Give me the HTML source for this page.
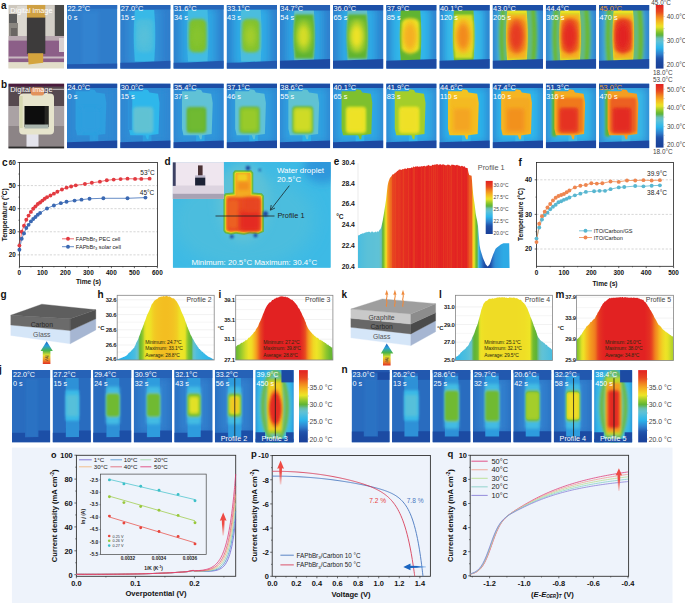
<!DOCTYPE html><html><head><meta charset="utf-8"><style>html,body{margin:0;padding:0;background:#fff;}svg{display:block;}</style></head><body>
<svg width="685" height="603" viewBox="0 0 685 603" font-family='"Liberation Sans", sans-serif'>
<rect width="685" height="603" fill="#fff"/>
<text x="0.90" y="9.40" font-size="10.00" fill="#111" font-weight="bold" text-anchor="start" >a</text>
<clipPath id="pa"><rect x="8.3" y="4.8" width="55.8" height="63.8"/></clipPath>
<filter id="pblur" x="-10%" y="-10%" width="120%" height="120%"><feGaussianBlur stdDeviation="0.6"/></filter>
<g clip-path="url(#pa)"><g filter="url(#pblur)">
<rect x="8.3" y="4.8" width="55.8" height="63.8" fill="#cdc7bd"/>
<rect x="17" y="6" width="11" height="34" fill="#dcd8d0"/>
<rect x="45" y="6" width="10" height="34" fill="#d2cec6"/>
<rect x="9" y="14" width="8" height="9" fill="#5c5c5c"/>
<rect x="9" y="23" width="9" height="17" fill="#8a8680"/>
<rect x="11" y="28" width="6" height="12" fill="#6a6664"/>
<rect x="54.8" y="5" width="9.5" height="31" fill="#4a4946"/>
<rect x="8.3" y="40.2" width="56" height="22" fill="#8c5e88"/>
<rect x="8.3" y="36" width="56" height="4.5" fill="#b8a8b0"/>
<rect x="8.3" y="56.5" width="56" height="2" fill="#c8b8c0"/>
<rect x="8.3" y="62.3" width="56" height="6.5" fill="#e2ddc9"/>
<rect x="59" y="38" width="5" height="14" fill="#d8d0d0"/>
<rect x="27" y="4.8" width="18.3" height="13.2" fill="#cfa042"/>
<rect x="26.9" y="17.6" width="18.4" height="36.2" fill="#3d3b3a"/>
<polygon points="28,53.2 43.2,53.2 43.2,62.8 28.5,64.6" fill="#d4a43c"/>
</g></g>
<text x="10.30" y="12.60" font-size="7.30" fill="#fff" font-weight="normal" text-anchor="start" >Digital image</text>
<clipPath id="c1"><rect x="67.00" y="5.00" width="50.40" height="63.80"/></clipPath>
<g clip-path="url(#c1)">
<rect x="67.00" y="5.00" width="50.40" height="63.80" fill="#2f7dcb"/>
<filter id="f2" x="-50%" y="-50%" width="200%" height="200%"><feGaussianBlur stdDeviation="1.50"/></filter>
<rect x="82.12" y="11.38" width="16.13" height="54.23" rx="0.00" fill="#3083d0" filter="url(#f2)"/>
<filter id="f3" x="-50%" y="-50%" width="200%" height="200%"><feGaussianBlur stdDeviation="0.50"/></filter>
<polygon points="67.00,5.00 117.40,5.00 117.40,8.83 67.00,8.83" fill="#296cbf" filter="url(#f3)"/>
<filter id="f4" x="-50%" y="-50%" width="200%" height="200%"><feGaussianBlur stdDeviation="0.60"/></filter>
<polygon points="67.00,64.33 117.40,63.38 117.40,68.80 67.00,68.80" fill="#2259af" filter="url(#f4)"/>
</g>
<text x="67.50" y="11.30" font-size="7.40" fill="#fff" font-weight="normal" text-anchor="start" >22.2&#176;C</text>
<text x="67.50" y="20.20" font-size="7.40" fill="#fff" font-weight="normal" text-anchor="start" >0 s</text>
<clipPath id="c5"><rect x="120.20" y="5.00" width="50.40" height="63.80"/></clipPath>
<g clip-path="url(#c5)">
<rect x="120.20" y="5.00" width="50.40" height="63.80" fill="#2f7dcb"/>
<filter id="f6" x="-50%" y="-50%" width="200%" height="200%"><feGaussianBlur stdDeviation="4.50"/></filter>
<rect x="124.23" y="7.55" width="41.33" height="58.70" rx="4.00" fill="#3083d0" filter="url(#f6)"/>
<filter id="f7" x="-50%" y="-50%" width="200%" height="200%"><feGaussianBlur stdDeviation="3.50"/></filter>
<rect x="130.28" y="8.83" width="29.23" height="56.14" rx="3.00" fill="#2f94d9" filter="url(#f7)"/>
<filter id="f8" x="-50%" y="-50%" width="200%" height="200%"><feGaussianBlur stdDeviation="0.70"/></filter>
<polygon points="134.82,10.10 134.43,16.52 134.10,22.94 133.88,29.36 133.81,35.78 133.88,42.20 134.10,48.62 134.43,55.04 134.82,61.46 154.22,61.46 154.61,55.04 154.93,48.62 155.15,42.20 155.23,35.78 155.15,29.36 154.93,22.94 154.61,16.52 154.22,10.10" fill="#38b9e7" filter="url(#f8)"/>
<filter id="f9" x="-50%" y="-50%" width="200%" height="200%"><feGaussianBlur stdDeviation="1.60"/></filter>
<rect x="135.82" y="19.04" width="17.39" height="33.18" rx="5.00" fill="#4cbdde" filter="url(#f9)"/>
<filter id="f10" x="-50%" y="-50%" width="200%" height="200%"><feGaussianBlur stdDeviation="2.20"/></filter>
<ellipse cx="144.14" cy="36.26" rx="6.55" ry="12.76" fill="#51bfdc" filter="url(#f10)"/>
<filter id="f11" x="-50%" y="-50%" width="200%" height="200%"><feGaussianBlur stdDeviation="2.20"/></filter>
<ellipse cx="143.89" cy="36.26" rx="4.03" ry="7.66" fill="#56c0da" filter="url(#f11)"/>
<filter id="f12" x="-50%" y="-50%" width="200%" height="200%"><feGaussianBlur stdDeviation="0.50"/></filter>
<polygon points="120.20,5.00 170.60,5.00 170.60,9.47 120.20,9.47" fill="#2766b9" filter="url(#f12)"/>
<filter id="f13" x="-50%" y="-50%" width="200%" height="200%"><feGaussianBlur stdDeviation="0.60"/></filter>
<polygon points="120.20,62.74 134.31,62.42 154.47,61.46 170.60,60.82 170.60,68.80 120.20,68.80" fill="#2259af" filter="url(#f13)"/>
</g>
<text x="120.70" y="11.30" font-size="7.40" fill="#fff" font-weight="normal" text-anchor="start" >27.0&#176;C</text>
<text x="120.70" y="20.20" font-size="7.40" fill="#fff" font-weight="normal" text-anchor="start" >15 s</text>
<clipPath id="c14"><rect x="173.40" y="5.00" width="50.40" height="63.80"/></clipPath>
<g clip-path="url(#c14)">
<rect x="173.40" y="5.00" width="50.40" height="63.80" fill="#2f7dcb"/>
<filter id="f15" x="-50%" y="-50%" width="200%" height="200%"><feGaussianBlur stdDeviation="4.50"/></filter>
<rect x="177.43" y="7.55" width="41.33" height="58.70" rx="4.00" fill="#2e97db" filter="url(#f15)"/>
<filter id="f16" x="-50%" y="-50%" width="200%" height="200%"><feGaussianBlur stdDeviation="3.50"/></filter>
<rect x="183.48" y="8.83" width="29.23" height="56.14" rx="3.00" fill="#2da8e4" filter="url(#f16)"/>
<filter id="f17" x="-50%" y="-50%" width="200%" height="200%"><feGaussianBlur stdDeviation="0.70"/></filter>
<polygon points="188.02,10.10 187.63,16.52 187.30,22.94 187.08,29.36 187.01,35.78 187.08,42.20 187.30,48.62 187.63,55.04 188.02,61.46 207.42,61.46 207.81,55.04 208.13,48.62 208.35,42.20 208.43,35.78 208.35,29.36 208.13,22.94 207.81,16.52 207.42,10.10" fill="#42bbe3" filter="url(#f17)"/>
<filter id="f18" x="-50%" y="-50%" width="200%" height="200%"><feGaussianBlur stdDeviation="1.60"/></filter>
<rect x="189.02" y="19.04" width="17.39" height="33.18" rx="5.00" fill="#7ec02f" filter="url(#f18)"/>
<filter id="f19" x="-50%" y="-50%" width="200%" height="200%"><feGaussianBlur stdDeviation="2.20"/></filter>
<ellipse cx="197.34" cy="36.26" rx="6.55" ry="12.76" fill="#82c22e" filter="url(#f19)"/>
<filter id="f20" x="-50%" y="-50%" width="200%" height="200%"><feGaussianBlur stdDeviation="2.20"/></filter>
<ellipse cx="197.09" cy="36.26" rx="4.03" ry="7.66" fill="#87c42e" filter="url(#f20)"/>
<filter id="f21" x="-50%" y="-50%" width="200%" height="200%"><feGaussianBlur stdDeviation="0.50"/></filter>
<polygon points="173.40,5.00 223.80,5.00 223.80,9.47 173.40,9.47" fill="#2766b9" filter="url(#f21)"/>
<filter id="f22" x="-50%" y="-50%" width="200%" height="200%"><feGaussianBlur stdDeviation="0.60"/></filter>
<polygon points="173.40,62.74 187.51,62.42 207.67,61.46 223.80,60.82 223.80,68.80 173.40,68.80" fill="#2259af" filter="url(#f22)"/>
</g>
<text x="173.90" y="11.30" font-size="7.40" fill="#fff" font-weight="normal" text-anchor="start" >31.6&#176;C</text>
<text x="173.90" y="20.20" font-size="7.40" fill="#fff" font-weight="normal" text-anchor="start" >34 s</text>
<clipPath id="c23"><rect x="226.60" y="5.00" width="50.40" height="63.80"/></clipPath>
<g clip-path="url(#c23)">
<rect x="226.60" y="5.00" width="50.40" height="63.80" fill="#2f7dcb"/>
<filter id="f24" x="-50%" y="-50%" width="200%" height="200%"><feGaussianBlur stdDeviation="4.50"/></filter>
<rect x="230.63" y="7.55" width="41.33" height="58.70" rx="4.00" fill="#2e9cde" filter="url(#f24)"/>
<filter id="f25" x="-50%" y="-50%" width="200%" height="200%"><feGaussianBlur stdDeviation="3.50"/></filter>
<rect x="236.68" y="8.83" width="29.23" height="56.14" rx="3.00" fill="#2dade7" filter="url(#f25)"/>
<filter id="f26" x="-50%" y="-50%" width="200%" height="200%"><feGaussianBlur stdDeviation="0.70"/></filter>
<polygon points="241.22,10.10 240.83,16.52 240.50,22.94 240.28,29.36 240.21,35.78 240.28,42.20 240.50,48.62 240.83,55.04 241.22,61.46 260.62,61.46 261.01,55.04 261.33,48.62 261.55,42.20 261.63,35.78 261.55,29.36 261.33,22.94 261.01,16.52 260.62,10.10" fill="#4cbdde" filter="url(#f26)"/>
<filter id="f27" x="-50%" y="-50%" width="200%" height="200%"><feGaussianBlur stdDeviation="1.60"/></filter>
<rect x="242.22" y="19.04" width="17.39" height="33.18" rx="5.00" fill="#82c22e" filter="url(#f27)"/>
<filter id="f28" x="-50%" y="-50%" width="200%" height="200%"><feGaussianBlur stdDeviation="2.20"/></filter>
<ellipse cx="250.54" cy="36.26" rx="6.55" ry="12.76" fill="#92c82d" filter="url(#f28)"/>
<filter id="f29" x="-50%" y="-50%" width="200%" height="200%"><feGaussianBlur stdDeviation="2.20"/></filter>
<ellipse cx="250.29" cy="36.26" rx="4.03" ry="7.66" fill="#a4ce2b" filter="url(#f29)"/>
<filter id="f30" x="-50%" y="-50%" width="200%" height="200%"><feGaussianBlur stdDeviation="0.50"/></filter>
<polygon points="226.60,5.00 277.00,5.00 277.00,9.47 226.60,9.47" fill="#2766b9" filter="url(#f30)"/>
<filter id="f31" x="-50%" y="-50%" width="200%" height="200%"><feGaussianBlur stdDeviation="0.60"/></filter>
<polygon points="226.60,62.74 240.71,62.42 260.87,61.46 277.00,60.82 277.00,68.80 226.60,68.80" fill="#2259af" filter="url(#f31)"/>
</g>
<text x="227.10" y="11.30" font-size="7.40" fill="#fff" font-weight="normal" text-anchor="start" >33.1&#176;C</text>
<text x="227.10" y="20.20" font-size="7.40" fill="#fff" font-weight="normal" text-anchor="start" >43 s</text>
<clipPath id="c32"><rect x="279.80" y="5.00" width="50.40" height="63.80"/></clipPath>
<g clip-path="url(#c32)">
<rect x="279.80" y="5.00" width="50.40" height="63.80" fill="#2f7dcb"/>
<filter id="f33" x="-50%" y="-50%" width="200%" height="200%"><feGaussianBlur stdDeviation="4.50"/></filter>
<rect x="283.83" y="7.55" width="41.33" height="58.70" rx="4.00" fill="#2e97db" filter="url(#f33)"/>
<filter id="f34" x="-50%" y="-50%" width="200%" height="200%"><feGaussianBlur stdDeviation="3.50"/></filter>
<rect x="289.88" y="8.83" width="29.23" height="56.14" rx="3.00" fill="#2da8e4" filter="url(#f34)"/>
<filter id="f35" x="-50%" y="-50%" width="200%" height="200%"><feGaussianBlur stdDeviation="0.70"/></filter>
<polygon points="294.42,10.10 294.03,16.52 293.70,22.94 293.48,29.36 293.41,35.78 293.48,42.20 293.70,48.62 294.03,55.04 294.42,61.46 313.82,61.46 314.21,55.04 314.53,48.62 314.75,42.20 314.83,35.78 314.75,29.36 314.53,22.94 314.21,16.52 313.82,10.10" fill="#62c1cf" filter="url(#f35)"/>
<filter id="f36" x="-50%" y="-50%" width="200%" height="200%"><feGaussianBlur stdDeviation="1.00"/></filter>
<polygon points="294.92,14.57 294.53,20.07 294.21,25.58 293.99,31.08 293.91,36.58 293.99,42.08 294.21,47.59 294.53,53.09 294.92,58.59 313.32,58.59 313.70,53.09 314.03,47.59 314.25,42.08 314.32,36.58 314.25,31.08 314.03,25.58 313.70,20.07 313.32,14.57" fill="#61b433" filter="url(#f36)"/>
<filter id="f37" x="-50%" y="-50%" width="200%" height="200%"><feGaussianBlur stdDeviation="1.60"/></filter>
<rect x="295.42" y="19.04" width="17.39" height="33.18" rx="5.00" fill="#6fba31" filter="url(#f37)"/>
<filter id="f38" x="-50%" y="-50%" width="200%" height="200%"><feGaussianBlur stdDeviation="2.20"/></filter>
<ellipse cx="303.74" cy="36.26" rx="7.56" ry="15.95" fill="#9ecc2c" filter="url(#f38)"/>
<filter id="f39" x="-50%" y="-50%" width="200%" height="200%"><feGaussianBlur stdDeviation="2.20"/></filter>
<ellipse cx="303.49" cy="36.26" rx="5.04" ry="10.21" fill="#d6dd28" filter="url(#f39)"/>
<filter id="f40" x="-50%" y="-50%" width="200%" height="200%"><feGaussianBlur stdDeviation="0.50"/></filter>
<polygon points="279.80,5.00 330.20,5.00 330.20,10.42 279.80,10.42" fill="#255fb4" filter="url(#f40)"/>
<filter id="f41" x="-50%" y="-50%" width="200%" height="200%"><feGaussianBlur stdDeviation="0.50"/></filter>
<polygon points="279.80,60.82 330.20,58.91 330.20,68.80 279.80,68.80" fill="#1d4ba3" filter="url(#f41)"/>
</g>
<text x="280.30" y="11.30" font-size="7.40" fill="#fff" font-weight="normal" text-anchor="start" >34.7&#176;C</text>
<text x="280.30" y="20.20" font-size="7.40" fill="#fff" font-weight="normal" text-anchor="start" >54 s</text>
<clipPath id="c42"><rect x="333.00" y="5.00" width="50.40" height="63.80"/></clipPath>
<g clip-path="url(#c42)">
<rect x="333.00" y="5.00" width="50.40" height="63.80" fill="#2f7dcb"/>
<filter id="f43" x="-50%" y="-50%" width="200%" height="200%"><feGaussianBlur stdDeviation="4.50"/></filter>
<rect x="337.03" y="7.55" width="41.33" height="58.70" rx="4.00" fill="#2e9cde" filter="url(#f43)"/>
<filter id="f44" x="-50%" y="-50%" width="200%" height="200%"><feGaussianBlur stdDeviation="3.50"/></filter>
<rect x="343.08" y="8.83" width="29.23" height="56.14" rx="3.00" fill="#2dade7" filter="url(#f44)"/>
<filter id="f45" x="-50%" y="-50%" width="200%" height="200%"><feGaussianBlur stdDeviation="0.70"/></filter>
<polygon points="347.62,10.10 347.23,16.52 346.90,22.94 346.68,29.36 346.61,35.78 346.68,42.20 346.90,48.62 347.23,55.04 347.62,61.46 367.02,61.46 367.41,55.04 367.73,48.62 367.95,42.20 368.03,35.78 367.95,29.36 367.73,22.94 367.41,16.52 367.02,10.10" fill="#63c0c8" filter="url(#f45)"/>
<filter id="f46" x="-50%" y="-50%" width="200%" height="200%"><feGaussianBlur stdDeviation="1.00"/></filter>
<polygon points="348.12,14.57 347.73,20.07 347.41,25.58 347.19,31.08 347.11,36.58 347.19,42.08 347.41,47.59 347.73,53.09 348.12,58.59 366.52,58.59 366.90,53.09 367.23,47.59 367.45,42.08 367.52,36.58 367.45,31.08 367.23,25.58 366.90,20.07 366.52,14.57" fill="#61b433" filter="url(#f46)"/>
<filter id="f47" x="-50%" y="-50%" width="200%" height="200%"><feGaussianBlur stdDeviation="1.60"/></filter>
<rect x="348.62" y="19.04" width="17.39" height="33.18" rx="5.00" fill="#79be30" filter="url(#f47)"/>
<filter id="f48" x="-50%" y="-50%" width="200%" height="200%"><feGaussianBlur stdDeviation="2.20"/></filter>
<ellipse cx="356.94" cy="36.26" rx="7.56" ry="15.95" fill="#b4d32a" filter="url(#f48)"/>
<filter id="f49" x="-50%" y="-50%" width="200%" height="200%"><feGaussianBlur stdDeviation="2.20"/></filter>
<ellipse cx="356.69" cy="36.26" rx="5.04" ry="10.21" fill="#eee226" filter="url(#f49)"/>
<filter id="f50" x="-50%" y="-50%" width="200%" height="200%"><feGaussianBlur stdDeviation="0.50"/></filter>
<polygon points="333.00,5.00 383.40,5.00 383.40,10.42 333.00,10.42" fill="#1f4fa7" filter="url(#f50)"/>
<filter id="f51" x="-50%" y="-50%" width="200%" height="200%"><feGaussianBlur stdDeviation="0.50"/></filter>
<polygon points="333.00,60.82 383.40,58.91 383.40,68.80 333.00,68.80" fill="#1d4ba3" filter="url(#f51)"/>
</g>
<text x="333.50" y="11.30" font-size="7.40" fill="#fff" font-weight="normal" text-anchor="start" >36.0&#176;C</text>
<text x="333.50" y="20.20" font-size="7.40" fill="#fff" font-weight="normal" text-anchor="start" >65 s</text>
<clipPath id="c52"><rect x="386.20" y="5.00" width="50.40" height="63.80"/></clipPath>
<g clip-path="url(#c52)">
<rect x="386.20" y="5.00" width="50.40" height="63.80" fill="#2f7dcb"/>
<filter id="f53" x="-50%" y="-50%" width="200%" height="200%"><feGaussianBlur stdDeviation="4.50"/></filter>
<rect x="390.23" y="7.55" width="41.33" height="58.70" rx="4.00" fill="#2dade7" filter="url(#f53)"/>
<filter id="f54" x="-50%" y="-50%" width="200%" height="200%"><feGaussianBlur stdDeviation="3.50"/></filter>
<rect x="396.28" y="8.83" width="29.23" height="56.14" rx="3.00" fill="#33b8e9" filter="url(#f54)"/>
<filter id="f55" x="-50%" y="-50%" width="200%" height="200%"><feGaussianBlur stdDeviation="0.70"/></filter>
<polygon points="400.82,10.10 400.43,16.52 400.10,22.94 399.88,29.36 399.81,35.78 399.88,42.20 400.10,48.62 400.43,55.04 400.82,61.46 420.22,61.46 420.61,55.04 420.93,48.62 421.15,42.20 421.23,35.78 421.15,29.36 420.93,22.94 420.61,16.52 420.22,10.10" fill="#61b433" filter="url(#f55)"/>
<filter id="f56" x="-50%" y="-50%" width="200%" height="200%"><feGaussianBlur stdDeviation="0.70"/></filter>
<polygon points="401.32,12.66 400.93,18.56 400.61,24.46 400.39,30.36 400.31,36.26 400.39,42.16 400.61,48.06 400.93,53.97 401.32,59.87 419.72,59.87 420.10,53.97 420.43,48.06 420.65,42.16 420.72,36.26 420.65,30.36 420.43,24.46 420.10,18.56 419.72,12.66" fill="#61b433" filter="url(#f56)"/>
<filter id="f57" x="-50%" y="-50%" width="200%" height="200%"><feGaussianBlur stdDeviation="1.60"/></filter>
<rect x="401.82" y="19.04" width="17.39" height="33.18" rx="5.00" fill="#eee526" filter="url(#f57)"/>
<filter id="f58" x="-50%" y="-50%" width="200%" height="200%"><feGaussianBlur stdDeviation="2.00"/></filter>
<ellipse cx="410.14" cy="36.26" rx="7.31" ry="17.23" fill="#f2ca23" filter="url(#f58)"/>
<filter id="f59" x="-50%" y="-50%" width="200%" height="200%"><feGaussianBlur stdDeviation="2.00"/></filter>
<ellipse cx="409.89" cy="36.26" rx="5.54" ry="12.12" fill="#f5af20" filter="url(#f59)"/>
<filter id="f60" x="-50%" y="-50%" width="200%" height="200%"><feGaussianBlur stdDeviation="0.50"/></filter>
<polygon points="386.20,5.00 436.60,5.00 436.60,10.42 386.20,10.42" fill="#1f4fa7" filter="url(#f60)"/>
<filter id="f61" x="-50%" y="-50%" width="200%" height="200%"><feGaussianBlur stdDeviation="0.50"/></filter>
<polygon points="386.20,60.82 436.60,58.91 436.60,68.80 386.20,68.80" fill="#1d4ba3" filter="url(#f61)"/>
</g>
<text x="386.70" y="11.30" font-size="7.40" fill="#fff" font-weight="normal" text-anchor="start" >37.9&#176;C</text>
<text x="386.70" y="20.20" font-size="7.40" fill="#fff" font-weight="normal" text-anchor="start" >85 s</text>
<clipPath id="c62"><rect x="439.40" y="5.00" width="50.40" height="63.80"/></clipPath>
<g clip-path="url(#c62)">
<rect x="439.40" y="5.00" width="50.40" height="63.80" fill="#2f7dcb"/>
<filter id="f63" x="-50%" y="-50%" width="200%" height="200%"><feGaussianBlur stdDeviation="4.50"/></filter>
<rect x="443.43" y="7.55" width="41.33" height="58.70" rx="4.00" fill="#2eb7eb" filter="url(#f63)"/>
<filter id="f64" x="-50%" y="-50%" width="200%" height="200%"><feGaussianBlur stdDeviation="3.50"/></filter>
<rect x="449.48" y="8.83" width="29.23" height="56.14" rx="3.00" fill="#3dbae5" filter="url(#f64)"/>
<filter id="f65" x="-50%" y="-50%" width="200%" height="200%"><feGaussianBlur stdDeviation="0.70"/></filter>
<polygon points="454.02,10.10 453.63,16.52 453.30,22.94 453.08,29.36 453.01,35.78 453.08,42.20 453.30,48.62 453.63,55.04 454.02,61.46 473.42,61.46 473.81,55.04 474.13,48.62 474.35,42.20 474.43,35.78 474.35,29.36 474.13,22.94 473.81,16.52 473.42,10.10" fill="#6fba31" filter="url(#f65)"/>
<filter id="f66" x="-50%" y="-50%" width="200%" height="200%"><feGaussianBlur stdDeviation="0.70"/></filter>
<polygon points="454.52,12.66 454.13,18.56 453.81,24.46 453.59,30.36 453.51,36.26 453.59,42.16 453.81,48.06 454.13,53.97 454.52,59.87 472.92,59.87 473.30,53.97 473.63,48.06 473.85,42.16 473.92,36.26 473.85,30.36 473.63,24.46 473.30,18.56 472.92,12.66" fill="#61b433" filter="url(#f66)"/>
<filter id="f67" x="-50%" y="-50%" width="200%" height="200%"><feGaussianBlur stdDeviation="0.90"/></filter>
<polygon points="454.77,14.57 454.39,20.07 454.06,25.58 453.84,31.08 453.76,36.58 453.84,42.08 454.06,47.59 454.39,53.09 454.77,58.59 472.66,58.59 473.05,53.09 473.38,47.59 473.60,42.08 473.67,36.58 473.60,31.08 473.38,25.58 473.05,20.07 472.66,14.57" fill="#d6dd28" filter="url(#f67)"/>
<filter id="f68" x="-50%" y="-50%" width="200%" height="200%"><feGaussianBlur stdDeviation="1.60"/></filter>
<rect x="455.02" y="19.04" width="17.39" height="33.18" rx="5.00" fill="#f0d424" filter="url(#f68)"/>
<filter id="f69" x="-50%" y="-50%" width="200%" height="200%"><feGaussianBlur stdDeviation="2.00"/></filter>
<ellipse cx="463.34" cy="36.26" rx="7.31" ry="17.23" fill="#f5b220" filter="url(#f69)"/>
<filter id="f70" x="-50%" y="-50%" width="200%" height="200%"><feGaussianBlur stdDeviation="2.00"/></filter>
<ellipse cx="463.09" cy="36.26" rx="5.54" ry="12.12" fill="#f28a1f" filter="url(#f70)"/>
<filter id="f71" x="-50%" y="-50%" width="200%" height="200%"><feGaussianBlur stdDeviation="0.50"/></filter>
<polygon points="439.40,5.00 489.80,5.00 489.80,10.42 439.40,10.42" fill="#1f4fa7" filter="url(#f71)"/>
<filter id="f72" x="-50%" y="-50%" width="200%" height="200%"><feGaussianBlur stdDeviation="0.50"/></filter>
<polygon points="439.40,60.82 489.80,58.91 489.80,68.80 439.40,68.80" fill="#1d4ba3" filter="url(#f72)"/>
</g>
<text x="439.90" y="11.30" font-size="7.40" fill="#fff" font-weight="normal" text-anchor="start" >40.1&#176;C</text>
<text x="439.90" y="20.20" font-size="7.40" fill="#fff" font-weight="normal" text-anchor="start" >120 s</text>
<clipPath id="c73"><rect x="492.60" y="5.00" width="50.40" height="63.80"/></clipPath>
<g clip-path="url(#c73)">
<rect x="492.60" y="5.00" width="50.40" height="63.80" fill="#2f7dcb"/>
<filter id="f74" x="-50%" y="-50%" width="200%" height="200%"><feGaussianBlur stdDeviation="4.50"/></filter>
<rect x="496.63" y="7.55" width="41.33" height="58.70" rx="4.00" fill="#42bbe3" filter="url(#f74)"/>
<filter id="f75" x="-50%" y="-50%" width="200%" height="200%"><feGaussianBlur stdDeviation="3.50"/></filter>
<rect x="502.68" y="8.83" width="29.23" height="56.14" rx="3.00" fill="#51bfdc" filter="url(#f75)"/>
<filter id="f76" x="-50%" y="-50%" width="200%" height="200%"><feGaussianBlur stdDeviation="1.40"/></filter>
<polygon points="500.92,6.91 500.24,14.41 499.67,21.91 499.29,29.40 499.15,36.90 499.29,44.40 499.67,51.89 500.24,59.39 500.92,66.89 535.19,66.89 535.86,59.39 536.44,51.89 536.82,44.40 536.95,36.90 536.82,29.40 536.44,21.91 535.86,14.41 535.19,6.91" fill="#6ab832" filter="url(#f76)"/>
<filter id="f77" x="-50%" y="-50%" width="200%" height="200%"><feGaussianBlur stdDeviation="1.00"/></filter>
<polygon points="504.44,8.19 503.96,15.37 503.55,22.54 503.28,29.72 503.18,36.90 503.28,44.08 503.55,51.25 503.96,58.43 504.44,65.61 531.16,65.61 531.64,58.43 532.05,51.25 532.32,44.08 532.42,36.90 532.32,29.72 532.05,22.54 531.64,15.37 531.16,8.19" fill="#63b981" filter="url(#f77)"/>
<filter id="f78" x="-50%" y="-50%" width="200%" height="200%"><feGaussianBlur stdDeviation="0.70"/></filter>
<polygon points="507.22,10.10 506.83,16.52 506.50,22.94 506.28,29.36 506.21,35.78 506.28,42.20 506.50,48.62 506.83,55.04 507.22,61.46 526.62,61.46 527.01,55.04 527.33,48.62 527.55,42.20 527.63,35.78 527.55,29.36 527.33,22.94 527.01,16.52 526.62,10.10" fill="#e8e326" filter="url(#f78)"/>
<filter id="f79" x="-50%" y="-50%" width="200%" height="200%"><feGaussianBlur stdDeviation="0.70"/></filter>
<polygon points="507.72,12.66 507.33,18.56 507.01,24.46 506.79,30.36 506.71,36.26 506.79,42.16 507.01,48.06 507.33,53.97 507.72,59.87 526.12,59.87 526.50,53.97 526.83,48.06 527.05,42.16 527.12,36.26 527.05,30.36 526.83,24.46 526.50,18.56 526.12,12.66" fill="#d6dd28" filter="url(#f79)"/>
<filter id="f80" x="-50%" y="-50%" width="200%" height="200%"><feGaussianBlur stdDeviation="0.90"/></filter>
<polygon points="507.97,14.57 507.59,20.07 507.26,25.58 507.04,31.08 506.96,36.58 507.04,42.08 507.26,47.59 507.59,53.09 507.97,58.59 525.86,58.59 526.25,53.09 526.58,47.59 526.80,42.08 526.87,36.58 526.80,31.08 526.58,25.58 526.25,20.07 525.86,14.57" fill="#f5b220" filter="url(#f80)"/>
<filter id="f81" x="-50%" y="-50%" width="200%" height="200%"><feGaussianBlur stdDeviation="1.60"/></filter>
<rect x="508.22" y="19.04" width="17.39" height="33.18" rx="5.00" fill="#f2911f" filter="url(#f81)"/>
<filter id="f82" x="-50%" y="-50%" width="200%" height="200%"><feGaussianBlur stdDeviation="2.00"/></filter>
<ellipse cx="516.54" cy="36.26" rx="7.31" ry="17.23" fill="#eb5d20" filter="url(#f82)"/>
<filter id="f83" x="-50%" y="-50%" width="200%" height="200%"><feGaussianBlur stdDeviation="2.00"/></filter>
<ellipse cx="516.29" cy="36.26" rx="5.54" ry="12.12" fill="#e63a21" filter="url(#f83)"/>
<filter id="f84" x="-50%" y="-50%" width="200%" height="200%"><feGaussianBlur stdDeviation="0.50"/></filter>
<polygon points="492.60,5.00 543.00,5.00 543.00,10.42 492.60,10.42" fill="#1f4fa7" filter="url(#f84)"/>
<filter id="f85" x="-50%" y="-50%" width="200%" height="200%"><feGaussianBlur stdDeviation="0.50"/></filter>
<polygon points="492.60,60.82 543.00,58.91 543.00,68.80 492.60,68.80" fill="#1d4ba3" filter="url(#f85)"/>
</g>
<text x="493.10" y="11.30" font-size="7.40" fill="#fff" font-weight="normal" text-anchor="start" >43.0&#176;C</text>
<text x="493.10" y="20.20" font-size="7.40" fill="#fff" font-weight="normal" text-anchor="start" >205 s</text>
<clipPath id="c86"><rect x="545.80" y="5.00" width="50.40" height="63.80"/></clipPath>
<g clip-path="url(#c86)">
<rect x="545.80" y="5.00" width="50.40" height="63.80" fill="#2f7dcb"/>
<filter id="f87" x="-50%" y="-50%" width="200%" height="200%"><feGaussianBlur stdDeviation="4.50"/></filter>
<rect x="549.83" y="7.55" width="41.33" height="58.70" rx="4.00" fill="#47bce0" filter="url(#f87)"/>
<filter id="f88" x="-50%" y="-50%" width="200%" height="200%"><feGaussianBlur stdDeviation="3.50"/></filter>
<rect x="555.88" y="8.83" width="29.23" height="56.14" rx="3.00" fill="#56c0da" filter="url(#f88)"/>
<filter id="f89" x="-50%" y="-50%" width="200%" height="200%"><feGaussianBlur stdDeviation="1.40"/></filter>
<polygon points="554.12,6.91 553.44,14.41 552.87,21.91 552.49,29.40 552.35,36.90 552.49,44.40 552.87,51.89 553.44,59.39 554.12,66.89 588.39,66.89 589.06,59.39 589.64,51.89 590.02,44.40 590.15,36.90 590.02,29.40 589.64,21.91 589.06,14.41 588.39,6.91" fill="#6ab832" filter="url(#f89)"/>
<filter id="f90" x="-50%" y="-50%" width="200%" height="200%"><feGaussianBlur stdDeviation="1.00"/></filter>
<polygon points="557.64,8.19 557.16,15.37 556.75,22.54 556.48,29.72 556.38,36.90 556.48,44.08 556.75,51.25 557.16,58.43 557.64,65.61 584.36,65.61 584.84,58.43 585.25,51.25 585.52,44.08 585.62,36.90 585.52,29.72 585.25,22.54 584.84,15.37 584.36,8.19" fill="#63b981" filter="url(#f90)"/>
<filter id="f91" x="-50%" y="-50%" width="200%" height="200%"><feGaussianBlur stdDeviation="0.70"/></filter>
<polygon points="560.42,10.10 560.03,16.52 559.70,22.94 559.48,29.36 559.41,35.78 559.48,42.20 559.70,48.62 560.03,55.04 560.42,61.46 579.82,61.46 580.21,55.04 580.53,48.62 580.75,42.20 580.83,35.78 580.75,29.36 580.53,22.94 580.21,16.52 579.82,10.10" fill="#eee526" filter="url(#f91)"/>
<filter id="f92" x="-50%" y="-50%" width="200%" height="200%"><feGaussianBlur stdDeviation="0.70"/></filter>
<polygon points="560.92,12.66 560.53,18.56 560.21,24.46 559.99,30.36 559.91,36.26 559.99,42.16 560.21,48.06 560.53,53.97 560.92,59.87 579.32,59.87 579.70,53.97 580.03,48.06 580.25,42.16 580.32,36.26 580.25,30.36 580.03,24.46 579.70,18.56 579.32,12.66" fill="#d6dd28" filter="url(#f92)"/>
<filter id="f93" x="-50%" y="-50%" width="200%" height="200%"><feGaussianBlur stdDeviation="0.90"/></filter>
<polygon points="561.17,14.57 560.79,20.07 560.46,25.58 560.24,31.08 560.16,36.58 560.24,42.08 560.46,47.59 560.79,53.09 561.17,58.59 579.06,58.59 579.45,53.09 579.78,47.59 580.00,42.08 580.07,36.58 580.00,31.08 579.78,25.58 579.45,20.07 579.06,14.57" fill="#f5b220" filter="url(#f93)"/>
<filter id="f94" x="-50%" y="-50%" width="200%" height="200%"><feGaussianBlur stdDeviation="1.60"/></filter>
<rect x="561.42" y="19.04" width="17.39" height="33.18" rx="5.00" fill="#ee711f" filter="url(#f94)"/>
<filter id="f95" x="-50%" y="-50%" width="200%" height="200%"><feGaussianBlur stdDeviation="2.00"/></filter>
<ellipse cx="569.74" cy="36.26" rx="7.31" ry="17.23" fill="#e74320" filter="url(#f95)"/>
<filter id="f96" x="-50%" y="-50%" width="200%" height="200%"><feGaussianBlur stdDeviation="2.00"/></filter>
<ellipse cx="569.49" cy="36.26" rx="5.54" ry="12.12" fill="#e42c21" filter="url(#f96)"/>
<filter id="f97" x="-50%" y="-50%" width="200%" height="200%"><feGaussianBlur stdDeviation="0.50"/></filter>
<polygon points="545.80,5.00 596.20,5.00 596.20,10.42 545.80,10.42" fill="#1f4fa7" filter="url(#f97)"/>
<filter id="f98" x="-50%" y="-50%" width="200%" height="200%"><feGaussianBlur stdDeviation="0.50"/></filter>
<polygon points="545.80,60.82 596.20,58.91 596.20,68.80 545.80,68.80" fill="#1d4ba3" filter="url(#f98)"/>
</g>
<text x="546.30" y="11.30" font-size="7.40" fill="#fff" font-weight="normal" text-anchor="start" >44.4&#176;C</text>
<text x="546.30" y="20.20" font-size="7.40" fill="#fff" font-weight="normal" text-anchor="start" >305 s</text>
<clipPath id="c99"><rect x="599.00" y="5.00" width="50.40" height="63.80"/></clipPath>
<g clip-path="url(#c99)">
<rect x="599.00" y="5.00" width="50.40" height="63.80" fill="#2f7dcb"/>
<filter id="f100" x="-50%" y="-50%" width="200%" height="200%"><feGaussianBlur stdDeviation="4.50"/></filter>
<rect x="603.03" y="7.55" width="41.33" height="58.70" rx="4.00" fill="#4cbdde" filter="url(#f100)"/>
<filter id="f101" x="-50%" y="-50%" width="200%" height="200%"><feGaussianBlur stdDeviation="3.50"/></filter>
<rect x="609.08" y="8.83" width="29.23" height="56.14" rx="3.00" fill="#5bc1d8" filter="url(#f101)"/>
<filter id="f102" x="-50%" y="-50%" width="200%" height="200%"><feGaussianBlur stdDeviation="1.40"/></filter>
<polygon points="607.32,6.91 606.64,14.41 606.07,21.91 605.69,29.40 605.55,36.90 605.69,44.40 606.07,51.89 606.64,59.39 607.32,66.89 641.59,66.89 642.26,59.39 642.84,51.89 643.22,44.40 643.35,36.90 643.22,29.40 642.84,21.91 642.26,14.41 641.59,6.91" fill="#6ab832" filter="url(#f102)"/>
<filter id="f103" x="-50%" y="-50%" width="200%" height="200%"><feGaussianBlur stdDeviation="1.00"/></filter>
<polygon points="610.84,8.19 610.36,15.37 609.95,22.54 609.68,29.72 609.58,36.90 609.68,44.08 609.95,51.25 610.36,58.43 610.84,65.61 637.56,65.61 638.04,58.43 638.45,51.25 638.72,44.08 638.82,36.90 638.72,29.72 638.45,22.54 638.04,15.37 637.56,8.19" fill="#63b981" filter="url(#f103)"/>
<filter id="f104" x="-50%" y="-50%" width="200%" height="200%"><feGaussianBlur stdDeviation="0.70"/></filter>
<polygon points="613.62,10.10 613.23,16.52 612.90,22.94 612.68,29.36 612.61,35.78 612.68,42.20 612.90,48.62 613.23,55.04 613.62,61.46 633.02,61.46 633.41,55.04 633.73,48.62 633.95,42.20 634.03,35.78 633.95,29.36 633.73,22.94 633.41,16.52 633.02,10.10" fill="#eee526" filter="url(#f104)"/>
<filter id="f105" x="-50%" y="-50%" width="200%" height="200%"><feGaussianBlur stdDeviation="0.70"/></filter>
<polygon points="614.12,12.66 613.73,18.56 613.41,24.46 613.19,30.36 613.11,36.26 613.19,42.16 613.41,48.06 613.73,53.97 614.12,59.87 632.52,59.87 632.90,53.97 633.23,48.06 633.45,42.16 633.52,36.26 633.45,30.36 633.23,24.46 632.90,18.56 632.52,12.66" fill="#d6dd28" filter="url(#f105)"/>
<filter id="f106" x="-50%" y="-50%" width="200%" height="200%"><feGaussianBlur stdDeviation="0.90"/></filter>
<polygon points="614.37,14.57 613.99,20.07 613.66,25.58 613.44,31.08 613.36,36.58 613.44,42.08 613.66,47.59 613.99,53.09 614.37,58.59 632.26,58.59 632.65,53.09 632.98,47.59 633.20,42.08 633.27,36.58 633.20,31.08 632.98,25.58 632.65,20.07 632.26,14.57" fill="#f5b220" filter="url(#f106)"/>
<filter id="f107" x="-50%" y="-50%" width="200%" height="200%"><feGaussianBlur stdDeviation="1.60"/></filter>
<rect x="614.62" y="19.04" width="17.39" height="33.18" rx="5.00" fill="#e95020" filter="url(#f107)"/>
<filter id="f108" x="-50%" y="-50%" width="200%" height="200%"><feGaussianBlur stdDeviation="2.00"/></filter>
<ellipse cx="622.94" cy="36.26" rx="7.31" ry="17.23" fill="#e53721" filter="url(#f108)"/>
<filter id="f109" x="-50%" y="-50%" width="200%" height="200%"><feGaussianBlur stdDeviation="2.00"/></filter>
<ellipse cx="622.69" cy="36.26" rx="5.54" ry="12.12" fill="#e22222" filter="url(#f109)"/>
<filter id="f110" x="-50%" y="-50%" width="200%" height="200%"><feGaussianBlur stdDeviation="0.50"/></filter>
<polygon points="599.00,5.00 649.40,5.00 649.40,10.42 599.00,10.42" fill="#1f4fa7" filter="url(#f110)"/>
<filter id="f111" x="-50%" y="-50%" width="200%" height="200%"><feGaussianBlur stdDeviation="0.50"/></filter>
<polygon points="599.00,60.82 649.40,58.91 649.40,68.80 599.00,68.80" fill="#1d4ba3" filter="url(#f111)"/>
</g>
<text x="599.50" y="11.30" font-size="7.40" fill="#f0a030" font-weight="normal" text-anchor="start" >45.0&#176;C</text>
<text x="599.50" y="20.20" font-size="7.40" fill="#fff" font-weight="normal" text-anchor="start" >470 s</text>
<linearGradient id="g112" x1="0" y1="1" x2="0" y2="0">
<stop offset="0.000" stop-color="#1a3f98"/>
<stop offset="0.025" stop-color="#1a419a"/>
<stop offset="0.050" stop-color="#1b449c"/>
<stop offset="0.075" stop-color="#1c469e"/>
<stop offset="0.100" stop-color="#1c48a0"/>
<stop offset="0.125" stop-color="#1e4ca4"/>
<stop offset="0.150" stop-color="#1f50a8"/>
<stop offset="0.175" stop-color="#235cb2"/>
<stop offset="0.200" stop-color="#296cbf"/>
<stop offset="0.225" stop-color="#2f7dcb"/>
<stop offset="0.250" stop-color="#2f8bd4"/>
<stop offset="0.275" stop-color="#2e9adc"/>
<stop offset="0.300" stop-color="#2da8e4"/>
<stop offset="0.325" stop-color="#2cb6ec"/>
<stop offset="0.350" stop-color="#38b9e7"/>
<stop offset="0.375" stop-color="#45bce2"/>
<stop offset="0.400" stop-color="#51bfdc"/>
<stop offset="0.425" stop-color="#5ec1d7"/>
<stop offset="0.450" stop-color="#63c0c8"/>
<stop offset="0.475" stop-color="#67beb7"/>
<stop offset="0.500" stop-color="#63b981"/>
<stop offset="0.525" stop-color="#5db341"/>
<stop offset="0.550" stop-color="#6fba31"/>
<stop offset="0.575" stop-color="#87c42e"/>
<stop offset="0.600" stop-color="#a4ce2b"/>
<stop offset="0.625" stop-color="#c3d729"/>
<stop offset="0.650" stop-color="#e2e127"/>
<stop offset="0.675" stop-color="#efdc25"/>
<stop offset="0.700" stop-color="#f1ce23"/>
<stop offset="0.725" stop-color="#f3c022"/>
<stop offset="0.750" stop-color="#f5b220"/>
<stop offset="0.775" stop-color="#f4a120"/>
<stop offset="0.800" stop-color="#f2911f"/>
<stop offset="0.825" stop-color="#f07e1f"/>
<stop offset="0.850" stop-color="#ed6920"/>
<stop offset="0.875" stop-color="#ea5420"/>
<stop offset="0.900" stop-color="#e74520"/>
<stop offset="0.925" stop-color="#e63c21"/>
<stop offset="0.950" stop-color="#e53321"/>
<stop offset="0.975" stop-color="#e32b22"/>
<stop offset="1.000" stop-color="#e22222"/>
</linearGradient>
<rect x="655.80" y="5.00" width="7.70" height="63.60" fill="url(#g112)"/>
<line x1="663.5" y1="16.5" x2="664.6" y2="16.5" stroke="#999" stroke-width="0.5"/>
<line x1="663.5" y1="28.6" x2="664.6" y2="28.6" stroke="#999" stroke-width="0.5"/>
<line x1="663.5" y1="40.8" x2="664.6" y2="40.8" stroke="#999" stroke-width="0.5"/>
<line x1="663.5" y1="52.9" x2="664.6" y2="52.9" stroke="#999" stroke-width="0.5"/>
<line x1="663.5" y1="64.9" x2="664.6" y2="64.9" stroke="#999" stroke-width="0.5"/>
<text x="651.30" y="4.60" font-size="6.40" fill="#444" font-weight="normal" text-anchor="start" >45.0&#176;C</text>
<text x="666.80" y="18.80" font-size="6.40" fill="#444" font-weight="normal" text-anchor="start" >40.0&#176;C</text>
<text x="666.80" y="43.10" font-size="6.40" fill="#444" font-weight="normal" text-anchor="start" >30.0&#176;C</text>
<text x="666.80" y="67.20" font-size="6.40" fill="#444" font-weight="normal" text-anchor="start" >20.0&#176;C</text>
<text x="653.00" y="75.40" font-size="6.40" fill="#444" font-weight="normal" text-anchor="start" >18.0&#176;C</text>
<text x="0.90" y="88.00" font-size="10.00" fill="#111" font-weight="bold" text-anchor="start" >b</text>
<clipPath id="pb"><rect x="8.3" y="83.5" width="56" height="65.1"/></clipPath>
<g clip-path="url(#pb)"><g filter="url(#pblur)">
<rect x="8.3" y="83.5" width="56" height="65.1" fill="#6a5e62"/>
<rect x="8.3" y="86" width="56" height="20" fill="#564850"/>
<rect x="8.3" y="106" width="56" height="20" fill="#aaa2a4"/>
<rect x="8.3" y="126" width="56" height="21" fill="#8c8486"/>
<rect x="8.3" y="83.5" width="56" height="3" fill="#4c1a3c"/>
<rect x="8.3" y="146.6" width="56" height="2.2" fill="#2a2a2a"/>
<rect x="26.5" y="131" width="12" height="15.6" fill="#e4e4ec"/>
<rect x="19.2" y="93.6" width="34.8" height="40.8" rx="4" fill="#e6e4cc"/>
<rect x="19.5" y="96" width="3.2" height="32" fill="#d6d8b0"/>
<rect x="31" y="87.4" width="13" height="8" rx="2" fill="#e2925c"/>
<rect x="24.5" y="106" width="24" height="21" fill="#0c0c0c"/>
<rect x="44.5" y="106" width="4" height="21" fill="#262622"/>
<rect x="24.5" y="124.5" width="24" height="4" fill="#a8b4ac"/>
</g></g>
<text x="10.30" y="92.00" font-size="7.30" fill="#fff" font-weight="normal" text-anchor="start" >Digital image</text>
<line x1="52.5" y1="89.3" x2="64" y2="89.3" stroke="#fff" stroke-width="0.7"/>
<clipPath id="c113"><rect x="67.00" y="83.50" width="50.40" height="64.80"/></clipPath>
<g clip-path="url(#c113)">
<rect x="67.00" y="83.50" width="50.40" height="64.80" fill="#3083d0"/>
<filter id="f114" x="-50%" y="-50%" width="200%" height="200%"><feGaussianBlur stdDeviation="4.00"/></filter>
<rect x="70.02" y="87.39" width="44.35" height="55.73" rx="3.00" fill="#2f8bd4" filter="url(#f114)"/>
<filter id="f115" x="-50%" y="-50%" width="200%" height="200%"><feGaussianBlur stdDeviation="0.50"/></filter>
<polygon points="89.68,134.04 98.25,134.04 98.25,143.12 89.68,143.12" fill="#2e9cde" filter="url(#f115)"/>
<filter id="f116" x="-50%" y="-50%" width="200%" height="200%"><feGaussianBlur stdDeviation="0.60"/></filter>
<polygon points="75.57,91.28 89.18,91.28 90.69,89.33 94.72,89.98 96.23,92.57 104.80,93.87 106.31,102.94 105.30,134.04 95.73,135.34 95.22,139.23 93.71,139.23 92.20,135.34 77.08,135.34 75.57,128.86" fill="#2e9fdf" filter="url(#f116)"/>
<filter id="f117" x="-50%" y="-50%" width="200%" height="200%"><feGaussianBlur stdDeviation="1.20"/></filter>
<rect x="79.60" y="106.18" width="20.66" height="27.22" rx="3.00" fill="#2e9fdf" filter="url(#f117)"/>
<filter id="f118" x="-50%" y="-50%" width="200%" height="200%"><feGaussianBlur stdDeviation="0.80"/></filter>
<rect x="80.61" y="107.48" width="18.90" height="24.95" rx="3.00" fill="#2e9fdf" filter="url(#f118)"/>
<filter id="f119" x="-50%" y="-50%" width="200%" height="200%"><feGaussianBlur stdDeviation="1.40"/></filter>
<rect x="82.12" y="109.42" width="15.12" height="20.74" rx="3.00" fill="#2e9fdf" filter="url(#f119)"/>
<filter id="f120" x="-50%" y="-50%" width="200%" height="200%"><feGaussianBlur stdDeviation="0.40"/></filter>
<polygon points="67.00,83.50 82.12,83.50 82.12,89.01 67.00,89.01" fill="#1e4da5" filter="url(#f120)"/>
<filter id="f121" x="-50%" y="-50%" width="200%" height="200%"><feGaussianBlur stdDeviation="0.40"/></filter>
<polygon points="82.12,83.50 117.40,83.50 117.40,88.04 82.12,88.04" fill="#1e4da5" filter="url(#f121)"/>
<filter id="f122" x="-50%" y="-50%" width="200%" height="200%"><feGaussianBlur stdDeviation="0.40"/></filter>
<polygon points="67.00,142.14 117.40,140.52 117.40,148.30 67.00,148.30" fill="#1d4aa2" filter="url(#f122)"/>
</g>
<text x="67.50" y="89.90" font-size="7.40" fill="#fff" font-weight="normal" text-anchor="start" >24.0&#176;C</text>
<text x="67.50" y="98.80" font-size="7.40" fill="#fff" font-weight="normal" text-anchor="start" >0 s</text>
<clipPath id="c123"><rect x="120.20" y="83.50" width="50.40" height="64.80"/></clipPath>
<g clip-path="url(#c123)">
<rect x="120.20" y="83.50" width="50.40" height="64.80" fill="#3083d0"/>
<filter id="f124" x="-50%" y="-50%" width="200%" height="200%"><feGaussianBlur stdDeviation="4.00"/></filter>
<rect x="123.22" y="87.39" width="44.35" height="55.73" rx="3.00" fill="#2f8ed6" filter="url(#f124)"/>
<filter id="f125" x="-50%" y="-50%" width="200%" height="200%"><feGaussianBlur stdDeviation="0.50"/></filter>
<polygon points="142.88,134.04 151.45,134.04 151.45,143.12 142.88,143.12" fill="#2e9fdf" filter="url(#f125)"/>
<filter id="f126" x="-50%" y="-50%" width="200%" height="200%"><feGaussianBlur stdDeviation="0.60"/></filter>
<polygon points="128.77,91.28 142.38,91.28 143.89,89.33 147.92,89.98 149.43,92.57 158.00,93.87 159.51,102.94 158.50,134.04 148.93,135.34 148.42,139.23 146.91,139.23 145.40,135.34 130.28,135.34 128.77,128.86" fill="#2eb7eb" filter="url(#f126)"/>
<filter id="f127" x="-50%" y="-50%" width="200%" height="200%"><feGaussianBlur stdDeviation="0.50"/></filter>
<rect x="128.77" y="95.16" width="3.53" height="34.99" rx="0.00" fill="#2f91d7" filter="url(#f127)"/>
<filter id="f128" x="-50%" y="-50%" width="200%" height="200%"><feGaussianBlur stdDeviation="1.20"/></filter>
<rect x="132.80" y="106.18" width="20.66" height="27.22" rx="3.00" fill="#47bce0" filter="url(#f128)"/>
<filter id="f129" x="-50%" y="-50%" width="200%" height="200%"><feGaussianBlur stdDeviation="0.80"/></filter>
<rect x="133.81" y="107.48" width="18.90" height="24.95" rx="3.00" fill="#60c2d6" filter="url(#f129)"/>
<filter id="f130" x="-50%" y="-50%" width="200%" height="200%"><feGaussianBlur stdDeviation="1.40"/></filter>
<rect x="135.32" y="109.42" width="15.12" height="20.74" rx="3.00" fill="#61c2d3" filter="url(#f130)"/>
<filter id="f131" x="-50%" y="-50%" width="200%" height="200%"><feGaussianBlur stdDeviation="0.40"/></filter>
<polygon points="120.20,83.50 135.32,83.50 135.32,89.01 120.20,89.01" fill="#1e4da5" filter="url(#f131)"/>
<filter id="f132" x="-50%" y="-50%" width="200%" height="200%"><feGaussianBlur stdDeviation="0.40"/></filter>
<polygon points="135.32,83.50 170.60,83.50 170.60,88.04 135.32,88.04" fill="#1e4da5" filter="url(#f132)"/>
<filter id="f133" x="-50%" y="-50%" width="200%" height="200%"><feGaussianBlur stdDeviation="0.40"/></filter>
<polygon points="120.20,142.14 170.60,140.52 170.60,148.30 120.20,148.30" fill="#1d4aa2" filter="url(#f133)"/>
</g>
<text x="120.70" y="89.90" font-size="7.40" fill="#fff" font-weight="normal" text-anchor="start" >30.0&#176;C</text>
<text x="120.70" y="98.80" font-size="7.40" fill="#fff" font-weight="normal" text-anchor="start" >15 s</text>
<clipPath id="c134"><rect x="173.40" y="83.50" width="50.40" height="64.80"/></clipPath>
<g clip-path="url(#c134)">
<rect x="173.40" y="83.50" width="50.40" height="64.80" fill="#3083d0"/>
<filter id="f135" x="-50%" y="-50%" width="200%" height="200%"><feGaussianBlur stdDeviation="4.00"/></filter>
<rect x="176.42" y="87.39" width="44.35" height="55.73" rx="3.00" fill="#2e97db" filter="url(#f135)"/>
<filter id="f136" x="-50%" y="-50%" width="200%" height="200%"><feGaussianBlur stdDeviation="0.50"/></filter>
<polygon points="196.08,134.04 204.65,134.04 204.65,143.12 196.08,143.12" fill="#2da8e4" filter="url(#f136)"/>
<filter id="f137" x="-50%" y="-50%" width="200%" height="200%"><feGaussianBlur stdDeviation="0.60"/></filter>
<polygon points="181.97,91.28 195.58,91.28 197.09,89.33 201.12,89.98 202.63,92.57 211.20,93.87 212.71,102.94 211.70,134.04 202.13,135.34 201.62,139.23 200.11,139.23 198.60,135.34 183.48,135.34 181.97,128.86" fill="#60c2d6" filter="url(#f137)"/>
<filter id="f138" x="-50%" y="-50%" width="200%" height="200%"><feGaussianBlur stdDeviation="1.20"/></filter>
<rect x="186.00" y="106.18" width="20.66" height="27.22" rx="3.00" fill="#67bda7" filter="url(#f138)"/>
<filter id="f139" x="-50%" y="-50%" width="200%" height="200%"><feGaussianBlur stdDeviation="0.80"/></filter>
<rect x="187.01" y="107.48" width="18.90" height="24.95" rx="3.00" fill="#66b633" filter="url(#f139)"/>
<filter id="f140" x="-50%" y="-50%" width="200%" height="200%"><feGaussianBlur stdDeviation="1.40"/></filter>
<rect x="188.52" y="109.42" width="15.12" height="20.74" rx="3.00" fill="#6fba31" filter="url(#f140)"/>
<filter id="f141" x="-50%" y="-50%" width="200%" height="200%"><feGaussianBlur stdDeviation="0.40"/></filter>
<polygon points="173.40,83.50 188.52,83.50 188.52,89.01 173.40,89.01" fill="#1e4da5" filter="url(#f141)"/>
<filter id="f142" x="-50%" y="-50%" width="200%" height="200%"><feGaussianBlur stdDeviation="0.40"/></filter>
<polygon points="188.52,83.50 223.80,83.50 223.80,88.04 188.52,88.04" fill="#1e4da5" filter="url(#f142)"/>
<filter id="f143" x="-50%" y="-50%" width="200%" height="200%"><feGaussianBlur stdDeviation="0.40"/></filter>
<polygon points="173.40,142.14 223.80,140.52 223.80,148.30 173.40,148.30" fill="#1d4aa2" filter="url(#f143)"/>
</g>
<text x="173.90" y="89.90" font-size="7.40" fill="#fff" font-weight="normal" text-anchor="start" >35.4&#176;C</text>
<text x="173.90" y="98.80" font-size="7.40" fill="#fff" font-weight="normal" text-anchor="start" >37 s</text>
<clipPath id="c144"><rect x="226.60" y="83.50" width="50.40" height="64.80"/></clipPath>
<g clip-path="url(#c144)">
<rect x="226.60" y="83.50" width="50.40" height="64.80" fill="#3083d0"/>
<filter id="f145" x="-50%" y="-50%" width="200%" height="200%"><feGaussianBlur stdDeviation="4.00"/></filter>
<rect x="229.62" y="87.39" width="44.35" height="55.73" rx="3.00" fill="#2e9cde" filter="url(#f145)"/>
<filter id="f146" x="-50%" y="-50%" width="200%" height="200%"><feGaussianBlur stdDeviation="0.50"/></filter>
<polygon points="249.28,134.04 257.85,134.04 257.85,143.12 249.28,143.12" fill="#2dade7" filter="url(#f146)"/>
<filter id="f147" x="-50%" y="-50%" width="200%" height="200%"><feGaussianBlur stdDeviation="0.60"/></filter>
<polygon points="235.17,91.28 248.78,91.28 250.29,89.33 254.32,89.98 255.83,92.57 264.40,93.87 265.91,102.94 264.90,134.04 255.33,135.34 254.82,139.23 253.31,139.23 251.80,135.34 236.68,135.34 235.17,128.86" fill="#60c2d6" filter="url(#f147)"/>
<filter id="f148" x="-50%" y="-50%" width="200%" height="200%"><feGaussianBlur stdDeviation="1.20"/></filter>
<rect x="239.20" y="106.18" width="20.66" height="27.22" rx="3.00" fill="#63b981" filter="url(#f148)"/>
<filter id="f149" x="-50%" y="-50%" width="200%" height="200%"><feGaussianBlur stdDeviation="0.80"/></filter>
<rect x="240.21" y="107.48" width="18.90" height="24.95" rx="3.00" fill="#82c22e" filter="url(#f149)"/>
<filter id="f150" x="-50%" y="-50%" width="200%" height="200%"><feGaussianBlur stdDeviation="1.40"/></filter>
<rect x="241.72" y="109.42" width="15.12" height="20.74" rx="3.00" fill="#98ca2c" filter="url(#f150)"/>
<filter id="f151" x="-50%" y="-50%" width="200%" height="200%"><feGaussianBlur stdDeviation="0.40"/></filter>
<polygon points="226.60,83.50 241.72,83.50 241.72,89.01 226.60,89.01" fill="#1e4da5" filter="url(#f151)"/>
<filter id="f152" x="-50%" y="-50%" width="200%" height="200%"><feGaussianBlur stdDeviation="0.40"/></filter>
<polygon points="241.72,83.50 277.00,83.50 277.00,88.04 241.72,88.04" fill="#1e4da5" filter="url(#f152)"/>
<filter id="f153" x="-50%" y="-50%" width="200%" height="200%"><feGaussianBlur stdDeviation="0.40"/></filter>
<polygon points="226.60,142.14 277.00,140.52 277.00,148.30 226.60,148.30" fill="#1d4aa2" filter="url(#f153)"/>
</g>
<text x="227.10" y="89.90" font-size="7.40" fill="#fff" font-weight="normal" text-anchor="start" >37.1&#176;C</text>
<text x="227.10" y="98.80" font-size="7.40" fill="#fff" font-weight="normal" text-anchor="start" >46 s</text>
<clipPath id="c154"><rect x="279.80" y="83.50" width="50.40" height="64.80"/></clipPath>
<g clip-path="url(#c154)">
<rect x="279.80" y="83.50" width="50.40" height="64.80" fill="#3083d0"/>
<filter id="f155" x="-50%" y="-50%" width="200%" height="200%"><feGaussianBlur stdDeviation="4.00"/></filter>
<rect x="282.82" y="87.39" width="44.35" height="55.73" rx="3.00" fill="#2da2e1" filter="url(#f155)"/>
<filter id="f156" x="-50%" y="-50%" width="200%" height="200%"><feGaussianBlur stdDeviation="0.50"/></filter>
<polygon points="302.48,134.04 311.05,134.04 311.05,143.12 302.48,143.12" fill="#2cb3ea" filter="url(#f156)"/>
<filter id="f157" x="-50%" y="-50%" width="200%" height="200%"><feGaussianBlur stdDeviation="0.60"/></filter>
<polygon points="288.37,91.28 301.98,91.28 303.49,89.33 307.52,89.98 309.03,92.57 317.60,93.87 319.11,102.94 318.10,134.04 308.53,135.34 308.02,139.23 306.51,139.23 305.00,135.34 289.88,135.34 288.37,128.86" fill="#61c2d3" filter="url(#f157)"/>
<filter id="f158" x="-50%" y="-50%" width="200%" height="200%"><feGaussianBlur stdDeviation="1.20"/></filter>
<rect x="292.40" y="106.18" width="20.66" height="27.22" rx="3.00" fill="#5eb447" filter="url(#f158)"/>
<filter id="f159" x="-50%" y="-50%" width="200%" height="200%"><feGaussianBlur stdDeviation="0.80"/></filter>
<rect x="293.41" y="107.48" width="18.90" height="24.95" rx="3.00" fill="#b1d22a" filter="url(#f159)"/>
<filter id="f160" x="-50%" y="-50%" width="200%" height="200%"><feGaussianBlur stdDeviation="1.40"/></filter>
<rect x="294.92" y="109.42" width="15.12" height="20.74" rx="3.00" fill="#cfdb28" filter="url(#f160)"/>
<filter id="f161" x="-50%" y="-50%" width="200%" height="200%"><feGaussianBlur stdDeviation="0.40"/></filter>
<polygon points="279.80,83.50 294.92,83.50 294.92,89.01 279.80,89.01" fill="#1e4da5" filter="url(#f161)"/>
<filter id="f162" x="-50%" y="-50%" width="200%" height="200%"><feGaussianBlur stdDeviation="0.40"/></filter>
<polygon points="294.92,83.50 330.20,83.50 330.20,88.04 294.92,88.04" fill="#1e4da5" filter="url(#f162)"/>
<filter id="f163" x="-50%" y="-50%" width="200%" height="200%"><feGaussianBlur stdDeviation="0.40"/></filter>
<polygon points="279.80,142.14 330.20,140.52 330.20,148.30 279.80,148.30" fill="#1d4aa2" filter="url(#f163)"/>
</g>
<text x="280.30" y="89.90" font-size="7.40" fill="#fff" font-weight="normal" text-anchor="start" >38.6&#176;C</text>
<text x="280.30" y="98.80" font-size="7.40" fill="#fff" font-weight="normal" text-anchor="start" >55 s</text>
<clipPath id="c164"><rect x="333.00" y="83.50" width="50.40" height="64.80"/></clipPath>
<g clip-path="url(#c164)">
<rect x="333.00" y="83.50" width="50.40" height="64.80" fill="#3083d0"/>
<filter id="f165" x="-50%" y="-50%" width="200%" height="200%"><feGaussianBlur stdDeviation="4.00"/></filter>
<rect x="336.02" y="87.39" width="44.35" height="55.73" rx="3.00" fill="#2da8e4" filter="url(#f165)"/>
<filter id="f166" x="-50%" y="-50%" width="200%" height="200%"><feGaussianBlur stdDeviation="0.50"/></filter>
<polygon points="355.68,134.04 364.25,134.04 364.25,143.12 355.68,143.12" fill="#2eb7eb" filter="url(#f166)"/>
<filter id="f167" x="-50%" y="-50%" width="200%" height="200%"><feGaussianBlur stdDeviation="0.60"/></filter>
<polygon points="341.57,91.28 355.18,91.28 356.69,89.33 360.72,89.98 362.23,92.57 370.80,93.87 372.31,102.94 371.30,134.04 361.73,135.34 361.22,139.23 359.71,139.23 358.20,135.34 343.08,135.34 341.57,128.86" fill="#7ec02f" filter="url(#f167)"/>
<filter id="f168" x="-50%" y="-50%" width="200%" height="200%"><feGaussianBlur stdDeviation="1.20"/></filter>
<rect x="345.60" y="106.18" width="20.66" height="27.22" rx="3.00" fill="#b1d22a" filter="url(#f168)"/>
<filter id="f169" x="-50%" y="-50%" width="200%" height="200%"><feGaussianBlur stdDeviation="0.80"/></filter>
<rect x="346.61" y="107.48" width="18.90" height="24.95" rx="3.00" fill="#e8e326" filter="url(#f169)"/>
<filter id="f170" x="-50%" y="-50%" width="200%" height="200%"><feGaussianBlur stdDeviation="1.40"/></filter>
<rect x="348.12" y="109.42" width="15.12" height="20.74" rx="3.00" fill="#eee226" filter="url(#f170)"/>
<filter id="f171" x="-50%" y="-50%" width="200%" height="200%"><feGaussianBlur stdDeviation="0.40"/></filter>
<polygon points="333.00,83.50 348.12,83.50 348.12,89.01 333.00,89.01" fill="#1e4da5" filter="url(#f171)"/>
<filter id="f172" x="-50%" y="-50%" width="200%" height="200%"><feGaussianBlur stdDeviation="0.40"/></filter>
<polygon points="348.12,83.50 383.40,83.50 383.40,88.04 348.12,88.04" fill="#1e4da5" filter="url(#f172)"/>
<filter id="f173" x="-50%" y="-50%" width="200%" height="200%"><feGaussianBlur stdDeviation="0.40"/></filter>
<polygon points="333.00,142.14 383.40,140.52 383.40,148.30 333.00,148.30" fill="#1d4aa2" filter="url(#f173)"/>
</g>
<text x="333.50" y="89.90" font-size="7.40" fill="#fff" font-weight="normal" text-anchor="start" >40.1&#176;C</text>
<text x="333.50" y="98.80" font-size="7.40" fill="#fff" font-weight="normal" text-anchor="start" >65 s</text>
<clipPath id="c174"><rect x="386.20" y="83.50" width="50.40" height="64.80"/></clipPath>
<g clip-path="url(#c174)">
<rect x="386.20" y="83.50" width="50.40" height="64.80" fill="#3083d0"/>
<filter id="f175" x="-50%" y="-50%" width="200%" height="200%"><feGaussianBlur stdDeviation="4.00"/></filter>
<rect x="389.22" y="87.39" width="44.35" height="55.73" rx="3.00" fill="#2dade7" filter="url(#f175)"/>
<filter id="f176" x="-50%" y="-50%" width="200%" height="200%"><feGaussianBlur stdDeviation="0.50"/></filter>
<polygon points="408.88,134.04 417.45,134.04 417.45,143.12 408.88,143.12" fill="#33b8e9" filter="url(#f176)"/>
<filter id="f177" x="-50%" y="-50%" width="200%" height="200%"><feGaussianBlur stdDeviation="0.60"/></filter>
<polygon points="394.77,91.28 408.38,91.28 409.89,89.33 413.92,89.98 415.43,92.57 424.00,93.87 425.51,102.94 424.50,134.04 414.93,135.34 414.42,139.23 412.91,139.23 411.40,135.34 396.28,135.34 394.77,128.86" fill="#a4ce2b" filter="url(#f177)"/>
<filter id="f178" x="-50%" y="-50%" width="200%" height="200%"><feGaussianBlur stdDeviation="1.20"/></filter>
<rect x="398.80" y="106.18" width="20.66" height="27.22" rx="3.00" fill="#ccda28" filter="url(#f178)"/>
<filter id="f179" x="-50%" y="-50%" width="200%" height="200%"><feGaussianBlur stdDeviation="0.80"/></filter>
<rect x="399.81" y="107.48" width="18.90" height="24.95" rx="3.00" fill="#eee226" filter="url(#f179)"/>
<filter id="f180" x="-50%" y="-50%" width="200%" height="200%"><feGaussianBlur stdDeviation="1.40"/></filter>
<rect x="401.32" y="109.42" width="15.12" height="20.74" rx="3.00" fill="#efe025" filter="url(#f180)"/>
<filter id="f181" x="-50%" y="-50%" width="200%" height="200%"><feGaussianBlur stdDeviation="0.40"/></filter>
<polygon points="386.20,83.50 401.32,83.50 401.32,89.01 386.20,89.01" fill="#1e4da5" filter="url(#f181)"/>
<filter id="f182" x="-50%" y="-50%" width="200%" height="200%"><feGaussianBlur stdDeviation="0.40"/></filter>
<polygon points="401.32,83.50 436.60,83.50 436.60,88.04 401.32,88.04" fill="#1e4da5" filter="url(#f182)"/>
<filter id="f183" x="-50%" y="-50%" width="200%" height="200%"><feGaussianBlur stdDeviation="0.40"/></filter>
<polygon points="386.20,142.14 436.60,140.52 436.60,148.30 386.20,148.30" fill="#1d4aa2" filter="url(#f183)"/>
</g>
<text x="386.70" y="89.90" font-size="7.40" fill="#fff" font-weight="normal" text-anchor="start" >41.9&#176;C</text>
<text x="386.70" y="98.80" font-size="7.40" fill="#fff" font-weight="normal" text-anchor="start" >83 s</text>
<clipPath id="c184"><rect x="439.40" y="83.50" width="50.40" height="64.80"/></clipPath>
<g clip-path="url(#c184)">
<rect x="439.40" y="83.50" width="50.40" height="64.80" fill="#3083d0"/>
<filter id="f185" x="-50%" y="-50%" width="200%" height="200%"><feGaussianBlur stdDeviation="4.00"/></filter>
<rect x="442.42" y="87.39" width="44.35" height="55.73" rx="3.00" fill="#2cb3ea" filter="url(#f185)"/>
<filter id="f186" x="-50%" y="-50%" width="200%" height="200%"><feGaussianBlur stdDeviation="0.50"/></filter>
<polygon points="462.08,134.04 470.65,134.04 470.65,143.12 462.08,143.12" fill="#38b9e7" filter="url(#f186)"/>
<filter id="f187" x="-50%" y="-50%" width="200%" height="200%"><feGaussianBlur stdDeviation="0.60"/></filter>
<polygon points="447.97,91.28 461.58,91.28 463.09,89.33 467.12,89.98 468.63,92.57 477.20,93.87 478.71,102.94 477.70,134.04 468.13,135.34 467.62,139.23 466.11,139.23 464.60,135.34 449.48,135.34 447.97,128.86" fill="#f3c322" filter="url(#f187)"/>
<filter id="f188" x="-50%" y="-50%" width="200%" height="200%"><feGaussianBlur stdDeviation="1.20"/></filter>
<rect x="450.49" y="97.76" width="26.21" height="34.99" rx="3.00" fill="#f4ba21" filter="url(#f188)"/>
<filter id="f189" x="-50%" y="-50%" width="200%" height="200%"><feGaussianBlur stdDeviation="1.20"/></filter>
<rect x="452.00" y="106.18" width="20.66" height="27.22" rx="3.00" fill="#f4ba21" filter="url(#f189)"/>
<filter id="f190" x="-50%" y="-50%" width="200%" height="200%"><feGaussianBlur stdDeviation="0.80"/></filter>
<rect x="453.01" y="107.48" width="18.90" height="24.95" rx="3.00" fill="#f5b220" filter="url(#f190)"/>
<filter id="f191" x="-50%" y="-50%" width="200%" height="200%"><feGaussianBlur stdDeviation="1.40"/></filter>
<rect x="454.52" y="109.42" width="15.12" height="20.74" rx="3.00" fill="#f4a520" filter="url(#f191)"/>
<filter id="f192" x="-50%" y="-50%" width="200%" height="200%"><feGaussianBlur stdDeviation="0.40"/></filter>
<polygon points="439.40,83.50 454.52,83.50 454.52,89.01 439.40,89.01" fill="#1e4da5" filter="url(#f192)"/>
<filter id="f193" x="-50%" y="-50%" width="200%" height="200%"><feGaussianBlur stdDeviation="0.40"/></filter>
<polygon points="454.52,83.50 489.80,83.50 489.80,88.04 454.52,88.04" fill="#1e4da5" filter="url(#f193)"/>
<filter id="f194" x="-50%" y="-50%" width="200%" height="200%"><feGaussianBlur stdDeviation="0.40"/></filter>
<polygon points="439.40,142.14 489.80,140.52 489.80,148.30 439.40,148.30" fill="#1d4aa2" filter="url(#f194)"/>
</g>
<text x="439.90" y="89.90" font-size="7.40" fill="#fff" font-weight="normal" text-anchor="start" >44.6&#176;C</text>
<text x="439.90" y="98.80" font-size="7.40" fill="#fff" font-weight="normal" text-anchor="start" >110 s</text>
<clipPath id="c195"><rect x="492.60" y="83.50" width="50.40" height="64.80"/></clipPath>
<g clip-path="url(#c195)">
<rect x="492.60" y="83.50" width="50.40" height="64.80" fill="#3083d0"/>
<filter id="f196" x="-50%" y="-50%" width="200%" height="200%"><feGaussianBlur stdDeviation="4.00"/></filter>
<rect x="495.62" y="87.39" width="44.35" height="55.73" rx="3.00" fill="#2eb7eb" filter="url(#f196)"/>
<filter id="f197" x="-50%" y="-50%" width="200%" height="200%"><feGaussianBlur stdDeviation="0.50"/></filter>
<polygon points="515.28,134.04 523.85,134.04 523.85,143.12 515.28,143.12" fill="#3dbae5" filter="url(#f197)"/>
<filter id="f198" x="-50%" y="-50%" width="200%" height="200%"><feGaussianBlur stdDeviation="0.60"/></filter>
<polygon points="501.17,91.28 514.78,91.28 516.29,89.33 520.32,89.98 521.83,92.57 530.40,93.87 531.91,102.94 530.90,134.04 521.33,135.34 520.82,139.23 519.31,139.23 517.80,135.34 502.68,135.34 501.17,128.86" fill="#f5b520" filter="url(#f198)"/>
<filter id="f199" x="-50%" y="-50%" width="200%" height="200%"><feGaussianBlur stdDeviation="1.20"/></filter>
<rect x="503.69" y="97.76" width="26.21" height="34.99" rx="3.00" fill="#f4aa20" filter="url(#f199)"/>
<filter id="f200" x="-50%" y="-50%" width="200%" height="200%"><feGaussianBlur stdDeviation="1.20"/></filter>
<rect x="505.20" y="106.18" width="20.66" height="27.22" rx="3.00" fill="#f4aa20" filter="url(#f200)"/>
<filter id="f201" x="-50%" y="-50%" width="200%" height="200%"><feGaussianBlur stdDeviation="0.80"/></filter>
<rect x="506.21" y="107.48" width="18.90" height="24.95" rx="3.00" fill="#f49e20" filter="url(#f201)"/>
<filter id="f202" x="-50%" y="-50%" width="200%" height="200%"><feGaussianBlur stdDeviation="1.40"/></filter>
<rect x="507.72" y="109.42" width="15.12" height="20.74" rx="3.00" fill="#f2911f" filter="url(#f202)"/>
<filter id="f203" x="-50%" y="-50%" width="200%" height="200%"><feGaussianBlur stdDeviation="0.40"/></filter>
<polygon points="492.60,83.50 507.72,83.50 507.72,89.01 492.60,89.01" fill="#1e4da5" filter="url(#f203)"/>
<filter id="f204" x="-50%" y="-50%" width="200%" height="200%"><feGaussianBlur stdDeviation="0.40"/></filter>
<polygon points="507.72,83.50 543.00,83.50 543.00,88.04 507.72,88.04" fill="#1e4da5" filter="url(#f204)"/>
<filter id="f205" x="-50%" y="-50%" width="200%" height="200%"><feGaussianBlur stdDeviation="0.40"/></filter>
<polygon points="492.60,142.14 543.00,140.52 543.00,148.30 492.60,148.30" fill="#1d4aa2" filter="url(#f205)"/>
</g>
<text x="493.10" y="89.90" font-size="7.40" fill="#fff" font-weight="normal" text-anchor="start" >47.4&#176;C</text>
<text x="493.10" y="98.80" font-size="7.40" fill="#fff" font-weight="normal" text-anchor="start" >160 s</text>
<clipPath id="c206"><rect x="545.80" y="83.50" width="50.40" height="64.80"/></clipPath>
<g clip-path="url(#c206)">
<rect x="545.80" y="83.50" width="50.40" height="64.80" fill="#3083d0"/>
<filter id="f207" x="-50%" y="-50%" width="200%" height="200%"><feGaussianBlur stdDeviation="4.00"/></filter>
<rect x="548.82" y="87.39" width="44.35" height="55.73" rx="3.00" fill="#33b8e9" filter="url(#f207)"/>
<filter id="f208" x="-50%" y="-50%" width="200%" height="200%"><feGaussianBlur stdDeviation="1.00"/></filter>
<rect x="551.85" y="89.98" width="5.04" height="46.66" rx="2.00" fill="#61b433" filter="url(#f208)"/>
<filter id="f209" x="-50%" y="-50%" width="200%" height="200%"><feGaussianBlur stdDeviation="0.50"/></filter>
<polygon points="568.48,134.04 577.05,134.04 577.05,143.12 568.48,143.12" fill="#42bbe3" filter="url(#f209)"/>
<filter id="f210" x="-50%" y="-50%" width="200%" height="200%"><feGaussianBlur stdDeviation="0.60"/></filter>
<polygon points="554.37,91.28 567.98,91.28 569.49,89.33 573.52,89.98 575.03,92.57 583.60,93.87 585.11,102.94 584.10,134.04 574.53,135.34 574.02,139.23 572.51,139.23 571.00,135.34 555.88,135.34 554.37,128.86" fill="#f4ab20" filter="url(#f210)"/>
<filter id="f211" x="-50%" y="-50%" width="200%" height="200%"><feGaussianBlur stdDeviation="1.20"/></filter>
<rect x="556.89" y="97.76" width="26.21" height="34.99" rx="3.00" fill="#f0791f" filter="url(#f211)"/>
<filter id="f212" x="-50%" y="-50%" width="200%" height="200%"><feGaussianBlur stdDeviation="1.20"/></filter>
<rect x="558.40" y="106.18" width="20.66" height="27.22" rx="3.00" fill="#f0791f" filter="url(#f212)"/>
<filter id="f213" x="-50%" y="-50%" width="200%" height="200%"><feGaussianBlur stdDeviation="0.80"/></filter>
<rect x="559.41" y="107.48" width="18.90" height="24.95" rx="3.00" fill="#e74520" filter="url(#f213)"/>
<filter id="f214" x="-50%" y="-50%" width="200%" height="200%"><feGaussianBlur stdDeviation="1.40"/></filter>
<rect x="560.92" y="109.42" width="15.12" height="20.74" rx="3.00" fill="#e53321" filter="url(#f214)"/>
<filter id="f215" x="-50%" y="-50%" width="200%" height="200%"><feGaussianBlur stdDeviation="0.40"/></filter>
<polygon points="545.80,83.50 560.92,83.50 560.92,89.01 545.80,89.01" fill="#1e4da5" filter="url(#f215)"/>
<filter id="f216" x="-50%" y="-50%" width="200%" height="200%"><feGaussianBlur stdDeviation="0.40"/></filter>
<polygon points="560.92,83.50 596.20,83.50 596.20,88.04 560.92,88.04" fill="#1e4da5" filter="url(#f216)"/>
<filter id="f217" x="-50%" y="-50%" width="200%" height="200%"><feGaussianBlur stdDeviation="0.40"/></filter>
<polygon points="545.80,142.14 596.20,140.52 596.20,148.30 545.80,148.30" fill="#1d4aa2" filter="url(#f217)"/>
</g>
<text x="546.30" y="89.90" font-size="7.40" fill="#fff" font-weight="normal" text-anchor="start" >51.3&#176;C</text>
<text x="546.30" y="98.80" font-size="7.40" fill="#fff" font-weight="normal" text-anchor="start" >316 s</text>
<clipPath id="c218"><rect x="599.00" y="83.50" width="50.40" height="64.80"/></clipPath>
<g clip-path="url(#c218)">
<rect x="599.00" y="83.50" width="50.40" height="64.80" fill="#3083d0"/>
<filter id="f219" x="-50%" y="-50%" width="200%" height="200%"><feGaussianBlur stdDeviation="4.00"/></filter>
<rect x="602.02" y="87.39" width="44.35" height="55.73" rx="3.00" fill="#38b9e7" filter="url(#f219)"/>
<filter id="f220" x="-50%" y="-50%" width="200%" height="200%"><feGaussianBlur stdDeviation="1.00"/></filter>
<rect x="605.05" y="89.98" width="5.04" height="46.66" rx="2.00" fill="#61b433" filter="url(#f220)"/>
<filter id="f221" x="-50%" y="-50%" width="200%" height="200%"><feGaussianBlur stdDeviation="0.50"/></filter>
<polygon points="621.68,134.04 630.25,134.04 630.25,143.12 621.68,143.12" fill="#47bce0" filter="url(#f221)"/>
<filter id="f222" x="-50%" y="-50%" width="200%" height="200%"><feGaussianBlur stdDeviation="0.60"/></filter>
<polygon points="607.57,91.28 621.18,91.28 622.69,89.33 626.72,89.98 628.23,92.57 636.80,93.87 638.31,102.94 637.30,134.04 627.73,135.34 627.22,139.23 625.71,139.23 624.20,135.34 609.08,135.34 607.57,128.86" fill="#f49e20" filter="url(#f222)"/>
<filter id="f223" x="-50%" y="-50%" width="200%" height="200%"><feGaussianBlur stdDeviation="1.20"/></filter>
<rect x="610.09" y="97.76" width="26.21" height="34.99" rx="3.00" fill="#ec6120" filter="url(#f223)"/>
<filter id="f224" x="-50%" y="-50%" width="200%" height="200%"><feGaussianBlur stdDeviation="1.20"/></filter>
<rect x="611.60" y="106.18" width="20.66" height="27.22" rx="3.00" fill="#ec6120" filter="url(#f224)"/>
<filter id="f225" x="-50%" y="-50%" width="200%" height="200%"><feGaussianBlur stdDeviation="0.80"/></filter>
<rect x="612.61" y="107.48" width="18.90" height="24.95" rx="3.00" fill="#e53721" filter="url(#f225)"/>
<filter id="f226" x="-50%" y="-50%" width="200%" height="200%"><feGaussianBlur stdDeviation="1.40"/></filter>
<rect x="614.12" y="109.42" width="15.12" height="20.74" rx="3.00" fill="#e32922" filter="url(#f226)"/>
<filter id="f227" x="-50%" y="-50%" width="200%" height="200%"><feGaussianBlur stdDeviation="0.40"/></filter>
<polygon points="599.00,83.50 614.12,83.50 614.12,89.01 599.00,89.01" fill="#1e4da5" filter="url(#f227)"/>
<filter id="f228" x="-50%" y="-50%" width="200%" height="200%"><feGaussianBlur stdDeviation="0.40"/></filter>
<polygon points="614.12,83.50 649.40,83.50 649.40,88.04 614.12,88.04" fill="#1e4da5" filter="url(#f228)"/>
<filter id="f229" x="-50%" y="-50%" width="200%" height="200%"><feGaussianBlur stdDeviation="0.40"/></filter>
<polygon points="599.00,142.14 649.40,140.52 649.40,148.30 599.00,148.30" fill="#1d4aa2" filter="url(#f229)"/>
</g>
<text x="599.50" y="89.90" font-size="7.40" fill="#f0a030" font-weight="normal" text-anchor="start" >53.0&#176;C</text>
<text x="599.50" y="98.80" font-size="7.40" fill="#fff" font-weight="normal" text-anchor="start" >470 s</text>
<linearGradient id="g230" x1="0" y1="1" x2="0" y2="0">
<stop offset="0.000" stop-color="#1a3f98"/>
<stop offset="0.025" stop-color="#1a419a"/>
<stop offset="0.050" stop-color="#1b449c"/>
<stop offset="0.075" stop-color="#1c469e"/>
<stop offset="0.100" stop-color="#1c48a0"/>
<stop offset="0.125" stop-color="#1e4ca4"/>
<stop offset="0.150" stop-color="#1f50a8"/>
<stop offset="0.175" stop-color="#235cb2"/>
<stop offset="0.200" stop-color="#296cbf"/>
<stop offset="0.225" stop-color="#2f7dcb"/>
<stop offset="0.250" stop-color="#2f8bd4"/>
<stop offset="0.275" stop-color="#2e9adc"/>
<stop offset="0.300" stop-color="#2da8e4"/>
<stop offset="0.325" stop-color="#2cb6ec"/>
<stop offset="0.350" stop-color="#38b9e7"/>
<stop offset="0.375" stop-color="#45bce2"/>
<stop offset="0.400" stop-color="#51bfdc"/>
<stop offset="0.425" stop-color="#5ec1d7"/>
<stop offset="0.450" stop-color="#63c0c8"/>
<stop offset="0.475" stop-color="#67beb7"/>
<stop offset="0.500" stop-color="#63b981"/>
<stop offset="0.525" stop-color="#5db341"/>
<stop offset="0.550" stop-color="#6fba31"/>
<stop offset="0.575" stop-color="#87c42e"/>
<stop offset="0.600" stop-color="#a4ce2b"/>
<stop offset="0.625" stop-color="#c3d729"/>
<stop offset="0.650" stop-color="#e2e127"/>
<stop offset="0.675" stop-color="#efdc25"/>
<stop offset="0.700" stop-color="#f1ce23"/>
<stop offset="0.725" stop-color="#f3c022"/>
<stop offset="0.750" stop-color="#f5b220"/>
<stop offset="0.775" stop-color="#f4a120"/>
<stop offset="0.800" stop-color="#f2911f"/>
<stop offset="0.825" stop-color="#f07e1f"/>
<stop offset="0.850" stop-color="#ed6920"/>
<stop offset="0.875" stop-color="#ea5420"/>
<stop offset="0.900" stop-color="#e74520"/>
<stop offset="0.925" stop-color="#e63c21"/>
<stop offset="0.950" stop-color="#e53321"/>
<stop offset="0.975" stop-color="#e32b22"/>
<stop offset="1.000" stop-color="#e22222"/>
</linearGradient>
<rect x="655.80" y="84.00" width="7.70" height="63.60" fill="url(#g230)"/>
<line x1="663.5" y1="89.2" x2="664.6" y2="89.2" stroke="#999" stroke-width="0.5"/>
<line x1="663.5" y1="98.5" x2="664.6" y2="98.5" stroke="#999" stroke-width="0.5"/>
<line x1="663.5" y1="107.8" x2="664.6" y2="107.8" stroke="#999" stroke-width="0.5"/>
<line x1="663.5" y1="117.2" x2="664.6" y2="117.2" stroke="#999" stroke-width="0.5"/>
<line x1="663.5" y1="126.6" x2="664.6" y2="126.6" stroke="#999" stroke-width="0.5"/>
<line x1="663.5" y1="135.4" x2="664.6" y2="135.4" stroke="#999" stroke-width="0.5"/>
<line x1="663.5" y1="144.3" x2="664.6" y2="144.3" stroke="#999" stroke-width="0.5"/>
<text x="653.00" y="82.30" font-size="6.40" fill="#444" font-weight="normal" text-anchor="start" >53.0&#176;C</text>
<text x="667.00" y="91.50" font-size="6.40" fill="#444" font-weight="normal" text-anchor="start" >50.0&#176;C</text>
<text x="667.00" y="110.10" font-size="6.40" fill="#444" font-weight="normal" text-anchor="start" >40.0&#176;C</text>
<text x="667.00" y="128.90" font-size="6.40" fill="#444" font-weight="normal" text-anchor="start" >30.0&#176;C</text>
<text x="667.00" y="146.60" font-size="6.40" fill="#444" font-weight="normal" text-anchor="start" >20.0&#176;C</text>
<text x="653.00" y="153.50" font-size="6.40" fill="#444" font-weight="normal" text-anchor="start" >18.0&#176;C</text>
<text x="1.90" y="165.50" font-size="10.00" fill="#111" font-weight="bold" text-anchor="start" >c</text>
<line x1="19.40" y1="254.86" x2="157.40" y2="254.86" stroke="#bbb" stroke-width="0.6" stroke-dasharray="2.2,1.6"/>
<line x1="19.40" y1="231.77" x2="157.40" y2="231.77" stroke="#bbb" stroke-width="0.6" stroke-dasharray="2.2,1.6"/>
<line x1="19.40" y1="208.68" x2="157.40" y2="208.68" stroke="#bbb" stroke-width="0.6" stroke-dasharray="2.2,1.6"/>
<line x1="19.40" y1="185.59" x2="157.40" y2="185.59" stroke="#bbb" stroke-width="0.6" stroke-dasharray="2.2,1.6"/>
<rect x="19.40" y="162.50" width="138.00" height="103.90" fill="none" stroke="#222" stroke-width="0.8"/>
<line x1="17.60" y1="254.86" x2="19.40" y2="254.86" stroke="#222" stroke-width="0.7"/>
<text x="15.90" y="257.16" font-size="6.40" fill="#111" font-weight="bold" text-anchor="end" >20</text>
<line x1="17.60" y1="231.77" x2="19.40" y2="231.77" stroke="#222" stroke-width="0.7"/>
<text x="15.90" y="234.07" font-size="6.40" fill="#111" font-weight="bold" text-anchor="end" >30</text>
<line x1="17.60" y1="208.68" x2="19.40" y2="208.68" stroke="#222" stroke-width="0.7"/>
<text x="15.90" y="210.98" font-size="6.40" fill="#111" font-weight="bold" text-anchor="end" >40</text>
<line x1="17.60" y1="185.59" x2="19.40" y2="185.59" stroke="#222" stroke-width="0.7"/>
<text x="15.90" y="187.89" font-size="6.40" fill="#111" font-weight="bold" text-anchor="end" >50</text>
<line x1="17.60" y1="162.50" x2="19.40" y2="162.50" stroke="#222" stroke-width="0.7"/>
<text x="15.90" y="164.80" font-size="6.40" fill="#111" font-weight="bold" text-anchor="end" >60</text>
<line x1="18.40" y1="243.31" x2="19.40" y2="243.31" stroke="#222" stroke-width="0.6"/>
<line x1="18.40" y1="220.22" x2="19.40" y2="220.22" stroke="#222" stroke-width="0.6"/>
<line x1="18.40" y1="197.13" x2="19.40" y2="197.13" stroke="#222" stroke-width="0.6"/>
<line x1="18.40" y1="174.04" x2="19.40" y2="174.04" stroke="#222" stroke-width="0.6"/>
<line x1="19.40" y1="266.40" x2="19.40" y2="268.20" stroke="#222" stroke-width="0.7"/>
<text x="19.40" y="275.10" font-size="6.40" fill="#111" font-weight="bold" text-anchor="middle" >0</text>
<line x1="42.40" y1="266.40" x2="42.40" y2="268.20" stroke="#222" stroke-width="0.7"/>
<text x="42.40" y="275.10" font-size="6.40" fill="#111" font-weight="bold" text-anchor="middle" >100</text>
<line x1="65.40" y1="266.40" x2="65.40" y2="268.20" stroke="#222" stroke-width="0.7"/>
<text x="65.40" y="275.10" font-size="6.40" fill="#111" font-weight="bold" text-anchor="middle" >200</text>
<line x1="88.40" y1="266.40" x2="88.40" y2="268.20" stroke="#222" stroke-width="0.7"/>
<text x="88.40" y="275.10" font-size="6.40" fill="#111" font-weight="bold" text-anchor="middle" >300</text>
<line x1="111.40" y1="266.40" x2="111.40" y2="268.20" stroke="#222" stroke-width="0.7"/>
<text x="111.40" y="275.10" font-size="6.40" fill="#111" font-weight="bold" text-anchor="middle" >400</text>
<line x1="134.40" y1="266.40" x2="134.40" y2="268.20" stroke="#222" stroke-width="0.7"/>
<text x="134.40" y="275.10" font-size="6.40" fill="#111" font-weight="bold" text-anchor="middle" >500</text>
<line x1="157.40" y1="266.40" x2="157.40" y2="268.20" stroke="#222" stroke-width="0.7"/>
<text x="157.40" y="275.10" font-size="6.40" fill="#111" font-weight="bold" text-anchor="middle" >600</text>
<line x1="30.90" y1="266.40" x2="30.90" y2="267.40" stroke="#222" stroke-width="0.6"/>
<line x1="53.90" y1="266.40" x2="53.90" y2="267.40" stroke="#222" stroke-width="0.6"/>
<line x1="76.90" y1="266.40" x2="76.90" y2="267.40" stroke="#222" stroke-width="0.6"/>
<line x1="99.90" y1="266.40" x2="99.90" y2="267.40" stroke="#222" stroke-width="0.6"/>
<line x1="122.90" y1="266.40" x2="122.90" y2="267.40" stroke="#222" stroke-width="0.6"/>
<line x1="145.90" y1="266.40" x2="145.90" y2="267.40" stroke="#222" stroke-width="0.6"/>
<text x="88.50" y="283.60" font-size="6.60" fill="#111" font-weight="bold" text-anchor="middle" >Time (s)</text>
<text x="0.00" y="0.00" font-size="6.60" fill="#111" font-weight="bold" text-anchor="middle" transform="translate(6.6,214.8) rotate(-90)">Temperature (&#176;C)</text>
<polyline points="19.40,245.62 21.70,231.77 24.00,225.76 26.30,219.76 28.60,215.60 30.90,211.91 33.20,208.68 35.50,206.37 37.80,204.06 40.10,202.44 42.40,200.60 44.70,198.75 47.00,197.13 50.45,195.52 53.90,193.67 57.35,191.82 61.95,189.51 66.55,187.67 71.15,186.51 75.75,185.36 84.95,183.97 91.85,182.82 99.90,181.66 106.80,180.28 113.70,179.59 120.60,179.12 127.50,178.66 135.09,178.89 141.30,178.89 149.58,178.66" fill="none" stroke="#e8454a" stroke-width="0.80" stroke-linejoin="round" />
<polyline points="19.40,249.78 21.70,238.69 24.00,233.38 26.30,228.07 28.60,224.84 30.90,221.38 33.20,219.07 35.50,216.99 37.80,214.68 40.10,213.06 47.00,208.45 53.90,205.45 60.80,203.14 66.55,201.75 74.60,200.60 81.50,199.67 89.55,198.75 103.35,198.29 127.50,198.29 145.44,197.60" fill="none" stroke="#3f6fb8" stroke-width="0.80" stroke-linejoin="round" />
<circle cx="19.40" cy="245.62" r="1.95" fill="#e23a40"/>
<circle cx="21.70" cy="231.77" r="1.95" fill="#e23a40"/>
<circle cx="24.00" cy="225.76" r="1.95" fill="#e23a40"/>
<circle cx="26.30" cy="219.76" r="1.95" fill="#e23a40"/>
<circle cx="28.60" cy="215.60" r="1.95" fill="#e23a40"/>
<circle cx="30.90" cy="211.91" r="1.95" fill="#e23a40"/>
<circle cx="33.20" cy="208.68" r="1.95" fill="#e23a40"/>
<circle cx="35.50" cy="206.37" r="1.95" fill="#e23a40"/>
<circle cx="37.80" cy="204.06" r="1.95" fill="#e23a40"/>
<circle cx="40.10" cy="202.44" r="1.95" fill="#e23a40"/>
<circle cx="42.40" cy="200.60" r="1.95" fill="#e23a40"/>
<circle cx="44.70" cy="198.75" r="1.95" fill="#e23a40"/>
<circle cx="47.00" cy="197.13" r="1.95" fill="#e23a40"/>
<circle cx="50.45" cy="195.52" r="1.95" fill="#e23a40"/>
<circle cx="53.90" cy="193.67" r="1.95" fill="#e23a40"/>
<circle cx="57.35" cy="191.82" r="1.95" fill="#e23a40"/>
<circle cx="61.95" cy="189.51" r="1.95" fill="#e23a40"/>
<circle cx="66.55" cy="187.67" r="1.95" fill="#e23a40"/>
<circle cx="71.15" cy="186.51" r="1.95" fill="#e23a40"/>
<circle cx="75.75" cy="185.36" r="1.95" fill="#e23a40"/>
<circle cx="84.95" cy="183.97" r="1.95" fill="#e23a40"/>
<circle cx="91.85" cy="182.82" r="1.95" fill="#e23a40"/>
<circle cx="99.90" cy="181.66" r="1.95" fill="#e23a40"/>
<circle cx="106.80" cy="180.28" r="1.95" fill="#e23a40"/>
<circle cx="113.70" cy="179.59" r="1.95" fill="#e23a40"/>
<circle cx="120.60" cy="179.12" r="1.95" fill="#e23a40"/>
<circle cx="127.50" cy="178.66" r="1.95" fill="#e23a40"/>
<circle cx="135.09" cy="178.89" r="1.95" fill="#e23a40"/>
<circle cx="141.30" cy="178.89" r="1.95" fill="#e23a40"/>
<circle cx="149.58" cy="178.66" r="1.95" fill="#e23a40"/>
<circle cx="19.40" cy="249.78" r="1.95" fill="#3a68b2"/>
<circle cx="21.70" cy="238.69" r="1.95" fill="#3a68b2"/>
<circle cx="24.00" cy="233.38" r="1.95" fill="#3a68b2"/>
<circle cx="26.30" cy="228.07" r="1.95" fill="#3a68b2"/>
<circle cx="28.60" cy="224.84" r="1.95" fill="#3a68b2"/>
<circle cx="30.90" cy="221.38" r="1.95" fill="#3a68b2"/>
<circle cx="33.20" cy="219.07" r="1.95" fill="#3a68b2"/>
<circle cx="35.50" cy="216.99" r="1.95" fill="#3a68b2"/>
<circle cx="37.80" cy="214.68" r="1.95" fill="#3a68b2"/>
<circle cx="40.10" cy="213.06" r="1.95" fill="#3a68b2"/>
<circle cx="47.00" cy="208.45" r="1.95" fill="#3a68b2"/>
<circle cx="53.90" cy="205.45" r="1.95" fill="#3a68b2"/>
<circle cx="60.80" cy="203.14" r="1.95" fill="#3a68b2"/>
<circle cx="66.55" cy="201.75" r="1.95" fill="#3a68b2"/>
<circle cx="74.60" cy="200.60" r="1.95" fill="#3a68b2"/>
<circle cx="81.50" cy="199.67" r="1.95" fill="#3a68b2"/>
<circle cx="89.55" cy="198.75" r="1.95" fill="#3a68b2"/>
<circle cx="103.35" cy="198.29" r="1.95" fill="#3a68b2"/>
<circle cx="127.50" cy="198.29" r="1.95" fill="#3a68b2"/>
<circle cx="145.44" cy="197.60" r="1.95" fill="#3a68b2"/>
<text x="154.80" y="174.80" font-size="6.50" fill="#222" font-weight="normal" text-anchor="end" >53&#176;C</text>
<text x="154.30" y="195.20" font-size="6.50" fill="#222" font-weight="normal" text-anchor="end" >45&#176;C</text>
<line x1="62" y1="238.8" x2="74" y2="238.8" stroke="#e8454a" stroke-width="0.8"/><circle cx="68" cy="238.8" r="1.95" fill="#e23a40"/>
<line x1="62" y1="246.7" x2="74" y2="246.7" stroke="#3f6fb8" stroke-width="0.8"/><circle cx="68" cy="246.7" r="1.95" fill="#3a68b2"/>
<text x="75.80" y="240.80" font-size="5.60" fill="#222" font-weight="normal" text-anchor="start" >FAPbBr<tspan font-size="4" dy="1.2">3</tspan><tspan dy="-1.2"> PEC cell</tspan></text>
<text x="75.80" y="248.70" font-size="5.60" fill="#222" font-weight="normal" text-anchor="start" >FAPbBr<tspan font-size="4" dy="1.2">3</tspan><tspan dy="-1.2"> solar cell</tspan></text>
<text x="164.40" y="165.40" font-size="10.00" fill="#111" font-weight="bold" text-anchor="start" >d</text>
<clipPath id="c231"><rect x="172.80" y="162.10" width="157.90" height="105.70"/></clipPath>
<g clip-path="url(#c231)">
<rect x="172.80" y="162.10" width="157.90" height="105.70" fill="#3dbae5"/>
<rect x="172.80" y="162.10" width="157.90" height="105.70" rx="0.00" fill="#3dbae5" />
<filter id="f232" x="-50%" y="-50%" width="200%" height="200%"><feGaussianBlur stdDeviation="8.00"/></filter>
<ellipse cx="243.86" cy="220.24" rx="71.06" ry="47.57" fill="#4cbdde" filter="url(#f232)"/>
<filter id="f233" x="-50%" y="-50%" width="200%" height="200%"><feGaussianBlur stdDeviation="4.00"/></filter>
<ellipse cx="322.81" cy="167.38" rx="18.95" ry="15.86" fill="#2e97db" filter="url(#f233)"/>
<filter id="f234" x="-50%" y="-50%" width="200%" height="200%"><feGaussianBlur stdDeviation="4.00"/></filter>
<ellipse cx="243.60" cy="203.00" rx="27.00" ry="40.00" fill="#5bc1d8" filter="url(#f234)"/>
<filter id="f235" x="-50%" y="-50%" width="200%" height="200%"><feGaussianBlur stdDeviation="0.60"/></filter>
<polygon points="232.80,172.75 234.75,170.30 251.35,170.30 253.30,172.75 253.30,192.50 261.85,193.30 263.90,195.75 263.90,231.75 258.00,234.30 250.00,233.50 244.00,234.80 236.00,233.70 231.00,234.70 225.15,233.30 223.40,230.95 223.40,195.75 225.35,193.30 232.80,192.50" fill="#5eb44e" filter="url(#f235)"/>
<filter id="f236" x="-50%" y="-50%" width="200%" height="200%"><feGaussianBlur stdDeviation="0.40"/></filter>
<polygon points="233.80,173.25 235.25,171.30 250.85,171.30 252.30,173.25 252.30,193.50 261.35,194.30 262.90,196.25 262.90,231.25 258.00,233.30 250.00,232.50 244.00,233.80 236.00,232.70 231.00,233.70 225.65,232.30 224.40,230.45 224.40,196.25 225.85,194.30 233.80,193.50" fill="#8cc62d" filter="url(#f236)"/>
<filter id="f237" x="-50%" y="-50%" width="200%" height="200%"><feGaussianBlur stdDeviation="0.45"/></filter>
<polygon points="234.70,173.70 235.70,172.20 250.40,172.20 251.40,173.70 251.40,194.40 260.90,195.20 262.00,196.70 262.00,230.80 258.00,232.40 250.00,231.60 244.00,232.90 236.00,231.80 231.00,232.80 226.10,231.40 225.30,230.00 225.30,196.70 226.30,195.20 234.70,194.40" fill="#eee526" filter="url(#f237)"/>
<filter id="f238" x="-50%" y="-50%" width="200%" height="200%"><feGaussianBlur stdDeviation="0.60"/></filter>
<polygon points="235.50,174.10 236.10,173.00 250.00,173.00 250.60,174.10 250.60,195.20 260.50,196.00 261.20,197.10 261.20,230.40 258.00,231.60 250.00,230.80 244.00,232.10 236.00,231.00 231.00,232.00 226.50,230.60 226.10,229.60 226.10,197.10 226.70,196.00 235.50,195.20" fill="#f4a520" filter="url(#f238)"/>
<filter id="f239" x="-50%" y="-50%" width="200%" height="200%"><feGaussianBlur stdDeviation="1.00"/></filter>
<rect x="236.20" y="174.50" width="13.80" height="21.50" rx="1.00" fill="#f4ab20" filter="url(#f239)"/>
<filter id="f240" x="-50%" y="-50%" width="200%" height="200%"><feGaussianBlur stdDeviation="1.20"/></filter>
<rect x="237.50" y="174.00" width="9.50" height="7.00" rx="1.00" fill="#f1ce23" filter="url(#f240)"/>
<filter id="f241" x="-50%" y="-50%" width="200%" height="200%"><feGaussianBlur stdDeviation="1.40"/></filter>
<rect x="238.00" y="182.00" width="11.00" height="8.00" rx="1.00" fill="#f2911f" filter="url(#f241)"/>
<filter id="f242" x="-50%" y="-50%" width="200%" height="200%"><feGaussianBlur stdDeviation="1.30"/></filter>
<rect x="227.00" y="197.50" width="33.50" height="33.50" rx="2.00" fill="#e94c20" filter="url(#f242)"/>
<filter id="f243" x="-50%" y="-50%" width="200%" height="200%"><feGaussianBlur stdDeviation="1.60"/></filter>
<rect x="228.00" y="200.00" width="10.00" height="28.00" rx="2.00" fill="#ec6120" filter="url(#f243)"/>
<filter id="f244" x="-50%" y="-50%" width="200%" height="200%"><feGaussianBlur stdDeviation="2.00"/></filter>
<rect x="240.00" y="211.00" width="19.50" height="20.00" rx="3.00" fill="#e42c21" filter="url(#f244)"/>
<filter id="f245" x="-50%" y="-50%" width="200%" height="200%"><feGaussianBlur stdDeviation="2.00"/></filter>
<rect x="244.00" y="198.00" width="15.50" height="14.00" rx="3.00" fill="#e74520" filter="url(#f245)"/>
<filter id="f246" x="-50%" y="-50%" width="200%" height="200%"><feGaussianBlur stdDeviation="0.80"/></filter>
<ellipse cx="248.00" cy="168.10" rx="2.30" ry="2.30" fill="#1c469e" filter="url(#f246)"/>
<filter id="f247" x="-50%" y="-50%" width="200%" height="200%"><feGaussianBlur stdDeviation="0.80"/></filter>
<ellipse cx="265.40" cy="213.80" rx="2.60" ry="2.60" fill="#1c469e" filter="url(#f247)"/>
<filter id="f248" x="-50%" y="-50%" width="200%" height="200%"><feGaussianBlur stdDeviation="0.80"/></filter>
<ellipse cx="231.80" cy="236.60" rx="1.90" ry="1.90" fill="#1c469e" filter="url(#f248)"/>
<filter id="f249" x="-50%" y="-50%" width="200%" height="200%"><feGaussianBlur stdDeviation="0.80"/></filter>
<ellipse cx="255.50" cy="235.40" rx="1.90" ry="1.90" fill="#1c469e" filter="url(#f249)"/>
<filter id="f250" x="-50%" y="-50%" width="200%" height="200%"><feGaussianBlur stdDeviation="0.80"/></filter>
<ellipse cx="259.80" cy="170.00" rx="1.20" ry="1.20" fill="#1c469e" filter="url(#f250)"/>
</g>
<g filter="url(#pblur)">
<rect x="172.8" y="162.1" width="51.1" height="36.8" fill="#efe6ef"/>
<rect x="172.8" y="185.5" width="51.1" height="8.6" fill="#ddd4e0"/>
<rect x="172.8" y="193.8" width="51.1" height="5.1" fill="#a8a2b4"/>
<rect x="172.8" y="162.4" width="2.9" height="23.5" fill="#3c4064"/>
<rect x="198.0" y="165.4" width="4.6" height="10.3" fill="#4c3236"/>
<rect x="195.1" y="175.4" width="10.2" height="2.2" fill="#b8b4c8"/>
<rect x="195.1" y="177.6" width="10.2" height="7.9" fill="#1e2236"/>
</g>
<line x1="215.5" y1="216.0" x2="274.5" y2="216.0" stroke="#222" stroke-width="0.8"/>
<line x1="289.3" y1="185.7" x2="271.0" y2="209.3" stroke="#111" stroke-width="0.7"/>
<polyline points="271.2,205.0 270.3,210.2 275.0,208.0" fill="none" stroke="#111" stroke-width="0.7"/>
<text x="276.90" y="172.60" font-size="7.90" fill="#fff" font-weight="normal" text-anchor="start" >Water droplet</text>
<text x="276.90" y="182.00" font-size="7.90" fill="#fff" font-weight="normal" text-anchor="start" >20.5&#176;C</text>
<text x="277.40" y="218.00" font-size="7.40" fill="#222" font-weight="normal" text-anchor="start" >Profile 1</text>
<text x="191.50" y="265.00" font-size="7.90" fill="#fff" font-weight="normal" text-anchor="start" >Minimum: 20.5&#176;C Maximum: 30.4&#176;C</text>
<text x="333.70" y="165.20" font-size="10.00" fill="#111" font-weight="bold" text-anchor="start" >e</text>
<text x="354.90" y="164.70" font-size="6.80" fill="#1a1a1a" font-weight="bold" text-anchor="end" >30.4</text>
<text x="354.90" y="185.52" font-size="6.80" fill="#1a1a1a" font-weight="bold" text-anchor="end" >28.4</text>
<text x="354.90" y="206.34" font-size="6.80" fill="#1a1a1a" font-weight="bold" text-anchor="end" >26.4</text>
<text x="354.90" y="227.16" font-size="6.80" fill="#1a1a1a" font-weight="bold" text-anchor="end" >24.4</text>
<text x="354.90" y="247.98" font-size="6.80" fill="#1a1a1a" font-weight="bold" text-anchor="end" >22.4</text>
<text x="354.90" y="268.80" font-size="6.80" fill="#1a1a1a" font-weight="bold" text-anchor="end" >20.4</text>
<text x="336.20" y="219.00" font-size="6.60" fill="#1a1a1a" font-weight="bold" text-anchor="start" >&#176;C</text>
<line x1="358.0" y1="163.3" x2="358.0" y2="267.9" stroke="#e2e2e2" stroke-width="0.7"/>
<linearGradient id="g251" gradientUnits="userSpaceOnUse" x1="358.00" y1="0" x2="509.60" y2="0">
<stop offset="0.0000" stop-color="#48bde0"/>
<stop offset="0.0053" stop-color="#4abddf"/>
<stop offset="0.0106" stop-color="#4cbdde"/>
<stop offset="0.0158" stop-color="#4ebede"/>
<stop offset="0.0211" stop-color="#50bedd"/>
<stop offset="0.0264" stop-color="#52bfdc"/>
<stop offset="0.0317" stop-color="#53bfdb"/>
<stop offset="0.0369" stop-color="#54bfdb"/>
<stop offset="0.0422" stop-color="#56c0da"/>
<stop offset="0.0475" stop-color="#57c0da"/>
<stop offset="0.0528" stop-color="#58c0d9"/>
<stop offset="0.0580" stop-color="#5ac1d9"/>
<stop offset="0.0633" stop-color="#5ac1d8"/>
<stop offset="0.0686" stop-color="#5bc1d8"/>
<stop offset="0.0739" stop-color="#5bc1d8"/>
<stop offset="0.0792" stop-color="#5bc1d8"/>
<stop offset="0.0844" stop-color="#5cc1d8"/>
<stop offset="0.0897" stop-color="#5cc1d8"/>
<stop offset="0.0950" stop-color="#5cc1d7"/>
<stop offset="0.1003" stop-color="#5dc1d7"/>
<stop offset="0.1055" stop-color="#5dc1d7"/>
<stop offset="0.1108" stop-color="#5ec1d7"/>
<stop offset="0.1161" stop-color="#5ec2d7"/>
<stop offset="0.1214" stop-color="#5fc2d7"/>
<stop offset="0.1266" stop-color="#5fc2d6"/>
<stop offset="0.1319" stop-color="#5fc2d6"/>
<stop offset="0.1372" stop-color="#60c2d6"/>
<stop offset="0.1425" stop-color="#62c1ce"/>
<stop offset="0.1478" stop-color="#63c0c7"/>
<stop offset="0.1530" stop-color="#66bfbb"/>
<stop offset="0.1583" stop-color="#64ba86"/>
<stop offset="0.1636" stop-color="#5db234"/>
<stop offset="0.1689" stop-color="#7cbf2f"/>
<stop offset="0.1741" stop-color="#a0cc2c"/>
<stop offset="0.1794" stop-color="#c4d829"/>
<stop offset="0.1847" stop-color="#ece426"/>
<stop offset="0.1900" stop-color="#f3c322"/>
<stop offset="0.1953" stop-color="#f4a120"/>
<stop offset="0.2005" stop-color="#f3911f"/>
<stop offset="0.2058" stop-color="#f1851f"/>
<stop offset="0.2111" stop-color="#ef751f"/>
<stop offset="0.2164" stop-color="#ee6d1f"/>
<stop offset="0.2216" stop-color="#ec6520"/>
<stop offset="0.2269" stop-color="#e84720"/>
<stop offset="0.2322" stop-color="#e74420"/>
<stop offset="0.2375" stop-color="#e74120"/>
<stop offset="0.2427" stop-color="#e63e21"/>
<stop offset="0.2480" stop-color="#e74520"/>
<stop offset="0.2533" stop-color="#e53721"/>
<stop offset="0.2586" stop-color="#e53321"/>
<stop offset="0.2639" stop-color="#e63a21"/>
<stop offset="0.2691" stop-color="#e63921"/>
<stop offset="0.2744" stop-color="#e53821"/>
<stop offset="0.2797" stop-color="#e53621"/>
<stop offset="0.2850" stop-color="#e32a22"/>
<stop offset="0.2902" stop-color="#e53321"/>
<stop offset="0.2955" stop-color="#e53221"/>
<stop offset="0.3008" stop-color="#e74220"/>
<stop offset="0.3061" stop-color="#e42f21"/>
<stop offset="0.3113" stop-color="#e42e21"/>
<stop offset="0.3166" stop-color="#e42d21"/>
<stop offset="0.3219" stop-color="#e42c21"/>
<stop offset="0.3272" stop-color="#e32b22"/>
<stop offset="0.3325" stop-color="#e63c21"/>
<stop offset="0.3377" stop-color="#e32922"/>
<stop offset="0.3430" stop-color="#e32822"/>
<stop offset="0.3483" stop-color="#e32722"/>
<stop offset="0.3536" stop-color="#e22222"/>
<stop offset="0.3588" stop-color="#e32722"/>
<stop offset="0.3641" stop-color="#e63821"/>
<stop offset="0.3694" stop-color="#e53821"/>
<stop offset="0.3747" stop-color="#e53821"/>
<stop offset="0.3799" stop-color="#e22222"/>
<stop offset="0.3852" stop-color="#e32722"/>
<stop offset="0.3905" stop-color="#e32722"/>
<stop offset="0.3958" stop-color="#e22222"/>
<stop offset="0.4011" stop-color="#e22222"/>
<stop offset="0.4063" stop-color="#e22222"/>
<stop offset="0.4116" stop-color="#e22222"/>
<stop offset="0.4169" stop-color="#e53821"/>
<stop offset="0.4222" stop-color="#e32622"/>
<stop offset="0.4274" stop-color="#e32622"/>
<stop offset="0.4327" stop-color="#e32622"/>
<stop offset="0.4380" stop-color="#e53821"/>
<stop offset="0.4433" stop-color="#e53721"/>
<stop offset="0.4485" stop-color="#e22222"/>
<stop offset="0.4538" stop-color="#e32622"/>
<stop offset="0.4591" stop-color="#e32622"/>
<stop offset="0.4644" stop-color="#e32622"/>
<stop offset="0.4697" stop-color="#e53721"/>
<stop offset="0.4749" stop-color="#e32622"/>
<stop offset="0.4802" stop-color="#e32622"/>
<stop offset="0.4855" stop-color="#e53721"/>
<stop offset="0.4908" stop-color="#e32622"/>
<stop offset="0.4960" stop-color="#e53721"/>
<stop offset="0.5013" stop-color="#e53721"/>
<stop offset="0.5066" stop-color="#e32622"/>
<stop offset="0.5119" stop-color="#e53721"/>
<stop offset="0.5172" stop-color="#e32622"/>
<stop offset="0.5224" stop-color="#e53721"/>
<stop offset="0.5277" stop-color="#e32622"/>
<stop offset="0.5330" stop-color="#e32622"/>
<stop offset="0.5383" stop-color="#e32622"/>
<stop offset="0.5435" stop-color="#e22222"/>
<stop offset="0.5488" stop-color="#e32622"/>
<stop offset="0.5541" stop-color="#e32622"/>
<stop offset="0.5594" stop-color="#e22222"/>
<stop offset="0.5646" stop-color="#e53721"/>
<stop offset="0.5699" stop-color="#e32622"/>
<stop offset="0.5752" stop-color="#e32622"/>
<stop offset="0.5805" stop-color="#e53721"/>
<stop offset="0.5858" stop-color="#e22222"/>
<stop offset="0.5910" stop-color="#e53721"/>
<stop offset="0.5963" stop-color="#e32622"/>
<stop offset="0.6016" stop-color="#e53721"/>
<stop offset="0.6069" stop-color="#e22222"/>
<stop offset="0.6121" stop-color="#e53721"/>
<stop offset="0.6174" stop-color="#e53721"/>
<stop offset="0.6227" stop-color="#e32622"/>
<stop offset="0.6280" stop-color="#e32622"/>
<stop offset="0.6332" stop-color="#e32622"/>
<stop offset="0.6385" stop-color="#e32622"/>
<stop offset="0.6438" stop-color="#e22222"/>
<stop offset="0.6491" stop-color="#e32622"/>
<stop offset="0.6544" stop-color="#e53721"/>
<stop offset="0.6596" stop-color="#e32622"/>
<stop offset="0.6649" stop-color="#e22222"/>
<stop offset="0.6702" stop-color="#e32622"/>
<stop offset="0.6755" stop-color="#e22222"/>
<stop offset="0.6807" stop-color="#e53721"/>
<stop offset="0.6860" stop-color="#e32622"/>
<stop offset="0.6913" stop-color="#e32622"/>
<stop offset="0.6966" stop-color="#e22222"/>
<stop offset="0.7018" stop-color="#e32722"/>
<stop offset="0.7071" stop-color="#e22222"/>
<stop offset="0.7124" stop-color="#e32722"/>
<stop offset="0.7177" stop-color="#e22222"/>
<stop offset="0.7230" stop-color="#e63a21"/>
<stop offset="0.7282" stop-color="#e74220"/>
<stop offset="0.7335" stop-color="#eb5b20"/>
<stop offset="0.7388" stop-color="#eb5e20"/>
<stop offset="0.7441" stop-color="#ec6020"/>
<stop offset="0.7493" stop-color="#ec6320"/>
<stop offset="0.7546" stop-color="#f4a020"/>
<stop offset="0.7599" stop-color="#f1cc23"/>
<stop offset="0.7652" stop-color="#ebe426"/>
<stop offset="0.7704" stop-color="#c3d729"/>
<stop offset="0.7757" stop-color="#8dc62d"/>
<stop offset="0.7810" stop-color="#6fba31"/>
<stop offset="0.7863" stop-color="#5db342"/>
<stop offset="0.7916" stop-color="#68beb3"/>
<stop offset="0.7968" stop-color="#48bde0"/>
<stop offset="0.8021" stop-color="#2e9fdf"/>
<stop offset="0.8074" stop-color="#2f8fd6"/>
<stop offset="0.8127" stop-color="#3084d0"/>
<stop offset="0.8179" stop-color="#2c75c5"/>
<stop offset="0.8232" stop-color="#2765b9"/>
<stop offset="0.8285" stop-color="#235ab0"/>
<stop offset="0.8338" stop-color="#1f50a8"/>
<stop offset="0.8391" stop-color="#1e4ca4"/>
<stop offset="0.8443" stop-color="#1c49a1"/>
<stop offset="0.8496" stop-color="#1c479f"/>
<stop offset="0.8549" stop-color="#1c479f"/>
<stop offset="0.8602" stop-color="#1c479f"/>
<stop offset="0.8654" stop-color="#1c48a0"/>
<stop offset="0.8707" stop-color="#1d4ba3"/>
<stop offset="0.8760" stop-color="#1f50a8"/>
<stop offset="0.8813" stop-color="#245eb3"/>
<stop offset="0.8865" stop-color="#296cbe"/>
<stop offset="0.8918" stop-color="#2d78c8"/>
<stop offset="0.8971" stop-color="#3083d0"/>
<stop offset="0.9024" stop-color="#2f8bd4"/>
<stop offset="0.9077" stop-color="#2f92d8"/>
<stop offset="0.9129" stop-color="#2e95da"/>
<stop offset="0.9182" stop-color="#2e97db"/>
<stop offset="0.9235" stop-color="#2e9adc"/>
<stop offset="0.9288" stop-color="#2e9cde"/>
<stop offset="0.9340" stop-color="#2e9edf"/>
<stop offset="0.9393" stop-color="#2ea1e0"/>
<stop offset="0.9446" stop-color="#2da4e2"/>
<stop offset="0.9499" stop-color="#2da6e3"/>
<stop offset="0.9551" stop-color="#2da8e4"/>
<stop offset="0.9604" stop-color="#2daae5"/>
<stop offset="0.9657" stop-color="#2daae5"/>
<stop offset="0.9710" stop-color="#2daae5"/>
<stop offset="0.9763" stop-color="#2daae5"/>
<stop offset="0.9815" stop-color="#2daae5"/>
<stop offset="0.9868" stop-color="#2daae5"/>
<stop offset="0.9921" stop-color="#2daae5"/>
<stop offset="0.9974" stop-color="#2daae5"/>
</linearGradient>
<polygon points="358.00,267.90 358.00,235.60 358.80,235.28 359.60,234.96 360.40,234.23 361.20,233.65 362.00,234.08 362.80,232.98 363.60,233.46 364.40,232.98 365.20,232.29 366.00,232.74 366.80,231.81 367.60,232.30 368.40,231.69 369.20,231.66 370.00,232.10 370.80,232.64 371.60,231.52 372.40,231.60 373.20,232.14 374.00,232.55 374.80,231.92 375.60,231.58 376.40,232.38 377.20,230.92 378.00,232.07 378.80,231.14 379.60,229.87 380.40,229.35 381.20,227.36 382.00,224.06 382.80,220.22 383.60,215.48 384.40,210.57 385.20,205.56 386.00,200.01 386.80,192.85 387.60,185.69 388.40,182.10 389.20,179.70 390.00,177.70 390.80,176.90 391.60,176.10 392.40,174.58 393.20,174.14 394.00,174.26 394.80,172.67 395.60,172.63 396.40,172.08 397.20,171.04 398.00,170.76 398.80,169.81 399.60,169.58 400.40,169.57 401.20,170.05 402.00,169.44 402.80,169.04 403.60,169.22 404.40,168.79 405.20,168.37 406.00,168.96 406.80,168.66 407.60,167.83 408.40,168.17 409.20,167.94 410.00,168.31 410.80,167.94 411.60,167.13 412.40,168.01 413.20,166.56 414.00,166.86 414.80,167.23 415.60,166.24 416.40,166.66 417.20,165.91 418.00,166.77 418.80,166.84 419.60,166.47 420.40,166.84 421.20,165.92 422.00,166.41 422.80,166.18 423.60,166.08 424.40,165.81 425.20,166.31 426.00,166.39 426.80,165.61 427.60,165.81 428.40,164.83 429.20,165.72 430.00,165.56 430.80,166.00 431.60,165.66 432.40,164.78 433.20,164.85 434.00,165.20 434.80,164.15 435.60,164.78 436.40,164.32 437.20,164.23 438.00,164.13 438.80,165.18 439.60,164.20 440.40,164.36 441.20,164.56 442.00,165.27 442.80,164.06 443.60,164.60 444.40,164.74 445.20,165.24 446.00,165.20 446.80,165.32 447.60,164.50 448.40,164.76 449.20,164.73 450.00,165.58 450.80,165.74 451.60,164.59 452.40,164.68 453.20,164.82 454.00,164.88 454.80,165.31 455.60,165.53 456.40,165.09 457.20,164.76 458.00,165.44 458.80,165.43 459.60,165.78 460.40,166.42 461.20,166.08 462.00,165.87 462.80,166.30 463.60,166.67 464.40,166.01 465.20,167.55 466.00,167.65 466.80,168.07 467.60,167.93 468.40,172.14 469.20,175.03 470.00,175.30 470.80,175.57 471.60,175.83 472.40,185.44 473.20,194.60 474.00,200.20 474.80,205.80 475.60,212.92 476.40,217.40 477.20,221.00 478.00,226.09 478.80,235.65 479.60,245.21 480.40,249.58 481.20,252.22 482.00,254.86 482.80,257.50 483.60,259.43 484.40,261.36 485.20,263.29 486.00,264.80 486.80,265.60 487.60,266.40 488.40,265.80 489.20,265.00 490.00,263.60 490.80,261.20 491.60,258.80 492.40,256.40 493.20,254.33 494.00,252.47 494.80,250.60 495.60,248.73 496.40,247.95 497.20,247.33 498.00,246.71 498.80,246.08 499.60,245.46 500.40,244.83 501.20,244.37 502.00,243.99 502.80,243.62 503.60,243.25 504.40,243.20 505.20,243.20 506.00,243.20 506.80,243.20 507.60,243.20 508.40,243.20 509.20,243.20 509.60,267.90" fill="url(#g251)"/>
<linearGradient id="g252" x1="0" y1="1" x2="0" y2="0">
<stop offset="0.000" stop-color="#1a3f98"/>
<stop offset="0.025" stop-color="#1a419a"/>
<stop offset="0.050" stop-color="#1b449c"/>
<stop offset="0.075" stop-color="#1c469e"/>
<stop offset="0.100" stop-color="#1c48a0"/>
<stop offset="0.125" stop-color="#1e4ca4"/>
<stop offset="0.150" stop-color="#1f50a8"/>
<stop offset="0.175" stop-color="#235cb2"/>
<stop offset="0.200" stop-color="#296cbf"/>
<stop offset="0.225" stop-color="#2f7dcb"/>
<stop offset="0.250" stop-color="#2f8bd4"/>
<stop offset="0.275" stop-color="#2e9adc"/>
<stop offset="0.300" stop-color="#2da8e4"/>
<stop offset="0.325" stop-color="#2cb6ec"/>
<stop offset="0.350" stop-color="#38b9e7"/>
<stop offset="0.375" stop-color="#45bce2"/>
<stop offset="0.400" stop-color="#51bfdc"/>
<stop offset="0.425" stop-color="#5ec1d7"/>
<stop offset="0.450" stop-color="#63c0c8"/>
<stop offset="0.475" stop-color="#67beb7"/>
<stop offset="0.500" stop-color="#63b981"/>
<stop offset="0.525" stop-color="#5db341"/>
<stop offset="0.550" stop-color="#6fba31"/>
<stop offset="0.575" stop-color="#87c42e"/>
<stop offset="0.600" stop-color="#a4ce2b"/>
<stop offset="0.625" stop-color="#c3d729"/>
<stop offset="0.650" stop-color="#e2e127"/>
<stop offset="0.675" stop-color="#efdc25"/>
<stop offset="0.700" stop-color="#f1ce23"/>
<stop offset="0.725" stop-color="#f3c022"/>
<stop offset="0.750" stop-color="#f5b220"/>
<stop offset="0.775" stop-color="#f4a120"/>
<stop offset="0.800" stop-color="#f2911f"/>
<stop offset="0.825" stop-color="#f07e1f"/>
<stop offset="0.850" stop-color="#ed6920"/>
<stop offset="0.875" stop-color="#ea5420"/>
<stop offset="0.900" stop-color="#e74520"/>
<stop offset="0.925" stop-color="#e63c21"/>
<stop offset="0.950" stop-color="#e53321"/>
<stop offset="0.975" stop-color="#e32b22"/>
<stop offset="1.000" stop-color="#e22222"/>
</linearGradient>
<rect x="485.70" y="180.90" width="7.00" height="53.10" fill="url(#g252)"/>
<text x="493.50" y="186.90" font-size="4.90" fill="#444" font-weight="normal" text-anchor="start" >30.0&#176;C</text>
<text x="493.50" y="198.80" font-size="4.90" fill="#444" font-weight="normal" text-anchor="start" >27.5&#176;C</text>
<text x="493.50" y="210.70" font-size="4.90" fill="#444" font-weight="normal" text-anchor="start" >25.0&#176;C</text>
<text x="493.50" y="222.60" font-size="4.90" fill="#444" font-weight="normal" text-anchor="start" >22.5&#176;C</text>
<text x="493.50" y="234.50" font-size="4.90" fill="#444" font-weight="normal" text-anchor="start" >20.0&#176;C</text>
<text x="477.80" y="170.30" font-size="7.30" fill="#555" font-weight="normal" text-anchor="start" >Profile 1</text>
<text x="518.40" y="166.00" font-size="10.00" fill="#111" font-weight="bold" text-anchor="start" >f</text>
<line x1="536.50" y1="249.00" x2="673.60" y2="249.00" stroke="#bbb" stroke-width="0.6" stroke-dasharray="2.2,1.6"/>
<line x1="536.50" y1="214.40" x2="673.60" y2="214.40" stroke="#bbb" stroke-width="0.6" stroke-dasharray="2.2,1.6"/>
<line x1="536.50" y1="179.80" x2="673.60" y2="179.80" stroke="#bbb" stroke-width="0.6" stroke-dasharray="2.2,1.6"/>
<rect x="536.50" y="162.50" width="137.10" height="103.80" fill="none" stroke="#222" stroke-width="0.8"/>
<line x1="534.70" y1="249.00" x2="536.50" y2="249.00" stroke="#222" stroke-width="0.7"/>
<text x="532.10" y="251.30" font-size="6.40" fill="#111" font-weight="bold" text-anchor="end" >20</text>
<line x1="534.70" y1="214.40" x2="536.50" y2="214.40" stroke="#222" stroke-width="0.7"/>
<text x="532.10" y="216.70" font-size="6.40" fill="#111" font-weight="bold" text-anchor="end" >30</text>
<line x1="534.70" y1="179.80" x2="536.50" y2="179.80" stroke="#222" stroke-width="0.7"/>
<text x="532.10" y="182.10" font-size="6.40" fill="#111" font-weight="bold" text-anchor="end" >40</text>
<line x1="535.50" y1="231.70" x2="536.50" y2="231.70" stroke="#222" stroke-width="0.6"/>
<line x1="535.50" y1="197.10" x2="536.50" y2="197.10" stroke="#222" stroke-width="0.6"/>
<line x1="536.50" y1="266.30" x2="536.50" y2="268.10" stroke="#222" stroke-width="0.7"/>
<text x="536.50" y="275.00" font-size="6.40" fill="#111" font-weight="bold" text-anchor="middle" >0</text>
<line x1="563.92" y1="266.30" x2="563.92" y2="268.10" stroke="#222" stroke-width="0.7"/>
<text x="563.92" y="275.00" font-size="6.40" fill="#111" font-weight="bold" text-anchor="middle" >100</text>
<line x1="591.34" y1="266.30" x2="591.34" y2="268.10" stroke="#222" stroke-width="0.7"/>
<text x="591.34" y="275.00" font-size="6.40" fill="#111" font-weight="bold" text-anchor="middle" >200</text>
<line x1="618.76" y1="266.30" x2="618.76" y2="268.10" stroke="#222" stroke-width="0.7"/>
<text x="618.76" y="275.00" font-size="6.40" fill="#111" font-weight="bold" text-anchor="middle" >300</text>
<line x1="646.18" y1="266.30" x2="646.18" y2="268.10" stroke="#222" stroke-width="0.7"/>
<text x="646.18" y="275.00" font-size="6.40" fill="#111" font-weight="bold" text-anchor="middle" >400</text>
<line x1="673.60" y1="266.30" x2="673.60" y2="268.10" stroke="#222" stroke-width="0.7"/>
<text x="673.60" y="275.00" font-size="6.40" fill="#111" font-weight="bold" text-anchor="middle" >500</text>
<line x1="550.21" y1="266.30" x2="550.21" y2="267.30" stroke="#222" stroke-width="0.6"/>
<line x1="577.63" y1="266.30" x2="577.63" y2="267.30" stroke="#222" stroke-width="0.6"/>
<line x1="605.05" y1="266.30" x2="605.05" y2="267.30" stroke="#222" stroke-width="0.6"/>
<line x1="632.47" y1="266.30" x2="632.47" y2="267.30" stroke="#222" stroke-width="0.6"/>
<line x1="659.89" y1="266.30" x2="659.89" y2="267.30" stroke="#222" stroke-width="0.6"/>
<text x="605.00" y="286.20" font-size="6.60" fill="#111" font-weight="bold" text-anchor="middle" >Time (s)</text>
<text x="0.00" y="0.00" font-size="6.60" fill="#111" font-weight="bold" text-anchor="middle" transform="translate(523.3,214.5) rotate(-90)">Temperature (&#176;C)</text>
<polyline points="536.50,238.62 539.24,227.55 541.98,219.59 544.73,215.09 547.47,212.67 550.21,209.21 552.95,206.79 555.69,204.71 558.44,202.29 561.18,201.25 563.92,199.87 566.66,198.83 569.40,197.45 574.89,195.37 580.37,193.64 585.86,191.91 594.08,191.22 599.57,190.87 605.05,190.87 610.53,189.14 618.76,187.41 624.24,187.07 635.21,186.03 643.44,186.37 651.66,185.68 659.89,185.34" fill="none" stroke="#5ab8d0" stroke-width="0.80" stroke-linejoin="round" />
<polyline points="536.50,242.08 539.24,223.74 541.98,216.13 544.73,211.63 547.47,207.48 550.21,204.02 552.95,200.56 555.69,197.79 558.44,196.06 561.18,195.02 563.92,193.99 566.66,192.26 569.40,190.53 574.89,187.41 580.37,185.68 585.86,184.99 591.34,183.26 596.82,183.61 602.31,183.26 610.53,181.53 618.76,181.88 626.99,180.49 635.21,180.49 643.44,180.15 651.66,180.49 659.89,180.15" fill="none" stroke="#ec8a50" stroke-width="0.80" stroke-linejoin="round" />
<circle cx="536.50" cy="238.62" r="1.95" fill="#58b6d0"/>
<circle cx="539.24" cy="227.55" r="1.95" fill="#58b6d0"/>
<circle cx="541.98" cy="219.59" r="1.95" fill="#58b6d0"/>
<circle cx="544.73" cy="215.09" r="1.95" fill="#58b6d0"/>
<circle cx="547.47" cy="212.67" r="1.95" fill="#58b6d0"/>
<circle cx="550.21" cy="209.21" r="1.95" fill="#58b6d0"/>
<circle cx="552.95" cy="206.79" r="1.95" fill="#58b6d0"/>
<circle cx="555.69" cy="204.71" r="1.95" fill="#58b6d0"/>
<circle cx="558.44" cy="202.29" r="1.95" fill="#58b6d0"/>
<circle cx="561.18" cy="201.25" r="1.95" fill="#58b6d0"/>
<circle cx="563.92" cy="199.87" r="1.95" fill="#58b6d0"/>
<circle cx="566.66" cy="198.83" r="1.95" fill="#58b6d0"/>
<circle cx="569.40" cy="197.45" r="1.95" fill="#58b6d0"/>
<circle cx="574.89" cy="195.37" r="1.95" fill="#58b6d0"/>
<circle cx="580.37" cy="193.64" r="1.95" fill="#58b6d0"/>
<circle cx="585.86" cy="191.91" r="1.95" fill="#58b6d0"/>
<circle cx="594.08" cy="191.22" r="1.95" fill="#58b6d0"/>
<circle cx="599.57" cy="190.87" r="1.95" fill="#58b6d0"/>
<circle cx="605.05" cy="190.87" r="1.95" fill="#58b6d0"/>
<circle cx="610.53" cy="189.14" r="1.95" fill="#58b6d0"/>
<circle cx="618.76" cy="187.41" r="1.95" fill="#58b6d0"/>
<circle cx="624.24" cy="187.07" r="1.95" fill="#58b6d0"/>
<circle cx="635.21" cy="186.03" r="1.95" fill="#58b6d0"/>
<circle cx="643.44" cy="186.37" r="1.95" fill="#58b6d0"/>
<circle cx="651.66" cy="185.68" r="1.95" fill="#58b6d0"/>
<circle cx="659.89" cy="185.34" r="1.95" fill="#58b6d0"/>
<circle cx="536.50" cy="242.08" r="1.95" fill="#ee8650"/>
<circle cx="539.24" cy="223.74" r="1.95" fill="#ee8650"/>
<circle cx="541.98" cy="216.13" r="1.95" fill="#ee8650"/>
<circle cx="544.73" cy="211.63" r="1.95" fill="#ee8650"/>
<circle cx="547.47" cy="207.48" r="1.95" fill="#ee8650"/>
<circle cx="550.21" cy="204.02" r="1.95" fill="#ee8650"/>
<circle cx="552.95" cy="200.56" r="1.95" fill="#ee8650"/>
<circle cx="555.69" cy="197.79" r="1.95" fill="#ee8650"/>
<circle cx="558.44" cy="196.06" r="1.95" fill="#ee8650"/>
<circle cx="561.18" cy="195.02" r="1.95" fill="#ee8650"/>
<circle cx="563.92" cy="193.99" r="1.95" fill="#ee8650"/>
<circle cx="566.66" cy="192.26" r="1.95" fill="#ee8650"/>
<circle cx="569.40" cy="190.53" r="1.95" fill="#ee8650"/>
<circle cx="574.89" cy="187.41" r="1.95" fill="#ee8650"/>
<circle cx="580.37" cy="185.68" r="1.95" fill="#ee8650"/>
<circle cx="585.86" cy="184.99" r="1.95" fill="#ee8650"/>
<circle cx="591.34" cy="183.26" r="1.95" fill="#ee8650"/>
<circle cx="596.82" cy="183.61" r="1.95" fill="#ee8650"/>
<circle cx="602.31" cy="183.26" r="1.95" fill="#ee8650"/>
<circle cx="610.53" cy="181.53" r="1.95" fill="#ee8650"/>
<circle cx="618.76" cy="181.88" r="1.95" fill="#ee8650"/>
<circle cx="626.99" cy="180.49" r="1.95" fill="#ee8650"/>
<circle cx="635.21" cy="180.49" r="1.95" fill="#ee8650"/>
<circle cx="643.44" cy="180.15" r="1.95" fill="#ee8650"/>
<circle cx="651.66" cy="180.49" r="1.95" fill="#ee8650"/>
<circle cx="659.89" cy="180.15" r="1.95" fill="#ee8650"/>
<text x="667.00" y="175.70" font-size="6.50" fill="#222" font-weight="normal" text-anchor="end" >39.9&#176;C</text>
<text x="667.00" y="194.90" font-size="6.50" fill="#222" font-weight="normal" text-anchor="end" >38.4&#176;C</text>
<line x1="579" y1="230.8" x2="592" y2="230.8" stroke="#5ab8d0" stroke-width="0.8"/><circle cx="585.5" cy="230.8" r="1.95" fill="#58b6d0"/>
<line x1="579" y1="237.5" x2="592" y2="237.5" stroke="#ec8a50" stroke-width="0.8"/><circle cx="585.5" cy="237.5" r="1.95" fill="#ee8650"/>
<text x="593.80" y="232.80" font-size="5.60" fill="#222" font-weight="normal" text-anchor="start" >ITO/Carbon/GS</text>
<text x="593.80" y="239.50" font-size="5.60" fill="#222" font-weight="normal" text-anchor="start" >ITO/Carbon</text>
<text x="0.40" y="297.60" font-size="10.00" fill="#111" font-weight="bold" text-anchor="start" >g</text>
<polygon points="10.80,325.00 70.20,330.60 70.20,343.80 10.80,335.40" fill="#d5e6f8" stroke="#d5e6f8" stroke-width="0.35" stroke-linejoin="round"/>
<polygon points="70.20,330.60 95.80,318.80 95.80,329.90 70.20,343.80" fill="#a6b6d2" stroke="#a6b6d2" stroke-width="0.35" stroke-linejoin="round"/>
<polygon points="10.80,315.30 70.20,318.80 70.20,330.60 10.80,325.00" fill="#6b6b6b" stroke="#6b6b6b" stroke-width="0.35" stroke-linejoin="round"/>
<polygon points="70.20,318.80 95.80,309.80 95.80,318.80 70.20,330.60" fill="#4f4f4f" stroke="#4f4f4f" stroke-width="0.35" stroke-linejoin="round"/>
<polygon points="10.80,315.30 41.80,304.20 95.80,309.80 70.20,318.80" fill="#5e5e5e" stroke="#5e5e5e" stroke-width="0.35" stroke-linejoin="round"/>
<text x="41.80" y="326.60" font-size="6.80" fill="#2a2a2a" font-weight="normal" text-anchor="middle" >Carbon</text>
<text x="41.80" y="336.80" font-size="6.80" fill="#555" font-weight="normal" text-anchor="middle" >Glass</text>
<linearGradient id="g253" gradientUnits="userSpaceOnUse" x1="0" y1="341.20" x2="0" y2="364.00">
<stop offset="0.00" stop-color="#1a5fc0"/>
<stop offset="0.20" stop-color="#2aa0d8"/>
<stop offset="0.42" stop-color="#4ab44a"/>
<stop offset="0.62" stop-color="#e8e030"/>
<stop offset="0.80" stop-color="#f09a28"/>
<stop offset="1.00" stop-color="#e03024"/>
</linearGradient>
<polygon points="46.70,341.20 52.80,351.00 50.40,351.00 50.40,364.00 42.80,364.00 42.80,351.00 40.60,351.00" fill="url(#g253)" />
<text x="0.00" y="0.00" font-size="4.60" fill="#333" font-weight="normal" text-anchor="middle" transform="translate(45.10,358.00) rotate(90)">h&#957;</text>
<text x="341.60" y="298.40" font-size="10.00" fill="#111" font-weight="bold" text-anchor="start" >k</text>
<polygon points="350.90,327.30 410.80,333.90 410.80,345.60 350.90,337.80" fill="#d5e6f8" stroke="#d5e6f8" stroke-width="0.35" stroke-linejoin="round"/>
<polygon points="410.80,333.90 435.60,320.80 435.60,331.70 410.80,345.60" fill="#a6b6d2" stroke="#a6b6d2" stroke-width="0.35" stroke-linejoin="round"/>
<polygon points="350.90,318.30 410.80,324.10 410.80,333.90 350.90,327.30" fill="#676767" stroke="#676767" stroke-width="0.35" stroke-linejoin="round"/>
<polygon points="410.80,324.10 435.60,312.70 435.60,320.80 410.80,333.90" fill="#4a4a4a" stroke="#4a4a4a" stroke-width="0.35" stroke-linejoin="round"/>
<polygon points="350.90,309.10 410.80,313.90 410.80,324.10 350.90,318.30" fill="#c9c9c9" stroke="#c9c9c9" stroke-width="0.35" stroke-linejoin="round"/>
<polygon points="410.80,313.90 435.60,303.70 435.60,312.70 410.80,324.10" fill="#8c8c8c" stroke="#8c8c8c" stroke-width="0.35" stroke-linejoin="round"/>
<polygon points="350.90,309.10 382.30,298.90 435.60,303.70 410.80,313.90" fill="#9e9e9e" stroke="#9e9e9e" stroke-width="0.35" stroke-linejoin="round"/>
<text x="381.60" y="319.60" font-size="6.80" fill="#444" font-weight="normal" text-anchor="middle" >Graphite</text>
<text x="381.60" y="329.00" font-size="6.80" fill="#2a2a2a" font-weight="normal" text-anchor="middle" >Carbon</text>
<text x="381.60" y="338.80" font-size="6.80" fill="#555" font-weight="normal" text-anchor="middle" >Glass</text>
<linearGradient id="g254" gradientUnits="userSpaceOnUse" x1="0" y1="343.40" x2="0" y2="365.50">
<stop offset="0.00" stop-color="#1a5fc0"/>
<stop offset="0.20" stop-color="#2aa0d8"/>
<stop offset="0.42" stop-color="#4ab44a"/>
<stop offset="0.62" stop-color="#e8e030"/>
<stop offset="0.80" stop-color="#f09a28"/>
<stop offset="1.00" stop-color="#e03024"/>
</linearGradient>
<polygon points="386.70,343.40 393.30,353.40 390.60,353.40 390.60,365.50 383.00,365.50 383.00,353.40 380.90,353.40" fill="url(#g254)" />
<text x="0.00" y="0.00" font-size="4.60" fill="#333" font-weight="normal" text-anchor="middle" transform="translate(385.30,359.95) rotate(90)">h&#957;</text>
<path d="M386.70,306.8 C385.40,304.5 388.00,303.0 386.70,300.8 C385.40,298.6 388.00,297.2 386.70,294.5" fill="none" stroke="#ef8a3c" stroke-width="1.1"/>
<polygon points="386.70,289.80 385.10,294.80 388.30,294.80" fill="#ef8a3c" />
<path d="M394.90,306.8 C393.60,304.5 396.20,303.0 394.90,300.8 C393.60,298.6 396.20,297.2 394.90,294.5" fill="none" stroke="#ef8a3c" stroke-width="1.1"/>
<polygon points="394.90,289.80 393.30,294.80 396.50,294.80" fill="#ef8a3c" />
<path d="M403.00,306.8 C401.70,304.5 404.30,303.0 403.00,300.8 C401.70,298.6 404.30,297.2 403.00,294.5" fill="none" stroke="#ef8a3c" stroke-width="1.1"/>
<polygon points="403.00,289.80 401.40,294.80 404.60,294.80" fill="#ef8a3c" />
<line x1="117.20" y1="299.80" x2="214.20" y2="299.80" stroke="#e4e4e4" stroke-width="0.5"/>
<line x1="117.20" y1="314.60" x2="214.20" y2="314.60" stroke="#e4e4e4" stroke-width="0.5"/>
<line x1="117.20" y1="329.80" x2="214.20" y2="329.80" stroke="#e4e4e4" stroke-width="0.5"/>
<line x1="117.20" y1="345.00" x2="214.20" y2="345.00" stroke="#e4e4e4" stroke-width="0.5"/>
<line x1="117.20" y1="359.20" x2="214.20" y2="359.20" stroke="#e4e4e4" stroke-width="0.5"/>
<line x1="117.20" y1="307.20" x2="214.20" y2="307.20" stroke="#ececec" stroke-width="0.5"/>
<line x1="117.20" y1="322.20" x2="214.20" y2="322.20" stroke="#ececec" stroke-width="0.5"/>
<line x1="117.20" y1="337.40" x2="214.20" y2="337.40" stroke="#ececec" stroke-width="0.5"/>
<line x1="117.20" y1="352.10" x2="214.20" y2="352.10" stroke="#ececec" stroke-width="0.5"/>
<linearGradient id="g255" gradientUnits="userSpaceOnUse" x1="117.20" y1="0" x2="214.20" y2="0">
<stop offset="0.0000" stop-color="#2dade7"/>
<stop offset="0.0167" stop-color="#2daee8"/>
<stop offset="0.0333" stop-color="#2cafe8"/>
<stop offset="0.0500" stop-color="#2cb2ea"/>
<stop offset="0.0667" stop-color="#2cb4eb"/>
<stop offset="0.0833" stop-color="#2db6ec"/>
<stop offset="0.1000" stop-color="#30b7ea"/>
<stop offset="0.1167" stop-color="#35b8e8"/>
<stop offset="0.1333" stop-color="#39b9e6"/>
<stop offset="0.1500" stop-color="#3fbae4"/>
<stop offset="0.1667" stop-color="#44bce2"/>
<stop offset="0.1833" stop-color="#4cbdde"/>
<stop offset="0.2000" stop-color="#5dc1d7"/>
<stop offset="0.2167" stop-color="#67beb7"/>
<stop offset="0.2333" stop-color="#64b533"/>
<stop offset="0.2500" stop-color="#7bbf2f"/>
<stop offset="0.2667" stop-color="#9dcb2c"/>
<stop offset="0.2833" stop-color="#d9de28"/>
<stop offset="0.3000" stop-color="#ebe426"/>
<stop offset="0.3167" stop-color="#eee526"/>
<stop offset="0.3333" stop-color="#eee326"/>
<stop offset="0.3500" stop-color="#efdc25"/>
<stop offset="0.3667" stop-color="#f1d224"/>
<stop offset="0.3833" stop-color="#f2cb23"/>
<stop offset="0.4000" stop-color="#f2c722"/>
<stop offset="0.4167" stop-color="#f3c422"/>
<stop offset="0.4333" stop-color="#f3c222"/>
<stop offset="0.4500" stop-color="#f3c022"/>
<stop offset="0.4667" stop-color="#f3bf21"/>
<stop offset="0.4833" stop-color="#f3be21"/>
<stop offset="0.5000" stop-color="#f3be21"/>
<stop offset="0.5167" stop-color="#f3be21"/>
<stop offset="0.5333" stop-color="#f3bf22"/>
<stop offset="0.5500" stop-color="#f3c022"/>
<stop offset="0.5667" stop-color="#f3c222"/>
<stop offset="0.5833" stop-color="#f2c522"/>
<stop offset="0.6000" stop-color="#f2c923"/>
<stop offset="0.6167" stop-color="#f1ce23"/>
<stop offset="0.6333" stop-color="#f0d925"/>
<stop offset="0.6500" stop-color="#eee326"/>
<stop offset="0.6667" stop-color="#eee426"/>
<stop offset="0.6833" stop-color="#ece426"/>
<stop offset="0.7000" stop-color="#e7e326"/>
<stop offset="0.7167" stop-color="#acd02b"/>
<stop offset="0.7333" stop-color="#81c22f"/>
<stop offset="0.7500" stop-color="#6db932"/>
<stop offset="0.7667" stop-color="#5eb44b"/>
<stop offset="0.7833" stop-color="#65bfc0"/>
<stop offset="0.8000" stop-color="#5dc1d7"/>
<stop offset="0.8167" stop-color="#4fbedd"/>
<stop offset="0.8333" stop-color="#48bde0"/>
<stop offset="0.8500" stop-color="#42bbe3"/>
<stop offset="0.8667" stop-color="#3dbae5"/>
<stop offset="0.8833" stop-color="#38b9e7"/>
<stop offset="0.9000" stop-color="#35b8e8"/>
<stop offset="0.9167" stop-color="#31b7ea"/>
<stop offset="0.9333" stop-color="#2db6eb"/>
<stop offset="0.9500" stop-color="#2cb4eb"/>
<stop offset="0.9667" stop-color="#2cb1e9"/>
<stop offset="0.9833" stop-color="#2daee7"/>
<stop offset="1.0000" stop-color="#2dade7"/>
</linearGradient>
<polygon points="117.20,360.00 117.20,358.72 117.90,359.26 118.60,358.93 119.30,358.58 120.00,358.66 120.70,357.98 121.40,357.78 122.10,358.11 122.80,356.99 123.50,357.10 124.20,356.65 124.90,356.46 125.60,356.08 126.30,355.64 127.00,354.90 127.70,354.62 128.40,353.35 129.10,353.02 129.80,351.95 130.50,351.85 131.20,351.04 131.90,349.79 132.60,349.56 133.30,348.32 134.00,348.25 134.70,346.23 135.40,345.28 136.10,343.12 136.80,341.77 137.50,340.52 138.20,339.12 138.90,336.90 139.60,335.19 140.30,333.55 141.00,331.05 141.70,329.72 142.40,327.97 143.10,325.91 143.80,324.17 144.50,322.06 145.20,320.45 145.90,318.62 146.60,316.15 147.30,314.46 148.00,313.14 148.70,311.83 149.40,310.16 150.10,308.42 150.80,306.96 151.50,304.86 152.20,303.63 152.90,303.07 153.60,301.73 154.30,300.74 155.00,300.30 155.70,299.69 156.40,299.17 157.10,298.93 157.80,298.53 158.50,297.48 159.20,297.33 159.90,296.96 160.60,296.74 161.30,296.77 162.00,296.17 162.70,296.78 163.40,296.03 164.10,296.16 164.80,296.60 165.50,296.22 166.20,295.81 166.90,296.00 167.60,296.31 168.30,296.68 169.00,296.57 169.70,296.49 170.40,296.96 171.10,297.57 171.80,297.95 172.50,298.28 173.20,298.59 173.90,298.37 174.60,299.17 175.30,299.94 176.00,300.72 176.70,301.46 177.40,302.87 178.10,304.04 178.80,305.23 179.50,306.79 180.20,308.22 180.90,310.32 181.60,312.04 182.30,313.50 183.00,314.97 183.70,316.57 184.40,318.31 185.10,320.47 185.80,322.59 186.50,323.95 187.20,326.42 187.90,327.68 188.60,329.92 189.30,331.17 190.00,333.13 190.70,334.93 191.40,336.03 192.10,337.56 192.80,338.75 193.50,339.79 194.20,341.25 194.90,342.47 195.60,343.62 196.30,344.80 197.00,345.54 197.70,346.63 198.40,347.44 199.10,348.92 199.80,348.94 200.50,350.28 201.20,350.43 201.90,351.65 202.60,351.72 203.30,352.52 204.00,353.55 204.70,353.50 205.40,354.49 206.10,355.07 206.80,355.62 207.50,356.01 208.20,356.72 208.90,356.70 209.60,357.21 210.30,357.60 211.00,358.00 211.70,358.27 212.40,358.64 213.10,359.44 213.80,359.30 214.20,360.00" fill="url(#g255)"/>
<rect x="117.20" y="295.30" width="97.00" height="64.70" fill="none" stroke="#858585" stroke-width="0.8"/>
<text x="116.40" y="301.90" font-size="5.90" fill="#222" font-weight="bold" text-anchor="end" letter-spacing="-0.2">32.6</text>
<text x="116.40" y="316.70" font-size="5.90" fill="#222" font-weight="bold" text-anchor="end" letter-spacing="-0.2">30.6</text>
<text x="116.40" y="331.90" font-size="5.90" fill="#222" font-weight="bold" text-anchor="end" letter-spacing="-0.2">28.6</text>
<text x="116.40" y="347.10" font-size="5.90" fill="#222" font-weight="bold" text-anchor="end" letter-spacing="-0.2">26.6</text>
<text x="116.40" y="361.30" font-size="5.90" fill="#222" font-weight="bold" text-anchor="end" letter-spacing="-0.2">24.6</text>
<text x="97.80" y="329.85" font-size="5.90" fill="#222" font-weight="bold" text-anchor="start" >&#176;C</text>
<text x="211.70" y="302.20" font-size="6.90" fill="#444" font-weight="normal" text-anchor="end" >Profile 2</text>
<text x="145.30" y="344.00" font-size="5.00" fill="#2b2b10" font-weight="normal" text-anchor="start" letter-spacing="-0.15">Minimum: 24.7&#176;C</text>
<text x="145.30" y="350.45" font-size="5.00" fill="#2b2b10" font-weight="normal" text-anchor="start" letter-spacing="-0.15">Maximum: 33.1&#176;C</text>
<text x="145.30" y="356.90" font-size="5.00" fill="#2b2b10" font-weight="normal" text-anchor="start" letter-spacing="-0.15">Average: 28.8&#176;C</text>
<text x="97.40" y="298.30" font-size="10.00" fill="#111" font-weight="bold" text-anchor="start" >h</text>
<line x1="235.70" y1="299.60" x2="332.90" y2="299.60" stroke="#e4e4e4" stroke-width="0.5"/>
<line x1="235.70" y1="319.50" x2="332.90" y2="319.50" stroke="#e4e4e4" stroke-width="0.5"/>
<line x1="235.70" y1="339.20" x2="332.90" y2="339.20" stroke="#e4e4e4" stroke-width="0.5"/>
<line x1="235.70" y1="359.60" x2="332.90" y2="359.60" stroke="#e4e4e4" stroke-width="0.5"/>
<line x1="235.70" y1="309.55" x2="332.90" y2="309.55" stroke="#ececec" stroke-width="0.5"/>
<line x1="235.70" y1="329.35" x2="332.90" y2="329.35" stroke="#ececec" stroke-width="0.5"/>
<line x1="235.70" y1="349.40" x2="332.90" y2="349.40" stroke="#ececec" stroke-width="0.5"/>
<linearGradient id="g256" gradientUnits="userSpaceOnUse" x1="235.70" y1="0" x2="332.90" y2="0">
<stop offset="0.0000" stop-color="#68b732"/>
<stop offset="0.0167" stop-color="#70ba31"/>
<stop offset="0.0333" stop-color="#80c12f"/>
<stop offset="0.0500" stop-color="#90c72d"/>
<stop offset="0.0667" stop-color="#a4ce2b"/>
<stop offset="0.0833" stop-color="#b8d42a"/>
<stop offset="0.1000" stop-color="#cdda28"/>
<stop offset="0.1167" stop-color="#dcdf27"/>
<stop offset="0.1333" stop-color="#ebe426"/>
<stop offset="0.1500" stop-color="#efe025"/>
<stop offset="0.1667" stop-color="#f0d825"/>
<stop offset="0.1833" stop-color="#f3c422"/>
<stop offset="0.2000" stop-color="#f5ae20"/>
<stop offset="0.2167" stop-color="#f3941f"/>
<stop offset="0.2333" stop-color="#ee721f"/>
<stop offset="0.2500" stop-color="#e94e20"/>
<stop offset="0.2667" stop-color="#e63c21"/>
<stop offset="0.2833" stop-color="#e42e21"/>
<stop offset="0.3000" stop-color="#e22222"/>
<stop offset="0.3167" stop-color="#e22222"/>
<stop offset="0.3333" stop-color="#e22222"/>
<stop offset="0.3500" stop-color="#e22222"/>
<stop offset="0.3667" stop-color="#e22222"/>
<stop offset="0.3833" stop-color="#e22222"/>
<stop offset="0.4000" stop-color="#e22222"/>
<stop offset="0.4167" stop-color="#e22222"/>
<stop offset="0.4333" stop-color="#e22222"/>
<stop offset="0.4500" stop-color="#e22222"/>
<stop offset="0.4667" stop-color="#e22222"/>
<stop offset="0.4833" stop-color="#e22222"/>
<stop offset="0.5000" stop-color="#e22222"/>
<stop offset="0.5167" stop-color="#e22222"/>
<stop offset="0.5333" stop-color="#e22222"/>
<stop offset="0.5500" stop-color="#e22222"/>
<stop offset="0.5667" stop-color="#e22222"/>
<stop offset="0.5833" stop-color="#e22222"/>
<stop offset="0.6000" stop-color="#e22222"/>
<stop offset="0.6167" stop-color="#e22222"/>
<stop offset="0.6333" stop-color="#e22222"/>
<stop offset="0.6500" stop-color="#e22222"/>
<stop offset="0.6667" stop-color="#e22422"/>
<stop offset="0.6833" stop-color="#e43021"/>
<stop offset="0.7000" stop-color="#e63c21"/>
<stop offset="0.7167" stop-color="#e95020"/>
<stop offset="0.7333" stop-color="#f07a1f"/>
<stop offset="0.7500" stop-color="#f39b1f"/>
<stop offset="0.7667" stop-color="#f5b120"/>
<stop offset="0.7833" stop-color="#f2c522"/>
<stop offset="0.8000" stop-color="#f0d624"/>
<stop offset="0.8167" stop-color="#efde25"/>
<stop offset="0.8333" stop-color="#eee426"/>
<stop offset="0.8500" stop-color="#e4e227"/>
<stop offset="0.8667" stop-color="#dadf27"/>
<stop offset="0.8833" stop-color="#cada29"/>
<stop offset="0.9000" stop-color="#b6d32a"/>
<stop offset="0.9167" stop-color="#a1cd2b"/>
<stop offset="0.9333" stop-color="#8dc62d"/>
<stop offset="0.9500" stop-color="#7dc02f"/>
<stop offset="0.9667" stop-color="#6eb931"/>
<stop offset="0.9833" stop-color="#68b732"/>
<stop offset="1.0000" stop-color="#65b633"/>
</linearGradient>
<polygon points="235.70,360.00 235.70,347.07 236.40,346.13 237.10,345.49 237.80,345.11 238.50,344.82 239.20,344.66 239.90,343.91 240.60,343.51 241.30,342.95 242.00,342.42 242.70,342.75 243.40,341.84 244.10,341.79 244.80,341.10 245.50,340.19 246.20,340.27 246.90,339.93 247.60,339.32 248.30,338.12 249.00,337.42 249.70,337.38 250.40,336.50 251.10,335.79 251.80,334.90 252.50,334.23 253.20,333.47 253.90,332.21 254.60,331.69 255.30,330.90 256.00,329.19 256.70,328.23 257.40,327.27 258.10,326.13 258.80,324.24 259.50,322.50 260.20,321.14 260.90,319.79 261.60,318.03 262.30,316.23 263.00,314.34 263.70,312.82 264.40,311.08 265.10,309.18 265.80,307.81 266.50,306.52 267.20,305.19 267.90,304.44 268.60,303.60 269.30,302.52 270.00,302.58 270.70,301.96 271.40,301.22 272.10,299.95 272.80,300.01 273.50,299.82 274.20,299.07 274.90,298.38 275.60,298.47 276.30,297.85 277.00,297.55 277.70,297.78 278.40,297.34 279.10,297.28 279.80,296.62 280.50,296.59 281.20,296.51 281.90,296.15 282.60,296.38 283.30,296.47 284.00,297.12 284.70,296.71 285.40,296.60 286.10,297.40 286.80,296.99 287.50,297.26 288.20,297.76 288.90,297.93 289.60,298.47 290.30,299.14 291.00,299.19 291.70,299.99 292.40,299.82 293.10,301.04 293.80,301.26 294.50,302.37 295.20,302.97 295.90,303.64 296.60,304.71 297.30,305.38 298.00,307.18 298.70,308.21 299.40,308.75 300.10,310.45 300.80,311.76 301.50,313.12 302.20,314.77 302.90,316.25 303.60,317.58 304.30,319.02 305.00,321.02 305.70,322.37 306.40,324.65 307.10,326.29 307.80,327.87 308.50,328.90 309.20,329.97 309.90,330.67 310.60,331.85 311.30,332.58 312.00,333.28 312.70,334.33 313.40,334.38 314.10,335.47 314.80,336.11 315.50,336.59 316.20,337.34 316.90,337.64 317.60,337.74 318.30,338.25 319.00,339.18 319.70,339.89 320.40,339.87 321.10,340.39 321.80,340.52 322.50,340.95 323.20,341.81 323.90,342.03 324.60,342.50 325.30,343.11 326.00,343.24 326.70,344.37 327.40,344.79 328.10,344.59 328.80,345.38 329.50,345.99 330.20,346.22 330.90,346.93 331.60,347.40 332.30,347.36 332.90,360.00" fill="url(#g256)"/>
<rect x="235.70" y="295.30" width="97.20" height="64.70" fill="none" stroke="#858585" stroke-width="0.8"/>
<text x="234.90" y="301.70" font-size="5.90" fill="#222" font-weight="bold" text-anchor="end" letter-spacing="-0.2">39.1</text>
<text x="234.90" y="321.60" font-size="5.90" fill="#222" font-weight="bold" text-anchor="end" letter-spacing="-0.2">35.1</text>
<text x="234.90" y="341.30" font-size="5.90" fill="#222" font-weight="bold" text-anchor="end" letter-spacing="-0.2">31.1</text>
<text x="234.90" y="361.70" font-size="5.90" fill="#222" font-weight="bold" text-anchor="end" letter-spacing="-0.2">27.1</text>
<text x="217.50" y="329.85" font-size="5.90" fill="#222" font-weight="bold" text-anchor="start" >&#176;C</text>
<text x="330.40" y="302.20" font-size="6.90" fill="#444" font-weight="normal" text-anchor="end" >Profile 3</text>
<text x="263.30" y="344.00" font-size="5.00" fill="#2b2b10" font-weight="normal" text-anchor="start" letter-spacing="-0.15">Minimum: 27.2&#176;C</text>
<text x="263.30" y="350.45" font-size="5.00" fill="#2b2b10" font-weight="normal" text-anchor="start" letter-spacing="-0.15">Maximum: 39.8&#176;C</text>
<text x="263.30" y="356.90" font-size="5.00" fill="#2b2b10" font-weight="normal" text-anchor="start" letter-spacing="-0.15">Average: 28.8&#176;C</text>
<text x="218.60" y="298.30" font-size="10.00" fill="#111" font-weight="bold" text-anchor="start" >i</text>
<line x1="455.40" y1="306.90" x2="552.50" y2="306.90" stroke="#e4e4e4" stroke-width="0.5"/>
<line x1="455.40" y1="324.50" x2="552.50" y2="324.50" stroke="#e4e4e4" stroke-width="0.5"/>
<line x1="455.40" y1="342.20" x2="552.50" y2="342.20" stroke="#e4e4e4" stroke-width="0.5"/>
<line x1="455.40" y1="359.60" x2="552.50" y2="359.60" stroke="#e4e4e4" stroke-width="0.5"/>
<line x1="455.40" y1="315.70" x2="552.50" y2="315.70" stroke="#ececec" stroke-width="0.5"/>
<line x1="455.40" y1="333.35" x2="552.50" y2="333.35" stroke="#ececec" stroke-width="0.5"/>
<line x1="455.40" y1="350.90" x2="552.50" y2="350.90" stroke="#ececec" stroke-width="0.5"/>
<linearGradient id="g257" gradientUnits="userSpaceOnUse" x1="455.40" y1="0" x2="552.50" y2="0">
<stop offset="0.0000" stop-color="#34b8e9"/>
<stop offset="0.0167" stop-color="#37b9e7"/>
<stop offset="0.0333" stop-color="#3bb9e6"/>
<stop offset="0.0500" stop-color="#3fbae4"/>
<stop offset="0.0667" stop-color="#44bce2"/>
<stop offset="0.0833" stop-color="#48bde0"/>
<stop offset="0.1000" stop-color="#4cbdde"/>
<stop offset="0.1167" stop-color="#51bfdc"/>
<stop offset="0.1333" stop-color="#57c0da"/>
<stop offset="0.1500" stop-color="#5fc2d7"/>
<stop offset="0.1667" stop-color="#66bfbd"/>
<stop offset="0.1833" stop-color="#5fb558"/>
<stop offset="0.2000" stop-color="#60b433"/>
<stop offset="0.2167" stop-color="#6ab832"/>
<stop offset="0.2333" stop-color="#76bd30"/>
<stop offset="0.2500" stop-color="#dee027"/>
<stop offset="0.2667" stop-color="#eee226"/>
<stop offset="0.2833" stop-color="#efe025"/>
<stop offset="0.3000" stop-color="#efde25"/>
<stop offset="0.3167" stop-color="#efde25"/>
<stop offset="0.3333" stop-color="#efdd25"/>
<stop offset="0.3500" stop-color="#efdd25"/>
<stop offset="0.3667" stop-color="#efdc25"/>
<stop offset="0.3833" stop-color="#efdc25"/>
<stop offset="0.4000" stop-color="#efdc25"/>
<stop offset="0.4167" stop-color="#efdc25"/>
<stop offset="0.4333" stop-color="#efdc25"/>
<stop offset="0.4500" stop-color="#efdc25"/>
<stop offset="0.4667" stop-color="#efdc25"/>
<stop offset="0.4833" stop-color="#efdc25"/>
<stop offset="0.5000" stop-color="#efdc25"/>
<stop offset="0.5167" stop-color="#efdc25"/>
<stop offset="0.5333" stop-color="#efdc25"/>
<stop offset="0.5500" stop-color="#efdc25"/>
<stop offset="0.5667" stop-color="#efdc25"/>
<stop offset="0.5833" stop-color="#efdc25"/>
<stop offset="0.6000" stop-color="#efdc25"/>
<stop offset="0.6167" stop-color="#efdc25"/>
<stop offset="0.6333" stop-color="#efdc25"/>
<stop offset="0.6500" stop-color="#efdd25"/>
<stop offset="0.6667" stop-color="#efdd25"/>
<stop offset="0.6833" stop-color="#efde25"/>
<stop offset="0.7000" stop-color="#efde25"/>
<stop offset="0.7167" stop-color="#efdf25"/>
<stop offset="0.7333" stop-color="#efe125"/>
<stop offset="0.7500" stop-color="#eee326"/>
<stop offset="0.7667" stop-color="#eee526"/>
<stop offset="0.7833" stop-color="#a5ce2b"/>
<stop offset="0.8000" stop-color="#74bc31"/>
<stop offset="0.8167" stop-color="#69b732"/>
<stop offset="0.8333" stop-color="#5eb334"/>
<stop offset="0.8500" stop-color="#63b982"/>
<stop offset="0.8667" stop-color="#66bfbd"/>
<stop offset="0.8833" stop-color="#62c1ce"/>
<stop offset="0.9000" stop-color="#5fc2d6"/>
<stop offset="0.9167" stop-color="#5cc1d8"/>
<stop offset="0.9333" stop-color="#58c0d9"/>
<stop offset="0.9500" stop-color="#54bfdb"/>
<stop offset="0.9667" stop-color="#50bedd"/>
<stop offset="0.9833" stop-color="#4dbede"/>
<stop offset="1.0000" stop-color="#49bde0"/>
</linearGradient>
<polygon points="455.40,360.50 455.40,357.76 456.10,356.79 456.80,356.58 457.50,355.88 458.20,355.65 458.90,354.49 459.60,354.46 460.30,353.24 461.00,352.33 461.70,352.08 462.40,351.01 463.10,350.70 463.80,349.85 464.50,349.47 465.20,348.88 465.90,348.10 466.60,346.93 467.30,346.43 468.00,345.65 468.70,344.87 469.40,342.94 470.10,341.81 470.80,340.79 471.50,339.49 472.20,337.57 472.90,336.13 473.60,334.79 474.30,333.21 475.00,331.05 475.70,329.07 476.40,327.04 477.10,325.46 477.80,323.42 478.50,320.69 479.20,318.20 479.90,315.75 480.60,312.95 481.30,309.66 482.00,308.05 482.70,306.33 483.40,304.09 484.10,302.97 484.80,302.37 485.50,301.33 486.20,300.94 486.90,300.67 487.60,300.22 488.30,299.47 489.00,298.87 489.70,298.86 490.40,298.86 491.10,299.06 491.80,298.56 492.50,298.27 493.20,298.79 493.90,298.47 494.60,298.14 495.30,298.29 496.00,297.93 496.70,297.79 497.40,297.47 498.10,297.52 498.80,297.40 499.50,297.30 500.20,297.28 500.90,297.75 501.60,297.20 502.30,297.09 503.00,297.71 503.70,297.36 504.40,297.25 505.10,297.55 505.80,297.98 506.50,297.38 507.20,298.09 507.90,297.94 508.60,298.01 509.30,297.54 510.00,297.35 510.70,297.83 511.40,297.80 512.10,297.40 512.80,298.05 513.50,297.61 514.20,297.53 514.90,298.09 515.60,298.30 516.30,298.21 517.00,298.09 517.70,298.87 518.40,298.88 519.10,299.63 519.80,299.75 520.50,299.84 521.20,300.11 521.90,301.50 522.60,301.78 523.30,302.64 524.00,302.96 524.70,304.25 525.40,304.64 526.10,306.41 526.80,307.56 527.50,308.69 528.20,310.75 528.90,312.51 529.60,314.35 530.30,316.46 531.00,318.11 531.70,319.63 532.40,321.43 533.10,323.59 533.80,325.70 534.50,327.15 535.20,329.43 535.90,330.84 536.60,333.08 537.30,335.23 538.00,336.92 538.70,337.94 539.40,338.80 540.10,340.11 540.80,340.61 541.50,341.21 542.20,341.47 542.90,341.91 543.60,342.72 544.30,343.12 545.00,343.76 545.70,344.72 546.40,344.83 547.10,345.29 547.80,346.57 548.50,346.75 549.20,347.58 549.90,347.70 550.60,348.29 551.30,349.22 552.00,349.56 552.50,360.50" fill="url(#g257)"/>
<rect x="455.40" y="295.30" width="97.10" height="65.20" fill="none" stroke="#858585" stroke-width="0.8"/>
<text x="454.60" y="309.00" font-size="5.90" fill="#222" font-weight="bold" text-anchor="end" letter-spacing="-0.2">31.0</text>
<text x="454.60" y="326.60" font-size="5.90" fill="#222" font-weight="bold" text-anchor="end" letter-spacing="-0.2">29.0</text>
<text x="454.60" y="344.30" font-size="5.90" fill="#222" font-weight="bold" text-anchor="end" letter-spacing="-0.2">27.0</text>
<text x="454.60" y="361.70" font-size="5.90" fill="#222" font-weight="bold" text-anchor="end" letter-spacing="-0.2">25.0</text>
<text x="437.00" y="330.10" font-size="5.90" fill="#222" font-weight="bold" text-anchor="start" >&#176;C</text>
<text x="550.00" y="302.20" font-size="6.90" fill="#444" font-weight="normal" text-anchor="end" >Profile 4</text>
<text x="484.30" y="344.00" font-size="5.00" fill="#2b2b10" font-weight="normal" text-anchor="start" letter-spacing="-0.15">Minimum: 25.1&#176;C</text>
<text x="484.30" y="350.45" font-size="5.00" fill="#2b2b10" font-weight="normal" text-anchor="start" letter-spacing="-0.15">Maximum: 32.1&#176;C</text>
<text x="484.30" y="356.90" font-size="5.00" fill="#2b2b10" font-weight="normal" text-anchor="start" letter-spacing="-0.15">Average: 29.5&#176;C</text>
<text x="439.00" y="298.30" font-size="10.00" fill="#111" font-weight="bold" text-anchor="start" >l</text>
<line x1="576.60" y1="297.20" x2="673.60" y2="297.20" stroke="#e4e4e4" stroke-width="0.5"/>
<line x1="576.60" y1="318.10" x2="673.60" y2="318.10" stroke="#e4e4e4" stroke-width="0.5"/>
<line x1="576.60" y1="339.30" x2="673.60" y2="339.30" stroke="#e4e4e4" stroke-width="0.5"/>
<line x1="576.60" y1="360.00" x2="673.60" y2="360.00" stroke="#e4e4e4" stroke-width="0.5"/>
<line x1="576.60" y1="307.65" x2="673.60" y2="307.65" stroke="#ececec" stroke-width="0.5"/>
<line x1="576.60" y1="328.70" x2="673.60" y2="328.70" stroke="#ececec" stroke-width="0.5"/>
<line x1="576.60" y1="349.65" x2="673.60" y2="349.65" stroke="#ececec" stroke-width="0.5"/>
<linearGradient id="g258" gradientUnits="userSpaceOnUse" x1="576.60" y1="0" x2="673.60" y2="0">
<stop offset="0.0000" stop-color="#75bc30"/>
<stop offset="0.0167" stop-color="#90c72d"/>
<stop offset="0.0333" stop-color="#b2d22a"/>
<stop offset="0.0500" stop-color="#d9de28"/>
<stop offset="0.0667" stop-color="#eee326"/>
<stop offset="0.0833" stop-color="#f0d624"/>
<stop offset="0.1000" stop-color="#f3c322"/>
<stop offset="0.1167" stop-color="#f5b420"/>
<stop offset="0.1333" stop-color="#f4a420"/>
<stop offset="0.1500" stop-color="#f3971f"/>
<stop offset="0.1667" stop-color="#f28d1f"/>
<stop offset="0.1833" stop-color="#f1801f"/>
<stop offset="0.2000" stop-color="#ed6c1f"/>
<stop offset="0.2167" stop-color="#e84920"/>
<stop offset="0.2333" stop-color="#e53621"/>
<stop offset="0.2500" stop-color="#e42e21"/>
<stop offset="0.2667" stop-color="#e32822"/>
<stop offset="0.2833" stop-color="#e22422"/>
<stop offset="0.3000" stop-color="#e22222"/>
<stop offset="0.3167" stop-color="#e22222"/>
<stop offset="0.3333" stop-color="#e22222"/>
<stop offset="0.3500" stop-color="#e22222"/>
<stop offset="0.3667" stop-color="#e22222"/>
<stop offset="0.3833" stop-color="#e22222"/>
<stop offset="0.4000" stop-color="#e22222"/>
<stop offset="0.4167" stop-color="#e22222"/>
<stop offset="0.4333" stop-color="#e22222"/>
<stop offset="0.4500" stop-color="#e22222"/>
<stop offset="0.4667" stop-color="#e22222"/>
<stop offset="0.4833" stop-color="#e22222"/>
<stop offset="0.5000" stop-color="#e22222"/>
<stop offset="0.5167" stop-color="#e22222"/>
<stop offset="0.5333" stop-color="#e22222"/>
<stop offset="0.5500" stop-color="#e22222"/>
<stop offset="0.5667" stop-color="#e22222"/>
<stop offset="0.5833" stop-color="#e22222"/>
<stop offset="0.6000" stop-color="#e22222"/>
<stop offset="0.6167" stop-color="#e22222"/>
<stop offset="0.6333" stop-color="#e22222"/>
<stop offset="0.6500" stop-color="#e22222"/>
<stop offset="0.6667" stop-color="#e22222"/>
<stop offset="0.6833" stop-color="#e22222"/>
<stop offset="0.7000" stop-color="#e22222"/>
<stop offset="0.7167" stop-color="#e32622"/>
<stop offset="0.7333" stop-color="#e32b22"/>
<stop offset="0.7500" stop-color="#e43021"/>
<stop offset="0.7667" stop-color="#e63c21"/>
<stop offset="0.7833" stop-color="#ea5420"/>
<stop offset="0.8000" stop-color="#ee721f"/>
<stop offset="0.8167" stop-color="#f28a1f"/>
<stop offset="0.8333" stop-color="#f39d1f"/>
<stop offset="0.8500" stop-color="#f5b420"/>
<stop offset="0.8667" stop-color="#f3c322"/>
<stop offset="0.8833" stop-color="#f1d124"/>
<stop offset="0.9000" stop-color="#efdb25"/>
<stop offset="0.9167" stop-color="#eee226"/>
<stop offset="0.9333" stop-color="#e8e326"/>
<stop offset="0.9500" stop-color="#dbdf27"/>
<stop offset="0.9667" stop-color="#c9d929"/>
<stop offset="0.9833" stop-color="#b7d42a"/>
<stop offset="1.0000" stop-color="#abd02b"/>
</linearGradient>
<polygon points="576.60,360.50 576.60,340.01 577.30,339.06 578.00,338.55 578.70,337.65 579.40,337.09 580.10,336.36 580.80,334.82 581.50,334.40 582.20,332.93 582.90,332.07 583.60,330.84 584.30,329.68 585.00,329.02 585.70,328.08 586.40,326.52 587.10,326.01 587.80,325.53 588.50,324.81 589.20,324.18 589.90,323.05 590.60,322.02 591.30,322.02 592.00,321.33 592.70,320.33 593.40,319.59 594.10,318.89 594.80,318.47 595.50,316.89 596.20,315.52 596.90,314.87 597.60,312.86 598.30,312.12 599.00,310.71 599.70,309.51 600.40,308.24 601.10,306.42 601.80,305.87 602.50,304.14 603.20,303.13 603.90,302.65 604.60,301.60 605.30,301.51 606.00,301.09 606.70,300.25 607.40,299.65 608.10,299.05 608.80,298.79 609.50,297.98 610.20,298.06 610.90,298.50 611.60,297.81 612.30,297.79 613.00,298.13 613.70,297.42 614.40,297.77 615.10,298.05 615.80,297.40 616.50,297.39 617.20,297.79 617.90,297.29 618.60,297.50 619.30,297.50 620.00,297.06 620.70,297.35 621.40,297.52 622.10,297.02 622.80,297.12 623.50,297.68 624.20,297.53 624.90,297.11 625.60,297.27 626.30,297.47 627.00,297.47 627.70,297.61 628.40,297.81 629.10,297.87 629.80,297.63 630.50,297.68 631.20,297.39 631.90,297.64 632.60,298.10 633.30,297.49 634.00,297.86 634.70,297.64 635.40,298.11 636.10,297.67 636.80,297.91 637.50,297.83 638.20,298.55 638.90,298.14 639.60,298.78 640.30,298.99 641.00,299.44 641.70,299.33 642.40,299.89 643.10,299.51 643.80,300.76 644.50,301.84 645.20,301.96 645.90,302.75 646.60,304.03 647.30,304.75 648.00,306.17 648.70,306.93 649.40,308.33 650.10,309.72 650.80,310.59 651.50,311.63 652.20,312.90 652.90,314.27 653.60,315.60 654.30,317.27 655.00,318.47 655.70,319.62 656.40,320.70 657.10,322.23 657.80,323.52 658.50,324.84 659.20,325.20 659.90,325.74 660.60,326.51 661.30,327.31 662.00,328.39 662.70,329.36 663.40,329.70 664.10,330.46 664.80,330.75 665.50,331.66 666.20,331.83 666.90,332.75 667.60,332.70 668.30,333.73 669.00,333.85 669.70,334.65 670.40,335.10 671.10,335.53 671.80,336.19 672.50,336.27 673.20,336.69 673.60,360.50" fill="url(#g258)"/>
<rect x="576.60" y="295.30" width="97.00" height="65.20" fill="none" stroke="#858585" stroke-width="0.8"/>
<text x="575.80" y="299.30" font-size="5.90" fill="#222" font-weight="bold" text-anchor="end" letter-spacing="-0.2">37.9</text>
<text x="575.80" y="320.20" font-size="5.90" fill="#222" font-weight="bold" text-anchor="end" letter-spacing="-0.2">33.9</text>
<text x="575.80" y="341.40" font-size="5.90" fill="#222" font-weight="bold" text-anchor="end" letter-spacing="-0.2">29.9</text>
<text x="575.80" y="362.10" font-size="5.90" fill="#222" font-weight="bold" text-anchor="end" letter-spacing="-0.2">25.9</text>
<text x="557.50" y="330.10" font-size="5.90" fill="#222" font-weight="bold" text-anchor="start" >&#176;C</text>
<text x="671.10" y="302.20" font-size="6.90" fill="#444" font-weight="normal" text-anchor="end" >Profile 5</text>
<text x="604.90" y="344.00" font-size="5.00" fill="#2b2b10" font-weight="normal" text-anchor="start" letter-spacing="-0.15">Minimum: 26.0&#176;C</text>
<text x="604.90" y="350.45" font-size="5.00" fill="#2b2b10" font-weight="normal" text-anchor="start" letter-spacing="-0.15">Maximum: 38.0&#176;C</text>
<text x="604.90" y="356.90" font-size="5.00" fill="#2b2b10" font-weight="normal" text-anchor="start" letter-spacing="-0.15">Average: 34.8&#176;C</text>
<text x="555.60" y="298.30" font-size="10.00" fill="#111" font-weight="bold" text-anchor="start" >m</text>
<text x="-0.90" y="373.00" font-size="10.00" fill="#111" font-weight="bold" text-anchor="start" >j</text>
<clipPath id="c259"><rect x="12.00" y="370.10" width="38.30" height="72.30"/></clipPath>
<g clip-path="url(#c259)">
<rect x="12.00" y="370.10" width="38.30" height="72.30" fill="#296cbf"/>
<filter id="f260" x="-50%" y="-50%" width="200%" height="200%"><feGaussianBlur stdDeviation="0.80"/></filter>
<rect x="25.79" y="378.78" width="11.87" height="58.56" rx="0.00" fill="#2b72c3" filter="url(#f260)"/>
<filter id="f261" x="-50%" y="-50%" width="200%" height="200%"><feGaussianBlur stdDeviation="0.50"/></filter>
<polygon points="12.00,370.10 50.30,370.10 50.30,378.05 12.00,378.05" fill="#2662b7" filter="url(#f261)"/>
<filter id="f262" x="-50%" y="-50%" width="200%" height="200%"><feGaussianBlur stdDeviation="0.50"/></filter>
<polygon points="12.00,432.64 25.02,432.64 25.02,437.34 38.43,436.98 38.43,430.47 50.30,430.47 50.30,442.40 12.00,442.40" fill="#1f4fa7" filter="url(#f262)"/>
</g>
<text x="13.00" y="377.10" font-size="7.20" fill="#fff" font-weight="normal" text-anchor="start" >22.0&#176;C</text>
<text x="13.00" y="385.90" font-size="7.20" fill="#fff" font-weight="normal" text-anchor="start" >0 s</text>
<clipPath id="c263"><rect x="52.57" y="370.10" width="38.30" height="72.30"/></clipPath>
<g clip-path="url(#c263)">
<rect x="52.57" y="370.10" width="38.30" height="72.30" fill="#296cbf"/>
<filter id="f264" x="-50%" y="-50%" width="200%" height="200%"><feGaussianBlur stdDeviation="0.60"/></filter>
<polygon points="65.59,375.88 78.61,375.88 79.38,437.34 65.97,437.34" fill="#2f91d7" filter="url(#f264)"/>
<filter id="f265" x="-50%" y="-50%" width="200%" height="200%"><feGaussianBlur stdDeviation="1.00"/></filter>
<rect x="65.59" y="390.34" width="13.40" height="30.37" rx="1.00" fill="#38b9e7" filter="url(#f265)"/>
<filter id="f266" x="-50%" y="-50%" width="200%" height="200%"><feGaussianBlur stdDeviation="1.40"/></filter>
<rect x="66.36" y="394.68" width="11.87" height="21.69" rx="1.00" fill="#56c0da" filter="url(#f266)"/>
<filter id="f267" x="-50%" y="-50%" width="200%" height="200%"><feGaussianBlur stdDeviation="0.50"/></filter>
<polygon points="52.57,370.10 90.87,370.10 90.87,378.05 52.57,378.05" fill="#2662b7" filter="url(#f267)"/>
<filter id="f268" x="-50%" y="-50%" width="200%" height="200%"><feGaussianBlur stdDeviation="0.50"/></filter>
<polygon points="52.57,432.64 65.59,432.64 65.59,437.34 79.00,436.98 79.00,430.47 90.87,430.47 90.87,442.40 52.57,442.40" fill="#1f4fa7" filter="url(#f268)"/>
</g>
<text x="53.57" y="377.10" font-size="7.20" fill="#fff" font-weight="normal" text-anchor="start" >27.2&#176;C</text>
<text x="53.57" y="385.90" font-size="7.20" fill="#fff" font-weight="normal" text-anchor="start" >15 s</text>
<clipPath id="c269"><rect x="93.14" y="370.10" width="38.30" height="72.30"/></clipPath>
<g clip-path="url(#c269)">
<rect x="93.14" y="370.10" width="38.30" height="72.30" fill="#296cbf"/>
<filter id="f270" x="-50%" y="-50%" width="200%" height="200%"><feGaussianBlur stdDeviation="0.60"/></filter>
<polygon points="106.16,375.88 119.18,375.88 119.95,437.34 106.55,437.34" fill="#2f91d7" filter="url(#f270)"/>
<filter id="f271" x="-50%" y="-50%" width="200%" height="200%"><feGaussianBlur stdDeviation="1.50"/></filter>
<rect x="106.16" y="386.73" width="13.40" height="37.60" rx="2.00" fill="#42bbe3" filter="url(#f271)"/>
<filter id="f272" x="-50%" y="-50%" width="200%" height="200%"><feGaussianBlur stdDeviation="0.90"/></filter>
<rect x="106.35" y="392.51" width="13.02" height="25.30" rx="2.00" fill="#66bfbb" filter="url(#f272)"/>
<filter id="f273" x="-50%" y="-50%" width="200%" height="200%"><feGaussianBlur stdDeviation="0.80"/></filter>
<rect x="106.55" y="393.96" width="12.64" height="22.41" rx="2.50" fill="#6fba31" filter="url(#f273)"/>
<filter id="f274" x="-50%" y="-50%" width="200%" height="200%"><feGaussianBlur stdDeviation="0.50"/></filter>
<polygon points="93.14,370.10 131.44,370.10 131.44,378.05 93.14,378.05" fill="#2662b7" filter="url(#f274)"/>
<filter id="f275" x="-50%" y="-50%" width="200%" height="200%"><feGaussianBlur stdDeviation="0.50"/></filter>
<polygon points="93.14,432.64 106.16,432.64 106.16,437.34 119.57,436.98 119.57,430.47 131.44,430.47 131.44,442.40 93.14,442.40" fill="#1f4fa7" filter="url(#f275)"/>
</g>
<text x="94.14" y="377.10" font-size="7.20" fill="#fff" font-weight="normal" text-anchor="start" >29.4&#176;C</text>
<text x="94.14" y="385.90" font-size="7.20" fill="#fff" font-weight="normal" text-anchor="start" >24 s</text>
<clipPath id="c276"><rect x="133.71" y="370.10" width="38.30" height="72.30"/></clipPath>
<g clip-path="url(#c276)">
<rect x="133.71" y="370.10" width="38.30" height="72.30" fill="#296cbf"/>
<filter id="f277" x="-50%" y="-50%" width="200%" height="200%"><feGaussianBlur stdDeviation="4.00"/></filter>
<rect x="137.54" y="377.33" width="32.17" height="56.39" rx="4.00" fill="#3080ce" filter="url(#f277)"/>
<filter id="f278" x="-50%" y="-50%" width="200%" height="200%"><feGaussianBlur stdDeviation="0.60"/></filter>
<polygon points="146.73,375.88 159.75,375.88 160.52,437.34 147.12,437.34" fill="#2e9cde" filter="url(#f278)"/>
<filter id="f279" x="-50%" y="-50%" width="200%" height="200%"><feGaussianBlur stdDeviation="1.50"/></filter>
<rect x="146.73" y="386.73" width="13.40" height="37.60" rx="2.00" fill="#42bbe3" filter="url(#f279)"/>
<filter id="f280" x="-50%" y="-50%" width="200%" height="200%"><feGaussianBlur stdDeviation="0.90"/></filter>
<rect x="146.92" y="392.51" width="13.02" height="25.30" rx="2.00" fill="#66bfbb" filter="url(#f280)"/>
<filter id="f281" x="-50%" y="-50%" width="200%" height="200%"><feGaussianBlur stdDeviation="0.80"/></filter>
<rect x="147.12" y="393.96" width="12.64" height="22.41" rx="2.50" fill="#6fba31" filter="url(#f281)"/>
<filter id="f282" x="-50%" y="-50%" width="200%" height="200%"><feGaussianBlur stdDeviation="0.50"/></filter>
<polygon points="133.71,370.10 172.01,370.10 172.01,378.05 133.71,378.05" fill="#2662b7" filter="url(#f282)"/>
<filter id="f283" x="-50%" y="-50%" width="200%" height="200%"><feGaussianBlur stdDeviation="0.50"/></filter>
<polygon points="133.71,432.64 146.73,432.64 146.73,437.34 160.14,436.98 160.14,430.47 172.01,430.47 172.01,442.40 133.71,442.40" fill="#1f4fa7" filter="url(#f283)"/>
</g>
<text x="134.71" y="377.10" font-size="7.20" fill="#fff" font-weight="normal" text-anchor="start" >30.9&#176;C</text>
<text x="134.71" y="385.90" font-size="7.20" fill="#fff" font-weight="normal" text-anchor="start" >32 s</text>
<clipPath id="c284"><rect x="174.28" y="370.10" width="38.30" height="72.30"/></clipPath>
<g clip-path="url(#c284)">
<rect x="174.28" y="370.10" width="38.30" height="72.30" fill="#296cbf"/>
<filter id="f285" x="-50%" y="-50%" width="200%" height="200%"><feGaussianBlur stdDeviation="4.00"/></filter>
<rect x="178.11" y="377.33" width="32.17" height="56.39" rx="4.00" fill="#3080ce" filter="url(#f285)"/>
<filter id="f286" x="-50%" y="-50%" width="200%" height="200%"><feGaussianBlur stdDeviation="0.60"/></filter>
<polygon points="187.30,375.88 200.32,375.88 201.09,437.34 187.69,437.34" fill="#2e9cde" filter="url(#f286)"/>
<filter id="f287" x="-50%" y="-50%" width="200%" height="200%"><feGaussianBlur stdDeviation="1.50"/></filter>
<rect x="187.30" y="386.73" width="13.40" height="37.60" rx="2.00" fill="#42bbe3" filter="url(#f287)"/>
<filter id="f288" x="-50%" y="-50%" width="200%" height="200%"><feGaussianBlur stdDeviation="0.90"/></filter>
<rect x="187.49" y="392.51" width="13.02" height="25.30" rx="2.00" fill="#66bfbb" filter="url(#f288)"/>
<filter id="f289" x="-50%" y="-50%" width="200%" height="200%"><feGaussianBlur stdDeviation="0.80"/></filter>
<rect x="187.69" y="393.96" width="12.64" height="22.41" rx="2.50" fill="#6fba31" filter="url(#f289)"/>
<filter id="f290" x="-50%" y="-50%" width="200%" height="200%"><feGaussianBlur stdDeviation="0.90"/></filter>
<rect x="188.64" y="395.77" width="10.72" height="18.80" rx="2.00" fill="#b1d22a" filter="url(#f290)"/>
<filter id="f291" x="-50%" y="-50%" width="200%" height="200%"><feGaussianBlur stdDeviation="1.10"/></filter>
<rect x="189.98" y="397.57" width="8.04" height="15.18" rx="2.00" fill="#e2e127" filter="url(#f291)"/>
<filter id="f292" x="-50%" y="-50%" width="200%" height="200%"><feGaussianBlur stdDeviation="0.50"/></filter>
<polygon points="174.28,370.10 212.58,370.10 212.58,378.05 174.28,378.05" fill="#2662b7" filter="url(#f292)"/>
<filter id="f293" x="-50%" y="-50%" width="200%" height="200%"><feGaussianBlur stdDeviation="0.50"/></filter>
<polygon points="174.28,432.64 187.30,432.64 187.30,437.34 200.71,436.98 200.71,430.47 212.58,430.47 212.58,442.40 174.28,442.40" fill="#1f4fa7" filter="url(#f293)"/>
</g>
<text x="175.28" y="377.10" font-size="7.20" fill="#fff" font-weight="normal" text-anchor="start" >32.1&#176;C</text>
<text x="175.28" y="385.90" font-size="7.20" fill="#fff" font-weight="normal" text-anchor="start" >43 s</text>
<clipPath id="c294"><rect x="214.85" y="370.10" width="38.30" height="72.30"/></clipPath>
<g clip-path="url(#c294)">
<rect x="214.85" y="370.10" width="38.30" height="72.30" fill="#296cbf"/>
<filter id="f295" x="-50%" y="-50%" width="200%" height="200%"><feGaussianBlur stdDeviation="4.00"/></filter>
<rect x="218.68" y="377.33" width="32.17" height="56.39" rx="4.00" fill="#3080ce" filter="url(#f295)"/>
<filter id="f296" x="-50%" y="-50%" width="200%" height="200%"><feGaussianBlur stdDeviation="0.60"/></filter>
<polygon points="227.87,375.88 240.89,375.88 241.66,437.34 228.25,437.34" fill="#2e9cde" filter="url(#f296)"/>
<filter id="f297" x="-50%" y="-50%" width="200%" height="200%"><feGaussianBlur stdDeviation="1.50"/></filter>
<rect x="227.87" y="386.73" width="13.40" height="37.60" rx="2.00" fill="#42bbe3" filter="url(#f297)"/>
<filter id="f298" x="-50%" y="-50%" width="200%" height="200%"><feGaussianBlur stdDeviation="0.90"/></filter>
<rect x="228.06" y="392.51" width="13.02" height="25.30" rx="2.00" fill="#66bfbb" filter="url(#f298)"/>
<filter id="f299" x="-50%" y="-50%" width="200%" height="200%"><feGaussianBlur stdDeviation="0.80"/></filter>
<rect x="228.25" y="393.96" width="12.64" height="22.41" rx="2.50" fill="#6fba31" filter="url(#f299)"/>
<filter id="f300" x="-50%" y="-50%" width="200%" height="200%"><feGaussianBlur stdDeviation="0.90"/></filter>
<rect x="229.21" y="395.77" width="10.72" height="18.80" rx="2.00" fill="#d5dd28" filter="url(#f300)"/>
<filter id="f301" x="-50%" y="-50%" width="200%" height="200%"><feGaussianBlur stdDeviation="1.10"/></filter>
<rect x="230.55" y="397.57" width="8.04" height="15.18" rx="2.00" fill="#f2c923" filter="url(#f301)"/>
<filter id="f302" x="-50%" y="-50%" width="200%" height="200%"><feGaussianBlur stdDeviation="0.50"/></filter>
<polygon points="214.85,370.10 253.15,370.10 253.15,378.05 214.85,378.05" fill="#2662b7" filter="url(#f302)"/>
<filter id="f303" x="-50%" y="-50%" width="200%" height="200%"><feGaussianBlur stdDeviation="0.50"/></filter>
<polygon points="214.85,432.64 227.87,432.64 227.87,437.34 241.28,436.98 241.28,430.47 253.15,430.47 253.15,442.40 214.85,442.40" fill="#1f4fa7" filter="url(#f303)"/>
</g>
<text x="215.85" y="377.10" font-size="7.20" fill="#fff" font-weight="normal" text-anchor="start" >33.2&#176;C</text>
<text x="215.85" y="385.90" font-size="7.20" fill="#fff" font-weight="normal" text-anchor="start" >56 s</text>
<line x1="234.77" y1="378.10" x2="234.77" y2="438.90" stroke="#1a1a1a" stroke-width="0.8"/>
<text x="234.00" y="440.80" font-size="7.20" fill="#fff" font-weight="normal" text-anchor="middle" >Profile 2</text>
<clipPath id="c304"><rect x="255.42" y="370.10" width="38.30" height="72.30"/></clipPath>
<g clip-path="url(#c304)">
<rect x="255.42" y="370.10" width="38.30" height="72.30" fill="#296cbf"/>
<filter id="f305" x="-50%" y="-50%" width="200%" height="200%"><feGaussianBlur stdDeviation="2.00"/></filter>
<rect x="255.42" y="370.10" width="38.30" height="72.30" rx="0.00" fill="#2eb7eb" filter="url(#f305)"/>
<filter id="f306" x="-50%" y="-50%" width="200%" height="200%"><feGaussianBlur stdDeviation="2.50"/></filter>
<ellipse cx="274.95" cy="406.25" rx="16.09" ry="37.60" fill="#51bfdc" filter="url(#f306)"/>
<filter id="f307" x="-50%" y="-50%" width="200%" height="200%"><feGaussianBlur stdDeviation="1.80"/></filter>
<ellipse cx="274.95" cy="406.25" rx="13.79" ry="36.15" fill="#6fba31" filter="url(#f307)"/>
<filter id="f308" x="-50%" y="-50%" width="200%" height="200%"><feGaussianBlur stdDeviation="1.40"/></filter>
<ellipse cx="274.95" cy="406.25" rx="10.34" ry="33.26" fill="#68beb4" filter="url(#f308)"/>
<filter id="f309" x="-50%" y="-50%" width="200%" height="200%"><feGaussianBlur stdDeviation="1.00"/></filter>
<polygon points="268.06,378.78 267.62,385.64 267.25,392.51 267.00,399.38 266.91,406.25 267.00,413.12 267.25,419.99 267.62,426.86 268.06,433.72 281.85,433.72 282.29,426.86 282.66,419.99 282.91,413.12 283.00,406.25 282.91,399.38 282.66,392.51 282.29,385.64 281.85,378.78" fill="#a4ce2b" filter="url(#f309)"/>
<filter id="f310" x="-50%" y="-50%" width="200%" height="200%"><feGaussianBlur stdDeviation="1.00"/></filter>
<polygon points="268.63,381.67 268.19,387.81 267.82,393.96 267.57,400.10 267.48,406.25 267.57,412.40 267.82,418.54 268.19,424.69 268.63,430.83 281.27,430.83 281.71,424.69 282.08,418.54 282.33,412.40 282.42,406.25 282.33,400.10 282.08,393.96 281.71,387.81 281.27,381.67" fill="#f1ce23" filter="url(#f310)"/>
<filter id="f311" x="-50%" y="-50%" width="200%" height="200%"><feGaussianBlur stdDeviation="1.40"/></filter>
<ellipse cx="275.34" cy="408.42" rx="6.51" ry="18.80" fill="#ee711f" filter="url(#f311)"/>
<filter id="f312" x="-50%" y="-50%" width="200%" height="200%"><feGaussianBlur stdDeviation="1.20"/></filter>
<ellipse cx="275.34" cy="408.42" rx="5.55" ry="15.18" fill="#e42c21" filter="url(#f312)"/>
<filter id="f313" x="-50%" y="-50%" width="200%" height="200%"><feGaussianBlur stdDeviation="0.50"/></filter>
<polygon points="281.46,370.10 293.72,370.10 293.72,382.39 281.46,382.39" fill="#1d4ba3" filter="url(#f313)"/>
<filter id="f314" x="-50%" y="-50%" width="200%" height="200%"><feGaussianBlur stdDeviation="0.50"/></filter>
<polygon points="255.42,432.28 265.00,432.28 265.00,442.40 255.42,442.40" fill="#1d4ba3" filter="url(#f314)"/>
<filter id="f315" x="-50%" y="-50%" width="200%" height="200%"><feGaussianBlur stdDeviation="0.50"/></filter>
<polygon points="286.06,432.28 293.72,432.28 293.72,442.40 286.06,442.40" fill="#1d4ba3" filter="url(#f315)"/>
<filter id="f316" x="-50%" y="-50%" width="200%" height="200%"><feGaussianBlur stdDeviation="0.50"/></filter>
<polygon points="255.42,438.79 293.72,438.79 293.72,442.40 255.42,442.40" fill="#1d4ba3" filter="url(#f316)"/>
</g>
<text x="256.42" y="377.10" font-size="7.20" fill="#fff" font-weight="normal" text-anchor="start" >39.9&#176;C</text>
<text x="256.42" y="385.90" font-size="7.20" fill="#fff" font-weight="normal" text-anchor="start" >450 s</text>
<line x1="275.34" y1="378.10" x2="275.34" y2="438.90" stroke="#1a1a1a" stroke-width="0.8"/>
<text x="274.57" y="440.80" font-size="7.20" fill="#fff" font-weight="normal" text-anchor="middle" >Profile 3</text>
<linearGradient id="g317" x1="0" y1="1" x2="0" y2="0">
<stop offset="0.000" stop-color="#1a419a"/>
<stop offset="0.025" stop-color="#1b439c"/>
<stop offset="0.050" stop-color="#1b459e"/>
<stop offset="0.075" stop-color="#1c479f"/>
<stop offset="0.100" stop-color="#1d4ba3"/>
<stop offset="0.125" stop-color="#1f4fa7"/>
<stop offset="0.150" stop-color="#2257ae"/>
<stop offset="0.175" stop-color="#2767ba"/>
<stop offset="0.200" stop-color="#2d77c7"/>
<stop offset="0.225" stop-color="#3086d1"/>
<stop offset="0.250" stop-color="#2f94d9"/>
<stop offset="0.275" stop-color="#2da2e1"/>
<stop offset="0.300" stop-color="#2cb0e9"/>
<stop offset="0.325" stop-color="#33b8e9"/>
<stop offset="0.350" stop-color="#3fbae4"/>
<stop offset="0.375" stop-color="#4bbddf"/>
<stop offset="0.400" stop-color="#57c0da"/>
<stop offset="0.425" stop-color="#61c1d2"/>
<stop offset="0.450" stop-color="#65c0c1"/>
<stop offset="0.475" stop-color="#67bda6"/>
<stop offset="0.500" stop-color="#61b767"/>
<stop offset="0.525" stop-color="#60b433"/>
<stop offset="0.550" stop-color="#78be30"/>
<stop offset="0.575" stop-color="#90c72d"/>
<stop offset="0.600" stop-color="#aed12b"/>
<stop offset="0.625" stop-color="#ccda28"/>
<stop offset="0.650" stop-color="#eae426"/>
<stop offset="0.675" stop-color="#f0d925"/>
<stop offset="0.700" stop-color="#f2cb23"/>
<stop offset="0.725" stop-color="#f3bd21"/>
<stop offset="0.750" stop-color="#f5af20"/>
<stop offset="0.775" stop-color="#f49e20"/>
<stop offset="0.800" stop-color="#f28e1f"/>
<stop offset="0.825" stop-color="#f07b1f"/>
<stop offset="0.850" stop-color="#ed6720"/>
<stop offset="0.875" stop-color="#ea5220"/>
<stop offset="0.900" stop-color="#e74420"/>
<stop offset="0.925" stop-color="#e63b21"/>
<stop offset="0.950" stop-color="#e53321"/>
<stop offset="0.975" stop-color="#e32a22"/>
<stop offset="1.000" stop-color="#e22222"/>
</linearGradient>
<rect x="299.00" y="370.10" width="8.80" height="72.30" fill="url(#g317)"/>
<line x1="307.80" y1="387.60" x2="309.20" y2="387.60" stroke="#888" stroke-width="0.5"/>
<text x="309.50" y="390.10" font-size="6.90" fill="#444" font-weight="normal" text-anchor="start" >35.0 &#176;C</text>
<line x1="307.80" y1="404.50" x2="309.20" y2="404.50" stroke="#888" stroke-width="0.5"/>
<text x="309.50" y="407.00" font-size="6.90" fill="#444" font-weight="normal" text-anchor="start" >30.0 &#176;C</text>
<line x1="307.80" y1="421.60" x2="309.20" y2="421.60" stroke="#888" stroke-width="0.5"/>
<text x="309.50" y="424.10" font-size="6.90" fill="#444" font-weight="normal" text-anchor="start" >25.0 &#176;C</text>
<line x1="307.80" y1="439.10" x2="309.20" y2="439.10" stroke="#888" stroke-width="0.5"/>
<text x="309.50" y="441.60" font-size="6.90" fill="#444" font-weight="normal" text-anchor="start" >20.0 &#176;C</text>
<line x1="307.80" y1="379.00" x2="308.80" y2="379.00" stroke="#888" stroke-width="0.5"/>
<line x1="307.80" y1="396.00" x2="308.80" y2="396.00" stroke="#888" stroke-width="0.5"/>
<line x1="307.80" y1="413.00" x2="308.80" y2="413.00" stroke="#888" stroke-width="0.5"/>
<line x1="307.80" y1="430.30" x2="308.80" y2="430.30" stroke="#888" stroke-width="0.5"/>
<text x="341.60" y="373.40" font-size="10.00" fill="#111" font-weight="bold" text-anchor="start" >n</text>
<clipPath id="c318"><rect x="351.60" y="370.10" width="38.10" height="72.30"/></clipPath>
<g clip-path="url(#c318)">
<rect x="351.60" y="370.10" width="38.10" height="72.30" fill="#296cbf"/>
<filter id="f319" x="-50%" y="-50%" width="200%" height="200%"><feGaussianBlur stdDeviation="0.80"/></filter>
<rect x="364.55" y="378.78" width="12.57" height="58.56" rx="0.00" fill="#2b72c3" filter="url(#f319)"/>
<filter id="f320" x="-50%" y="-50%" width="200%" height="200%"><feGaussianBlur stdDeviation="0.50"/></filter>
<polygon points="351.60,370.10 389.70,370.10 389.70,373.35 351.60,373.35" fill="#2259af" filter="url(#f320)"/>
<filter id="f321" x="-50%" y="-50%" width="200%" height="200%"><feGaussianBlur stdDeviation="0.50"/></filter>
<polygon points="377.51,372.27 389.70,372.27 389.70,379.86 377.51,379.86" fill="#1d4ba3" filter="url(#f321)"/>
<filter id="f322" x="-50%" y="-50%" width="200%" height="200%"><feGaussianBlur stdDeviation="0.50"/></filter>
<polygon points="351.60,431.56 363.79,431.56 363.79,436.62 377.89,436.62 377.89,431.19 389.70,431.19 389.70,442.40 351.60,442.40" fill="#1d4ba3" filter="url(#f322)"/>
</g>
<text x="352.60" y="377.10" font-size="7.20" fill="#fff" font-weight="normal" text-anchor="start" >23.0&#176;C</text>
<text x="352.60" y="385.90" font-size="7.20" fill="#fff" font-weight="normal" text-anchor="start" >0 s</text>
<clipPath id="c323"><rect x="392.03" y="370.10" width="38.10" height="72.30"/></clipPath>
<g clip-path="url(#c323)">
<rect x="392.03" y="370.10" width="38.10" height="72.30" fill="#296cbf"/>
<filter id="f324" x="-50%" y="-50%" width="200%" height="200%"><feGaussianBlur stdDeviation="0.60"/></filter>
<polygon points="404.22,375.88 417.94,375.88 418.70,437.34 404.60,437.34" fill="#2f91d7" filter="url(#f324)"/>
<filter id="f325" x="-50%" y="-50%" width="200%" height="200%"><feGaussianBlur stdDeviation="1.00"/></filter>
<rect x="404.22" y="390.34" width="14.10" height="30.37" rx="1.00" fill="#38b9e7" filter="url(#f325)"/>
<filter id="f326" x="-50%" y="-50%" width="200%" height="200%"><feGaussianBlur stdDeviation="1.40"/></filter>
<rect x="404.98" y="394.68" width="12.57" height="21.69" rx="1.00" fill="#56c0da" filter="url(#f326)"/>
<filter id="f327" x="-50%" y="-50%" width="200%" height="200%"><feGaussianBlur stdDeviation="0.50"/></filter>
<polygon points="392.03,370.10 430.13,370.10 430.13,373.35 392.03,373.35" fill="#2259af" filter="url(#f327)"/>
<filter id="f328" x="-50%" y="-50%" width="200%" height="200%"><feGaussianBlur stdDeviation="0.50"/></filter>
<polygon points="417.94,372.27 430.13,372.27 430.13,379.86 417.94,379.86" fill="#2259af" filter="url(#f328)"/>
<filter id="f329" x="-50%" y="-50%" width="200%" height="200%"><feGaussianBlur stdDeviation="0.50"/></filter>
<polygon points="392.03,431.56 404.22,431.56 404.22,436.62 418.32,436.62 418.32,431.19 430.13,431.19 430.13,442.40 392.03,442.40" fill="#1d4ba3" filter="url(#f329)"/>
</g>
<text x="393.03" y="377.10" font-size="7.20" fill="#fff" font-weight="normal" text-anchor="start" >26.2&#176;C</text>
<text x="393.03" y="385.90" font-size="7.20" fill="#fff" font-weight="normal" text-anchor="start" >13 s</text>
<clipPath id="c330"><rect x="432.46" y="370.10" width="38.10" height="72.30"/></clipPath>
<g clip-path="url(#c330)">
<rect x="432.46" y="370.10" width="38.10" height="72.30" fill="#296cbf"/>
<filter id="f331" x="-50%" y="-50%" width="200%" height="200%"><feGaussianBlur stdDeviation="0.60"/></filter>
<polygon points="444.65,375.88 458.37,375.88 459.13,437.34 445.03,437.34" fill="#2f91d7" filter="url(#f331)"/>
<filter id="f332" x="-50%" y="-50%" width="200%" height="200%"><feGaussianBlur stdDeviation="1.50"/></filter>
<rect x="444.65" y="383.84" width="14.10" height="44.83" rx="2.00" fill="#42bbe3" filter="url(#f332)"/>
<filter id="f333" x="-50%" y="-50%" width="200%" height="200%"><feGaussianBlur stdDeviation="0.90"/></filter>
<rect x="444.84" y="389.62" width="13.72" height="32.53" rx="2.00" fill="#66bfbb" filter="url(#f333)"/>
<filter id="f334" x="-50%" y="-50%" width="200%" height="200%"><feGaussianBlur stdDeviation="0.80"/></filter>
<rect x="445.03" y="391.07" width="13.33" height="29.64" rx="2.50" fill="#6fba31" filter="url(#f334)"/>
<filter id="f335" x="-50%" y="-50%" width="200%" height="200%"><feGaussianBlur stdDeviation="0.50"/></filter>
<polygon points="432.46,370.10 470.56,370.10 470.56,373.35 432.46,373.35" fill="#2259af" filter="url(#f335)"/>
<filter id="f336" x="-50%" y="-50%" width="200%" height="200%"><feGaussianBlur stdDeviation="0.50"/></filter>
<polygon points="458.37,372.27 470.56,372.27 470.56,379.86 458.37,379.86" fill="#2259af" filter="url(#f336)"/>
<filter id="f337" x="-50%" y="-50%" width="200%" height="200%"><feGaussianBlur stdDeviation="0.50"/></filter>
<polygon points="432.46,431.56 444.65,431.56 444.65,436.62 458.75,436.62 458.75,431.19 470.56,431.19 470.56,442.40 432.46,442.40" fill="#1d4ba3" filter="url(#f337)"/>
</g>
<text x="433.46" y="377.10" font-size="7.20" fill="#fff" font-weight="normal" text-anchor="start" >28.6&#176;C</text>
<text x="433.46" y="385.90" font-size="7.20" fill="#fff" font-weight="normal" text-anchor="start" >25 s</text>
<clipPath id="c338"><rect x="472.89" y="370.10" width="38.10" height="72.30"/></clipPath>
<g clip-path="url(#c338)">
<rect x="472.89" y="370.10" width="38.10" height="72.30" fill="#296cbf"/>
<filter id="f339" x="-50%" y="-50%" width="200%" height="200%"><feGaussianBlur stdDeviation="4.00"/></filter>
<rect x="476.70" y="377.33" width="32.00" height="56.39" rx="4.00" fill="#3080ce" filter="url(#f339)"/>
<filter id="f340" x="-50%" y="-50%" width="200%" height="200%"><feGaussianBlur stdDeviation="0.60"/></filter>
<polygon points="485.08,375.88 498.80,375.88 499.56,437.34 485.46,437.34" fill="#2e9cde" filter="url(#f340)"/>
<filter id="f341" x="-50%" y="-50%" width="200%" height="200%"><feGaussianBlur stdDeviation="1.50"/></filter>
<rect x="485.08" y="383.84" width="14.10" height="44.83" rx="2.00" fill="#42bbe3" filter="url(#f341)"/>
<filter id="f342" x="-50%" y="-50%" width="200%" height="200%"><feGaussianBlur stdDeviation="0.90"/></filter>
<rect x="485.27" y="389.62" width="13.72" height="32.53" rx="2.00" fill="#66bfbb" filter="url(#f342)"/>
<filter id="f343" x="-50%" y="-50%" width="200%" height="200%"><feGaussianBlur stdDeviation="0.80"/></filter>
<rect x="485.46" y="391.07" width="13.33" height="29.64" rx="2.50" fill="#6fba31" filter="url(#f343)"/>
<filter id="f344" x="-50%" y="-50%" width="200%" height="200%"><feGaussianBlur stdDeviation="0.50"/></filter>
<polygon points="472.89,370.10 510.99,370.10 510.99,373.35 472.89,373.35" fill="#2259af" filter="url(#f344)"/>
<filter id="f345" x="-50%" y="-50%" width="200%" height="200%"><feGaussianBlur stdDeviation="0.50"/></filter>
<polygon points="498.80,372.27 510.99,372.27 510.99,379.86 498.80,379.86" fill="#2259af" filter="url(#f345)"/>
<filter id="f346" x="-50%" y="-50%" width="200%" height="200%"><feGaussianBlur stdDeviation="0.50"/></filter>
<polygon points="472.89,431.56 485.08,431.56 485.08,436.62 499.18,436.62 499.18,431.19 510.99,431.19 510.99,442.40 472.89,442.40" fill="#1d4ba3" filter="url(#f346)"/>
</g>
<text x="473.89" y="377.10" font-size="7.20" fill="#fff" font-weight="normal" text-anchor="start" >29.7&#176;C</text>
<text x="473.89" y="385.90" font-size="7.20" fill="#fff" font-weight="normal" text-anchor="start" >32 s</text>
<clipPath id="c347"><rect x="513.32" y="370.10" width="38.10" height="72.30"/></clipPath>
<g clip-path="url(#c347)">
<rect x="513.32" y="370.10" width="38.10" height="72.30" fill="#296cbf"/>
<filter id="f348" x="-50%" y="-50%" width="200%" height="200%"><feGaussianBlur stdDeviation="4.00"/></filter>
<rect x="517.13" y="377.33" width="32.00" height="56.39" rx="4.00" fill="#3080ce" filter="url(#f348)"/>
<filter id="f349" x="-50%" y="-50%" width="200%" height="200%"><feGaussianBlur stdDeviation="0.60"/></filter>
<polygon points="525.51,375.88 539.23,375.88 539.99,437.34 525.89,437.34" fill="#2e9cde" filter="url(#f349)"/>
<filter id="f350" x="-50%" y="-50%" width="200%" height="200%"><feGaussianBlur stdDeviation="1.50"/></filter>
<rect x="525.51" y="383.84" width="14.10" height="44.83" rx="2.00" fill="#42bbe3" filter="url(#f350)"/>
<filter id="f351" x="-50%" y="-50%" width="200%" height="200%"><feGaussianBlur stdDeviation="0.90"/></filter>
<rect x="525.70" y="389.62" width="13.72" height="32.53" rx="2.00" fill="#66bfbb" filter="url(#f351)"/>
<filter id="f352" x="-50%" y="-50%" width="200%" height="200%"><feGaussianBlur stdDeviation="0.80"/></filter>
<rect x="525.89" y="391.07" width="13.33" height="29.64" rx="2.50" fill="#6fba31" filter="url(#f352)"/>
<filter id="f353" x="-50%" y="-50%" width="200%" height="200%"><feGaussianBlur stdDeviation="0.70"/></filter>
<rect x="526.46" y="392.15" width="12.19" height="27.47" rx="2.00" fill="#92c82d" filter="url(#f353)"/>
<filter id="f354" x="-50%" y="-50%" width="200%" height="200%"><feGaussianBlur stdDeviation="0.80"/></filter>
<rect x="527.04" y="393.24" width="11.05" height="25.30" rx="2.00" fill="#a4ce2b" filter="url(#f354)"/>
<filter id="f355" x="-50%" y="-50%" width="200%" height="200%"><feGaussianBlur stdDeviation="0.50"/></filter>
<polygon points="513.32,370.10 551.42,370.10 551.42,373.35 513.32,373.35" fill="#2259af" filter="url(#f355)"/>
<filter id="f356" x="-50%" y="-50%" width="200%" height="200%"><feGaussianBlur stdDeviation="0.50"/></filter>
<polygon points="539.23,372.27 551.42,372.27 551.42,379.86 539.23,379.86" fill="#2259af" filter="url(#f356)"/>
<filter id="f357" x="-50%" y="-50%" width="200%" height="200%"><feGaussianBlur stdDeviation="0.50"/></filter>
<polygon points="513.32,431.56 525.51,431.56 525.51,436.62 539.61,436.62 539.61,431.19 551.42,431.19 551.42,442.40 513.32,442.40" fill="#1d4ba3" filter="url(#f357)"/>
</g>
<text x="514.32" y="377.10" font-size="7.20" fill="#fff" font-weight="normal" text-anchor="start" >20.6&#176;C</text>
<text x="514.32" y="385.90" font-size="7.20" fill="#fff" font-weight="normal" text-anchor="start" >42 s</text>
<clipPath id="c358"><rect x="553.75" y="370.10" width="38.10" height="72.30"/></clipPath>
<g clip-path="url(#c358)">
<rect x="553.75" y="370.10" width="38.10" height="72.30" fill="#296cbf"/>
<filter id="f359" x="-50%" y="-50%" width="200%" height="200%"><feGaussianBlur stdDeviation="4.00"/></filter>
<rect x="557.56" y="377.33" width="32.00" height="56.39" rx="4.00" fill="#3080ce" filter="url(#f359)"/>
<filter id="f360" x="-50%" y="-50%" width="200%" height="200%"><feGaussianBlur stdDeviation="0.60"/></filter>
<polygon points="565.94,375.88 579.66,375.88 580.42,437.34 566.32,437.34" fill="#2e9cde" filter="url(#f360)"/>
<filter id="f361" x="-50%" y="-50%" width="200%" height="200%"><feGaussianBlur stdDeviation="1.50"/></filter>
<rect x="565.94" y="383.84" width="14.10" height="44.83" rx="2.00" fill="#42bbe3" filter="url(#f361)"/>
<filter id="f362" x="-50%" y="-50%" width="200%" height="200%"><feGaussianBlur stdDeviation="0.90"/></filter>
<rect x="566.13" y="389.62" width="13.72" height="32.53" rx="2.00" fill="#66bfbb" filter="url(#f362)"/>
<filter id="f363" x="-50%" y="-50%" width="200%" height="200%"><feGaussianBlur stdDeviation="0.80"/></filter>
<rect x="566.32" y="391.07" width="13.33" height="29.64" rx="2.50" fill="#6fba31" filter="url(#f363)"/>
<filter id="f364" x="-50%" y="-50%" width="200%" height="200%"><feGaussianBlur stdDeviation="0.70"/></filter>
<rect x="566.89" y="392.15" width="12.19" height="27.47" rx="2.00" fill="#c0d629" filter="url(#f364)"/>
<filter id="f365" x="-50%" y="-50%" width="200%" height="200%"><feGaussianBlur stdDeviation="0.80"/></filter>
<rect x="567.47" y="393.24" width="11.05" height="25.30" rx="2.00" fill="#efdc25" filter="url(#f365)"/>
<filter id="f366" x="-50%" y="-50%" width="200%" height="200%"><feGaussianBlur stdDeviation="0.50"/></filter>
<polygon points="553.75,370.10 591.85,370.10 591.85,373.35 553.75,373.35" fill="#2259af" filter="url(#f366)"/>
<filter id="f367" x="-50%" y="-50%" width="200%" height="200%"><feGaussianBlur stdDeviation="0.50"/></filter>
<polygon points="579.66,372.27 591.85,372.27 591.85,379.86 579.66,379.86" fill="#2259af" filter="url(#f367)"/>
<filter id="f368" x="-50%" y="-50%" width="200%" height="200%"><feGaussianBlur stdDeviation="0.50"/></filter>
<polygon points="553.75,431.56 565.94,431.56 565.94,436.62 580.04,436.62 580.04,431.19 591.85,431.19 591.85,442.40 553.75,442.40" fill="#1d4ba3" filter="url(#f368)"/>
</g>
<text x="554.75" y="377.10" font-size="7.20" fill="#fff" font-weight="normal" text-anchor="start" >32.2&#176;C</text>
<text x="554.75" y="385.90" font-size="7.20" fill="#fff" font-weight="normal" text-anchor="start" >58 s</text>
<line x1="573.56" y1="378.10" x2="573.56" y2="438.90" stroke="#1a1a1a" stroke-width="0.8"/>
<text x="572.80" y="440.80" font-size="7.20" fill="#fff" font-weight="normal" text-anchor="middle" >Profile 4</text>
<clipPath id="c369"><rect x="594.18" y="370.10" width="38.10" height="72.30"/></clipPath>
<g clip-path="url(#c369)">
<rect x="594.18" y="370.10" width="38.10" height="72.30" fill="#296cbf"/>
<filter id="f370" x="-50%" y="-50%" width="200%" height="200%"><feGaussianBlur stdDeviation="2.00"/></filter>
<rect x="594.18" y="370.10" width="38.10" height="72.30" rx="0.00" fill="#2eb7eb" filter="url(#f370)"/>
<filter id="f371" x="-50%" y="-50%" width="200%" height="200%"><feGaussianBlur stdDeviation="2.50"/></filter>
<ellipse cx="613.61" cy="406.25" rx="16.00" ry="37.60" fill="#51bfdc" filter="url(#f371)"/>
<filter id="f372" x="-50%" y="-50%" width="200%" height="200%"><feGaussianBlur stdDeviation="1.80"/></filter>
<ellipse cx="613.61" cy="406.25" rx="13.72" ry="36.15" fill="#6fba31" filter="url(#f372)"/>
<filter id="f373" x="-50%" y="-50%" width="200%" height="200%"><feGaussianBlur stdDeviation="1.40"/></filter>
<ellipse cx="613.61" cy="406.25" rx="10.29" ry="33.26" fill="#68beb4" filter="url(#f373)"/>
<filter id="f374" x="-50%" y="-50%" width="200%" height="200%"><feGaussianBlur stdDeviation="0.90"/></filter>
<polygon points="605.99,377.33 605.70,384.56 605.45,391.79 605.29,399.02 605.23,406.25 605.29,413.48 605.45,420.71 605.70,427.94 605.99,435.17 620.85,435.17 621.14,427.94 621.39,420.71 621.55,413.48 621.61,406.25 621.55,399.02 621.39,391.79 621.14,384.56 620.85,377.33" fill="#bdd62a" filter="url(#f374)"/>
<filter id="f375" x="-50%" y="-50%" width="200%" height="200%"><feGaussianBlur stdDeviation="1.00"/></filter>
<polygon points="606.75,383.11 606.46,389.26 606.21,395.41 606.05,401.55 605.99,407.70 606.05,413.84 606.21,419.99 606.46,426.13 606.75,432.28 620.09,432.28 620.38,426.13 620.63,419.99 620.79,413.84 620.85,407.70 620.79,401.55 620.63,395.41 620.38,389.26 620.09,383.11" fill="#f49e20" filter="url(#f375)"/>
<filter id="f376" x="-50%" y="-50%" width="200%" height="200%"><feGaussianBlur stdDeviation="1.40"/></filter>
<rect x="607.90" y="390.34" width="11.43" height="37.60" rx="3.00" fill="#e42c21" filter="url(#f376)"/>
<filter id="f377" x="-50%" y="-50%" width="200%" height="200%"><feGaussianBlur stdDeviation="0.50"/></filter>
<polygon points="620.09,370.10 632.28,370.10 632.28,382.39 620.09,382.39" fill="#1d4ba3" filter="url(#f377)"/>
<filter id="f378" x="-50%" y="-50%" width="200%" height="200%"><feGaussianBlur stdDeviation="0.50"/></filter>
<polygon points="594.18,432.28 603.71,432.28 603.71,442.40 594.18,442.40" fill="#1d4ba3" filter="url(#f378)"/>
<filter id="f379" x="-50%" y="-50%" width="200%" height="200%"><feGaussianBlur stdDeviation="0.50"/></filter>
<polygon points="624.66,432.28 632.28,432.28 632.28,442.40 624.66,442.40" fill="#1d4ba3" filter="url(#f379)"/>
<filter id="f380" x="-50%" y="-50%" width="200%" height="200%"><feGaussianBlur stdDeviation="0.50"/></filter>
<polygon points="594.18,438.79 632.28,438.79 632.28,442.40 594.18,442.40" fill="#1d4ba3" filter="url(#f380)"/>
</g>
<text x="595.18" y="377.10" font-size="7.20" fill="#fff" font-weight="normal" text-anchor="start" >38.4&#176;C</text>
<text x="595.18" y="385.90" font-size="7.20" fill="#fff" font-weight="normal" text-anchor="start" >450 s</text>
<line x1="613.99" y1="378.10" x2="613.99" y2="438.90" stroke="#1a1a1a" stroke-width="0.8"/>
<text x="613.23" y="440.80" font-size="7.20" fill="#fff" font-weight="normal" text-anchor="middle" >Profile 5</text>
<linearGradient id="g381" x1="0" y1="1" x2="0" y2="0">
<stop offset="0.000" stop-color="#1a419a"/>
<stop offset="0.025" stop-color="#1b439c"/>
<stop offset="0.050" stop-color="#1b459e"/>
<stop offset="0.075" stop-color="#1c479f"/>
<stop offset="0.100" stop-color="#1d4ba3"/>
<stop offset="0.125" stop-color="#1f4fa7"/>
<stop offset="0.150" stop-color="#2257ae"/>
<stop offset="0.175" stop-color="#2767ba"/>
<stop offset="0.200" stop-color="#2d77c7"/>
<stop offset="0.225" stop-color="#3086d1"/>
<stop offset="0.250" stop-color="#2f94d9"/>
<stop offset="0.275" stop-color="#2da2e1"/>
<stop offset="0.300" stop-color="#2cb0e9"/>
<stop offset="0.325" stop-color="#33b8e9"/>
<stop offset="0.350" stop-color="#3fbae4"/>
<stop offset="0.375" stop-color="#4bbddf"/>
<stop offset="0.400" stop-color="#57c0da"/>
<stop offset="0.425" stop-color="#61c1d2"/>
<stop offset="0.450" stop-color="#65c0c1"/>
<stop offset="0.475" stop-color="#67bda6"/>
<stop offset="0.500" stop-color="#61b767"/>
<stop offset="0.525" stop-color="#60b433"/>
<stop offset="0.550" stop-color="#78be30"/>
<stop offset="0.575" stop-color="#90c72d"/>
<stop offset="0.600" stop-color="#aed12b"/>
<stop offset="0.625" stop-color="#ccda28"/>
<stop offset="0.650" stop-color="#eae426"/>
<stop offset="0.675" stop-color="#f0d925"/>
<stop offset="0.700" stop-color="#f2cb23"/>
<stop offset="0.725" stop-color="#f3bd21"/>
<stop offset="0.750" stop-color="#f5af20"/>
<stop offset="0.775" stop-color="#f49e20"/>
<stop offset="0.800" stop-color="#f28e1f"/>
<stop offset="0.825" stop-color="#f07b1f"/>
<stop offset="0.850" stop-color="#ed6720"/>
<stop offset="0.875" stop-color="#ea5220"/>
<stop offset="0.900" stop-color="#e74420"/>
<stop offset="0.925" stop-color="#e63b21"/>
<stop offset="0.950" stop-color="#e53321"/>
<stop offset="0.975" stop-color="#e32a22"/>
<stop offset="1.000" stop-color="#e22222"/>
</linearGradient>
<rect x="638.20" y="370.10" width="8.80" height="72.30" fill="url(#g381)"/>
<line x1="647.00" y1="387.60" x2="648.40" y2="387.60" stroke="#888" stroke-width="0.5"/>
<text x="648.70" y="390.10" font-size="6.90" fill="#444" font-weight="normal" text-anchor="start" >35.0 &#176;C</text>
<line x1="647.00" y1="404.50" x2="648.40" y2="404.50" stroke="#888" stroke-width="0.5"/>
<text x="648.70" y="407.00" font-size="6.90" fill="#444" font-weight="normal" text-anchor="start" >30.0 &#176;C</text>
<line x1="647.00" y1="421.60" x2="648.40" y2="421.60" stroke="#888" stroke-width="0.5"/>
<text x="648.70" y="424.10" font-size="6.90" fill="#444" font-weight="normal" text-anchor="start" >25.0 &#176;C</text>
<line x1="647.00" y1="439.10" x2="648.40" y2="439.10" stroke="#888" stroke-width="0.5"/>
<text x="648.70" y="441.60" font-size="6.90" fill="#444" font-weight="normal" text-anchor="start" >20.0 &#176;C</text>
<line x1="647.00" y1="379.00" x2="648.00" y2="379.00" stroke="#888" stroke-width="0.5"/>
<line x1="647.00" y1="396.00" x2="648.00" y2="396.00" stroke="#888" stroke-width="0.5"/>
<line x1="647.00" y1="413.00" x2="648.00" y2="413.00" stroke="#888" stroke-width="0.5"/>
<line x1="647.00" y1="430.30" x2="648.00" y2="430.30" stroke="#888" stroke-width="0.5"/>
<rect x="11.9" y="447.6" width="660.6" height="156" fill="#eef3fb"/>
<text x="51.00" y="457.60" font-size="9.00" fill="#111" font-weight="bold" text-anchor="start" >o</text>
<rect x="76.40" y="455.30" width="159.30" height="121.00" fill="none" stroke="#333" stroke-width="0.9"/>
<line x1="74.40" y1="574.70" x2="76.40" y2="574.70" stroke="#333" stroke-width="0.7"/>
<text x="72.70" y="577.55" font-size="7.90" fill="#111" font-weight="bold" text-anchor="end" textLength="4.13" lengthAdjust="spacingAndGlyphs">0</text>
<line x1="74.40" y1="550.80" x2="76.40" y2="550.80" stroke="#333" stroke-width="0.7"/>
<text x="72.70" y="553.65" font-size="7.90" fill="#111" font-weight="bold" text-anchor="end" textLength="8.26" lengthAdjust="spacingAndGlyphs">20</text>
<line x1="74.40" y1="526.90" x2="76.40" y2="526.90" stroke="#333" stroke-width="0.7"/>
<text x="72.70" y="529.75" font-size="7.90" fill="#111" font-weight="bold" text-anchor="end" textLength="8.26" lengthAdjust="spacingAndGlyphs">40</text>
<line x1="74.40" y1="503.00" x2="76.40" y2="503.00" stroke="#333" stroke-width="0.7"/>
<text x="72.70" y="505.85" font-size="7.90" fill="#111" font-weight="bold" text-anchor="end" textLength="8.26" lengthAdjust="spacingAndGlyphs">60</text>
<line x1="74.40" y1="479.10" x2="76.40" y2="479.10" stroke="#333" stroke-width="0.7"/>
<text x="72.70" y="481.95" font-size="7.90" fill="#111" font-weight="bold" text-anchor="end" textLength="8.26" lengthAdjust="spacingAndGlyphs">80</text>
<line x1="74.40" y1="455.20" x2="76.40" y2="455.20" stroke="#333" stroke-width="0.7"/>
<text x="72.70" y="458.05" font-size="7.90" fill="#111" font-weight="bold" text-anchor="end" textLength="12.39" lengthAdjust="spacingAndGlyphs">100</text>
<line x1="75.20" y1="562.75" x2="76.40" y2="562.75" stroke="#333" stroke-width="0.6"/>
<line x1="75.20" y1="538.85" x2="76.40" y2="538.85" stroke="#333" stroke-width="0.6"/>
<line x1="75.20" y1="514.95" x2="76.40" y2="514.95" stroke="#333" stroke-width="0.6"/>
<line x1="75.20" y1="491.05" x2="76.40" y2="491.05" stroke="#333" stroke-width="0.6"/>
<line x1="75.20" y1="467.15" x2="76.40" y2="467.15" stroke="#333" stroke-width="0.6"/>
<line x1="76.40" y1="576.30" x2="76.40" y2="578.30" stroke="#333" stroke-width="0.7"/>
<text x="76.40" y="586.20" font-size="7.90" fill="#111" font-weight="bold" text-anchor="middle" textLength="10.32" lengthAdjust="spacingAndGlyphs">0.0</text>
<line x1="135.40" y1="576.30" x2="135.40" y2="578.30" stroke="#333" stroke-width="0.7"/>
<text x="135.40" y="586.20" font-size="7.90" fill="#111" font-weight="bold" text-anchor="middle" textLength="10.32" lengthAdjust="spacingAndGlyphs">0.1</text>
<line x1="194.40" y1="576.30" x2="194.40" y2="578.30" stroke="#333" stroke-width="0.7"/>
<text x="194.40" y="586.20" font-size="7.90" fill="#111" font-weight="bold" text-anchor="middle" textLength="10.32" lengthAdjust="spacingAndGlyphs">0.2</text>
<line x1="105.90" y1="576.30" x2="105.90" y2="577.50" stroke="#333" stroke-width="0.6"/>
<line x1="164.90" y1="576.30" x2="164.90" y2="577.50" stroke="#333" stroke-width="0.6"/>
<line x1="223.90" y1="576.30" x2="223.90" y2="577.50" stroke="#333" stroke-width="0.6"/>
<text x="156.00" y="596.40" font-size="7.60" fill="#111" font-weight="bold" text-anchor="middle" >Overpotential (V)</text>
<text x="0.00" y="0.00" font-size="7.60" fill="#111" font-weight="bold" text-anchor="middle" transform="translate(57.0,515.8) rotate(-90)">Current density (mA cm<tspan font-size="5" dy="-2.6">-2</tspan><tspan dy="2.6">)</tspan></text>
<path d="M76.40,574.34 C76.62,574.34 77.29,574.34 77.73,574.34 C78.17,574.34 78.61,574.34 79.06,574.34 C79.50,574.34 79.94,574.34 80.38,574.34 C80.83,574.34 81.27,574.34 81.71,574.34 C82.15,574.34 82.60,574.34 83.04,574.34 C83.48,574.34 83.92,574.34 84.37,574.34 C84.81,574.34 85.25,574.34 85.69,574.34 C86.14,574.34 86.58,574.34 87.02,574.34 C87.46,574.34 87.91,574.34 88.35,574.34 C88.79,574.34 89.23,574.34 89.68,574.34 C90.12,574.34 90.56,574.34 91.00,574.34 C91.44,574.34 91.89,574.33 92.33,574.33 C92.77,574.33 93.22,574.33 93.66,574.33 C94.10,574.33 94.54,574.33 94.99,574.33 C95.43,574.33 95.87,574.33 96.31,574.33 C96.76,574.33 97.20,574.32 97.64,574.32 C98.08,574.32 98.53,574.32 98.97,574.32 C99.41,574.32 99.85,574.32 100.30,574.32 C100.74,574.31 101.18,574.31 101.62,574.31 C102.06,574.31 102.51,574.31 102.95,574.31 C103.39,574.30 103.84,574.30 104.28,574.30 C104.72,574.30 105.16,574.30 105.61,574.29 C106.05,574.29 106.49,574.29 106.93,574.29 C107.38,574.29 107.82,574.28 108.26,574.28 C108.70,574.28 109.15,574.28 109.59,574.27 C110.03,574.27 110.47,574.27 110.92,574.26 C111.36,574.26 111.80,574.26 112.24,574.25 C112.69,574.25 113.13,574.25 113.57,574.24 C114.01,574.24 114.46,574.24 114.90,574.23 C115.34,574.23 115.78,574.23 116.23,574.22 C116.67,574.22 117.11,574.21 117.55,574.21 C118.00,574.21 118.44,574.20 118.88,574.20 C119.32,574.19 119.77,574.19 120.21,574.18 C120.65,574.18 121.09,574.17 121.53,574.17 C121.98,574.16 122.42,574.16 122.86,574.15 C123.31,574.15 123.75,574.14 124.19,574.14 C124.63,574.13 125.08,574.12 125.52,574.12 C125.96,574.11 126.40,574.11 126.84,574.10 C127.29,574.09 127.73,574.09 128.17,574.08 C128.62,574.07 129.06,574.07 129.50,574.06 C129.94,574.05 130.39,574.04 130.83,574.04 C131.27,574.03 131.71,574.02 132.16,574.01 C132.60,574.01 133.04,574.00 133.48,573.99 C133.93,573.98 134.37,573.97 134.81,573.96 C135.25,573.96 135.69,573.95 136.14,573.94 C136.58,573.93 137.02,573.92 137.47,573.91 C137.91,573.90 138.35,573.89 138.79,573.88 C139.24,573.87 139.68,573.86 140.12,573.85 C140.56,573.84 141.00,573.83 141.45,573.82 C141.89,573.81 142.33,573.80 142.78,573.79 C143.22,573.78 143.66,573.77 144.10,573.75 C144.55,573.74 144.99,573.73 145.43,573.72 C145.87,573.71 146.31,573.70 146.76,573.68 C147.20,573.67 147.64,573.66 148.09,573.64 C148.53,573.63 148.97,573.62 149.41,573.61 C149.86,573.59 150.30,573.58 150.74,573.56 C151.18,573.55 151.62,573.54 152.07,573.52 C152.51,573.51 152.95,573.49 153.39,573.48 C153.84,573.46 154.28,573.45 154.72,573.43 C155.16,573.42 155.61,573.40 156.05,573.39 C156.49,573.37 156.94,573.35 157.38,573.34 C157.82,573.32 158.26,573.30 158.71,573.29 C159.15,573.27 159.59,573.25 160.03,573.24 C160.47,573.22 160.92,573.20 161.36,573.18 C161.80,573.16 162.25,573.15 162.69,573.13 C163.13,573.11 163.57,573.09 164.01,573.07 C164.46,573.05 164.90,573.03 165.34,573.01 C165.78,572.99 166.23,572.97 166.67,572.95 C167.11,572.93 167.56,572.91 168.00,572.89 C168.44,572.87 168.88,572.85 169.33,572.82 C169.77,572.80 170.21,572.78 170.65,572.76 C171.09,572.74 171.54,572.71 171.98,572.69 C172.42,572.67 172.87,572.64 173.31,572.62 C173.75,572.60 174.19,572.57 174.63,572.55 C175.08,572.52 175.52,572.50 175.96,572.47 C176.41,572.45 176.85,572.42 177.29,572.40 C177.73,572.37 178.18,572.35 178.62,572.32 C179.06,572.29 179.50,572.27 179.94,572.24 C180.39,572.21 180.83,572.19 181.27,572.16 C181.72,572.13 182.16,572.10 182.60,572.07 C183.04,572.04 183.49,572.02 183.93,571.99 C184.37,571.95 184.81,571.93 185.25,571.89 C185.70,571.85 186.14,571.82 186.58,571.77 C187.02,571.73 187.47,571.68 187.91,571.61 C188.35,571.54 188.80,571.46 189.24,571.38 C189.68,571.29 190.12,571.18 190.57,571.09 C191.01,571.00 191.45,570.90 191.89,570.84 C192.34,570.78 192.78,570.66 193.22,570.72 C193.66,570.79 194.11,571.13 194.55,571.21 C194.99,571.30 195.43,571.23 195.88,571.24 C196.32,571.25 196.76,571.26 197.20,571.27 C197.64,571.28 198.09,571.29 198.53,571.30 C198.97,571.30 199.42,571.31 199.86,571.32 C200.30,571.32 200.74,571.33 201.19,571.34 C201.63,571.34 202.07,571.35 202.51,571.35 C202.96,571.35 203.40,571.35 203.84,571.35 C204.28,571.35 204.72,571.35 205.17,571.35 C205.61,571.35 206.05,571.34 206.50,571.34 C206.94,571.33 207.38,571.32 207.82,571.31 C208.27,571.29 208.71,571.28 209.15,571.26 C209.59,571.24 210.04,571.21 210.48,571.19 C210.92,571.16 211.36,571.12 211.81,571.08 C212.25,571.04 212.69,571.00 213.13,570.94 C213.57,570.89 214.02,570.83 214.46,570.75 C214.90,570.68 215.34,570.60 215.79,570.50 C216.23,570.40 216.67,570.29 217.12,570.17 C217.56,570.04 218.00,569.90 218.44,569.73 C218.88,569.56 219.33,569.38 219.77,569.16 C220.21,568.94 220.66,568.70 221.10,568.42 C221.54,568.14 221.98,567.83 222.43,567.47 C222.87,567.11 223.31,566.72 223.75,566.25 C224.19,565.77 224.64,565.25 225.08,564.64 C225.52,564.03 225.97,563.36 226.41,562.58 C226.85,561.80 227.29,560.95 227.74,559.95 C228.18,558.95 228.62,557.87 229.06,556.59 C229.50,555.32 229.95,553.93 230.39,552.30 C230.83,550.68 231.28,548.90 231.72,546.83 C232.16,544.75 232.60,542.49 233.04,539.83 C233.49,537.18 233.93,534.29 234.37,530.90 C234.82,527.51 235.48,521.39 235.70,519.49" fill="none" stroke="#6a5acd" stroke-width="0.75"/>
<path d="M76.40,574.34 C76.62,574.34 77.29,574.34 77.73,574.34 C78.17,574.34 78.61,574.34 79.06,574.34 C79.50,574.34 79.94,574.34 80.38,574.34 C80.83,574.34 81.27,574.34 81.71,574.34 C82.15,574.34 82.60,574.34 83.04,574.34 C83.48,574.34 83.92,574.34 84.37,574.34 C84.81,574.34 85.25,574.34 85.69,574.34 C86.14,574.34 86.58,574.34 87.02,574.34 C87.46,574.34 87.91,574.34 88.35,574.34 C88.79,574.34 89.23,574.34 89.68,574.34 C90.12,574.34 90.56,574.34 91.00,574.34 C91.44,574.34 91.89,574.33 92.33,574.33 C92.77,574.33 93.22,574.33 93.66,574.33 C94.10,574.33 94.54,574.33 94.99,574.33 C95.43,574.33 95.87,574.33 96.31,574.33 C96.76,574.33 97.20,574.32 97.64,574.32 C98.08,574.32 98.53,574.32 98.97,574.32 C99.41,574.32 99.85,574.32 100.30,574.32 C100.74,574.31 101.18,574.31 101.62,574.31 C102.06,574.31 102.51,574.31 102.95,574.31 C103.39,574.30 103.84,574.30 104.28,574.30 C104.72,574.30 105.16,574.30 105.61,574.29 C106.05,574.29 106.49,574.29 106.93,574.29 C107.38,574.29 107.82,574.28 108.26,574.28 C108.70,574.28 109.15,574.28 109.59,574.27 C110.03,574.27 110.47,574.27 110.92,574.26 C111.36,574.26 111.80,574.26 112.24,574.25 C112.69,574.25 113.13,574.25 113.57,574.24 C114.01,574.24 114.46,574.24 114.90,574.23 C115.34,574.23 115.78,574.23 116.23,574.22 C116.67,574.22 117.11,574.21 117.55,574.21 C118.00,574.21 118.44,574.20 118.88,574.20 C119.32,574.19 119.77,574.19 120.21,574.18 C120.65,574.18 121.09,574.17 121.53,574.17 C121.98,574.16 122.42,574.16 122.86,574.15 C123.31,574.15 123.75,574.14 124.19,574.14 C124.63,574.13 125.08,574.12 125.52,574.12 C125.96,574.11 126.40,574.11 126.84,574.10 C127.29,574.09 127.73,574.09 128.17,574.08 C128.62,574.07 129.06,574.07 129.50,574.06 C129.94,574.05 130.39,574.04 130.83,574.04 C131.27,574.03 131.71,574.02 132.16,574.01 C132.60,574.01 133.04,574.00 133.48,573.99 C133.93,573.98 134.37,573.97 134.81,573.96 C135.25,573.96 135.69,573.95 136.14,573.94 C136.58,573.93 137.02,573.92 137.47,573.91 C137.91,573.90 138.35,573.89 138.79,573.88 C139.24,573.87 139.68,573.86 140.12,573.85 C140.56,573.84 141.00,573.83 141.45,573.82 C141.89,573.81 142.33,573.80 142.78,573.79 C143.22,573.78 143.66,573.77 144.10,573.75 C144.55,573.74 144.99,573.73 145.43,573.72 C145.87,573.71 146.31,573.70 146.76,573.68 C147.20,573.67 147.64,573.66 148.09,573.64 C148.53,573.63 148.97,573.62 149.41,573.61 C149.86,573.59 150.30,573.58 150.74,573.56 C151.18,573.55 151.62,573.54 152.07,573.52 C152.51,573.51 152.95,573.49 153.39,573.48 C153.84,573.46 154.28,573.45 154.72,573.43 C155.16,573.42 155.61,573.40 156.05,573.39 C156.49,573.37 156.94,573.35 157.38,573.34 C157.82,573.32 158.26,573.30 158.71,573.29 C159.15,573.27 159.59,573.25 160.03,573.24 C160.47,573.22 160.92,573.20 161.36,573.18 C161.80,573.16 162.25,573.15 162.69,573.13 C163.13,573.11 163.57,573.09 164.01,573.07 C164.46,573.05 164.90,573.03 165.34,573.01 C165.78,572.99 166.23,572.97 166.67,572.95 C167.11,572.93 167.56,572.91 168.00,572.89 C168.44,572.87 168.88,572.85 169.33,572.82 C169.77,572.80 170.21,572.78 170.65,572.76 C171.09,572.73 171.54,572.71 171.98,572.69 C172.42,572.67 172.87,572.64 173.31,572.62 C173.75,572.60 174.19,572.57 174.63,572.55 C175.08,572.52 175.52,572.50 175.96,572.47 C176.41,572.45 176.85,572.42 177.29,572.40 C177.73,572.37 178.18,572.34 178.62,572.32 C179.06,572.29 179.50,572.26 179.94,572.24 C180.39,572.21 180.83,572.18 181.27,572.15 C181.72,572.13 182.16,572.10 182.60,572.07 C183.04,572.04 183.49,572.01 183.93,571.98 C184.37,571.95 184.81,571.92 185.25,571.88 C185.70,571.85 186.14,571.81 186.58,571.76 C187.02,571.72 187.47,571.67 187.91,571.60 C188.35,571.53 188.80,571.45 189.24,571.36 C189.68,571.28 190.12,571.16 190.57,571.07 C191.01,570.98 191.45,570.88 191.89,570.82 C192.34,570.76 192.78,570.64 193.22,570.70 C193.66,570.76 194.11,571.10 194.55,571.18 C194.99,571.27 195.43,571.20 195.88,571.20 C196.32,571.21 196.76,571.22 197.20,571.22 C197.64,571.23 198.09,571.24 198.53,571.24 C198.97,571.24 199.42,571.25 199.86,571.25 C200.30,571.25 200.74,571.25 201.19,571.25 C201.63,571.25 202.07,571.25 202.51,571.24 C202.96,571.24 203.40,571.24 203.84,571.23 C204.28,571.22 204.72,571.21 205.17,571.20 C205.61,571.18 206.05,571.17 206.50,571.15 C206.94,571.13 207.38,571.10 207.82,571.07 C208.27,571.05 208.71,571.01 209.15,570.98 C209.59,570.94 210.04,570.89 210.48,570.84 C210.92,570.79 211.36,570.73 211.81,570.67 C212.25,570.60 212.69,570.52 213.13,570.44 C213.57,570.35 214.02,570.25 214.46,570.14 C214.90,570.02 215.34,569.90 215.79,569.76 C216.23,569.61 216.67,569.45 217.12,569.27 C217.56,569.08 218.00,568.88 218.44,568.65 C218.88,568.41 219.33,568.16 219.77,567.86 C220.21,567.56 220.66,567.24 221.10,566.86 C221.54,566.49 221.98,566.08 222.43,565.61 C222.87,565.13 223.31,564.62 223.75,564.02 C224.19,563.42 224.64,562.76 225.08,562.00 C225.52,561.24 225.97,560.41 226.41,559.45 C226.85,558.50 227.29,557.47 227.74,556.27 C228.18,555.08 228.62,553.78 229.06,552.29 C229.50,550.79 229.95,549.17 230.39,547.29 C230.83,545.42 231.28,543.39 231.72,541.04 C232.16,538.69 232.60,536.15 233.04,533.21 C233.49,530.27 233.93,527.09 234.37,523.41 C234.82,519.72 235.48,513.17 235.70,511.13" fill="none" stroke="#4a90d0" stroke-width="0.75"/>
<path d="M76.40,574.34 C76.62,574.34 77.29,574.34 77.73,574.34 C78.17,574.34 78.61,574.34 79.06,574.34 C79.50,574.34 79.94,574.34 80.38,574.34 C80.83,574.34 81.27,574.34 81.71,574.34 C82.15,574.34 82.60,574.34 83.04,574.34 C83.48,574.34 83.92,574.34 84.37,574.34 C84.81,574.34 85.25,574.34 85.69,574.34 C86.14,574.34 86.58,574.34 87.02,574.34 C87.46,574.34 87.91,574.34 88.35,574.34 C88.79,574.34 89.23,574.34 89.68,574.34 C90.12,574.34 90.56,574.34 91.00,574.34 C91.44,574.34 91.89,574.33 92.33,574.33 C92.77,574.33 93.22,574.33 93.66,574.33 C94.10,574.33 94.54,574.33 94.99,574.33 C95.43,574.33 95.87,574.33 96.31,574.33 C96.76,574.33 97.20,574.32 97.64,574.32 C98.08,574.32 98.53,574.32 98.97,574.32 C99.41,574.32 99.85,574.32 100.30,574.32 C100.74,574.31 101.18,574.31 101.62,574.31 C102.06,574.31 102.51,574.31 102.95,574.31 C103.39,574.30 103.84,574.30 104.28,574.30 C104.72,574.30 105.16,574.30 105.61,574.29 C106.05,574.29 106.49,574.29 106.93,574.29 C107.38,574.29 107.82,574.28 108.26,574.28 C108.70,574.28 109.15,574.28 109.59,574.27 C110.03,574.27 110.47,574.27 110.92,574.26 C111.36,574.26 111.80,574.26 112.24,574.25 C112.69,574.25 113.13,574.25 113.57,574.24 C114.01,574.24 114.46,574.24 114.90,574.23 C115.34,574.23 115.78,574.23 116.23,574.22 C116.67,574.22 117.11,574.21 117.55,574.21 C118.00,574.21 118.44,574.20 118.88,574.20 C119.32,574.19 119.77,574.19 120.21,574.18 C120.65,574.18 121.09,574.17 121.53,574.17 C121.98,574.16 122.42,574.16 122.86,574.15 C123.31,574.15 123.75,574.14 124.19,574.14 C124.63,574.13 125.08,574.12 125.52,574.12 C125.96,574.11 126.40,574.11 126.84,574.10 C127.29,574.09 127.73,574.09 128.17,574.08 C128.62,574.07 129.06,574.07 129.50,574.06 C129.94,574.05 130.39,574.04 130.83,574.04 C131.27,574.03 131.71,574.02 132.16,574.01 C132.60,574.01 133.04,574.00 133.48,573.99 C133.93,573.98 134.37,573.97 134.81,573.96 C135.25,573.96 135.69,573.95 136.14,573.94 C136.58,573.93 137.02,573.92 137.47,573.91 C137.91,573.90 138.35,573.89 138.79,573.88 C139.24,573.87 139.68,573.86 140.12,573.85 C140.56,573.84 141.00,573.83 141.45,573.82 C141.89,573.81 142.33,573.80 142.78,573.79 C143.22,573.78 143.66,573.77 144.10,573.75 C144.55,573.74 144.99,573.73 145.43,573.72 C145.87,573.71 146.31,573.70 146.76,573.68 C147.20,573.67 147.64,573.66 148.09,573.64 C148.53,573.63 148.97,573.62 149.41,573.61 C149.86,573.59 150.30,573.58 150.74,573.56 C151.18,573.55 151.62,573.54 152.07,573.52 C152.51,573.51 152.95,573.49 153.39,573.48 C153.84,573.46 154.28,573.45 154.72,573.43 C155.16,573.42 155.61,573.40 156.05,573.39 C156.49,573.37 156.94,573.35 157.38,573.34 C157.82,573.32 158.26,573.30 158.71,573.29 C159.15,573.27 159.59,573.25 160.03,573.23 C160.47,573.22 160.92,573.20 161.36,573.18 C161.80,573.16 162.25,573.14 162.69,573.13 C163.13,573.11 163.57,573.09 164.01,573.07 C164.46,573.05 164.90,573.03 165.34,573.01 C165.78,572.99 166.23,572.97 166.67,572.95 C167.11,572.93 167.56,572.91 168.00,572.89 C168.44,572.87 168.88,572.84 169.33,572.82 C169.77,572.80 170.21,572.78 170.65,572.76 C171.09,572.73 171.54,572.71 171.98,572.69 C172.42,572.66 172.87,572.64 173.31,572.62 C173.75,572.59 174.19,572.57 174.63,572.54 C175.08,572.52 175.52,572.49 175.96,572.47 C176.41,572.44 176.85,572.42 177.29,572.39 C177.73,572.37 178.18,572.34 178.62,572.31 C179.06,572.29 179.50,572.26 179.94,572.23 C180.39,572.20 180.83,572.18 181.27,572.15 C181.72,572.12 182.16,572.09 182.60,572.06 C183.04,572.03 183.49,572.00 183.93,571.97 C184.37,571.94 184.81,571.91 185.25,571.87 C185.70,571.83 186.14,571.80 186.58,571.75 C187.02,571.70 187.47,571.65 187.91,571.58 C188.35,571.51 188.80,571.43 189.24,571.34 C189.68,571.25 190.12,571.14 190.57,571.04 C191.01,570.95 191.45,570.85 191.89,570.78 C192.34,570.72 192.78,570.60 193.22,570.66 C193.66,570.72 194.11,571.05 194.55,571.13 C194.99,571.21 195.43,571.14 195.88,571.14 C196.32,571.15 196.76,571.15 197.20,571.15 C197.64,571.15 198.09,571.15 198.53,571.15 C198.97,571.15 199.42,571.14 199.86,571.14 C200.30,571.13 200.74,571.13 201.19,571.12 C201.63,571.11 202.07,571.10 202.51,571.09 C202.96,571.07 203.40,571.06 203.84,571.04 C204.28,571.02 204.72,570.99 205.17,570.96 C205.61,570.94 206.05,570.91 206.50,570.87 C206.94,570.83 207.38,570.79 207.82,570.74 C208.27,570.69 208.71,570.64 209.15,570.58 C209.59,570.52 210.04,570.45 210.48,570.37 C210.92,570.29 211.36,570.20 211.81,570.10 C212.25,570.00 212.69,569.89 213.13,569.76 C213.57,569.63 214.02,569.49 214.46,569.33 C214.90,569.17 215.34,569.00 215.79,568.80 C216.23,568.60 216.67,568.38 217.12,568.13 C217.56,567.88 218.00,567.61 218.44,567.30 C218.88,566.99 219.33,566.65 219.77,566.26 C220.21,565.88 220.66,565.46 221.10,564.98 C221.54,564.51 221.98,563.99 222.43,563.40 C222.87,562.81 223.31,562.17 223.75,561.44 C224.19,560.70 224.64,559.90 225.08,558.98 C225.52,558.07 225.97,557.08 226.41,555.95 C226.85,554.82 227.29,553.60 227.74,552.21 C228.18,550.82 228.62,549.32 229.06,547.61 C229.50,545.90 229.95,544.06 230.39,541.95 C230.83,539.84 231.28,537.57 231.72,534.97 C232.16,532.38 232.60,529.58 233.04,526.38 C233.49,523.18 233.93,519.73 234.37,515.80 C234.82,511.86 235.48,504.93 235.70,502.76" fill="none" stroke="#9ad6a0" stroke-width="0.75"/>
<path d="M76.40,574.34 C76.62,574.34 77.29,574.34 77.73,574.34 C78.17,574.34 78.61,574.34 79.06,574.34 C79.50,574.34 79.94,574.34 80.38,574.34 C80.83,574.34 81.27,574.34 81.71,574.34 C82.15,574.34 82.60,574.34 83.04,574.34 C83.48,574.34 83.92,574.34 84.37,574.34 C84.81,574.34 85.25,574.34 85.69,574.34 C86.14,574.34 86.58,574.34 87.02,574.34 C87.46,574.34 87.91,574.34 88.35,574.34 C88.79,574.34 89.23,574.34 89.68,574.34 C90.12,574.34 90.56,574.34 91.00,574.34 C91.44,574.34 91.89,574.33 92.33,574.33 C92.77,574.33 93.22,574.33 93.66,574.33 C94.10,574.33 94.54,574.33 94.99,574.33 C95.43,574.33 95.87,574.33 96.31,574.33 C96.76,574.33 97.20,574.32 97.64,574.32 C98.08,574.32 98.53,574.32 98.97,574.32 C99.41,574.32 99.85,574.32 100.30,574.32 C100.74,574.31 101.18,574.31 101.62,574.31 C102.06,574.31 102.51,574.31 102.95,574.31 C103.39,574.30 103.84,574.30 104.28,574.30 C104.72,574.30 105.16,574.30 105.61,574.29 C106.05,574.29 106.49,574.29 106.93,574.29 C107.38,574.29 107.82,574.28 108.26,574.28 C108.70,574.28 109.15,574.28 109.59,574.27 C110.03,574.27 110.47,574.27 110.92,574.26 C111.36,574.26 111.80,574.26 112.24,574.25 C112.69,574.25 113.13,574.25 113.57,574.24 C114.01,574.24 114.46,574.24 114.90,574.23 C115.34,574.23 115.78,574.23 116.23,574.22 C116.67,574.22 117.11,574.21 117.55,574.21 C118.00,574.21 118.44,574.20 118.88,574.20 C119.32,574.19 119.77,574.19 120.21,574.18 C120.65,574.18 121.09,574.17 121.53,574.17 C121.98,574.16 122.42,574.16 122.86,574.15 C123.31,574.15 123.75,574.14 124.19,574.14 C124.63,574.13 125.08,574.12 125.52,574.12 C125.96,574.11 126.40,574.11 126.84,574.10 C127.29,574.09 127.73,574.09 128.17,574.08 C128.62,574.07 129.06,574.07 129.50,574.06 C129.94,574.05 130.39,574.04 130.83,574.04 C131.27,574.03 131.71,574.02 132.16,574.01 C132.60,574.01 133.04,574.00 133.48,573.99 C133.93,573.98 134.37,573.97 134.81,573.96 C135.25,573.96 135.69,573.95 136.14,573.94 C136.58,573.93 137.02,573.92 137.47,573.91 C137.91,573.90 138.35,573.89 138.79,573.88 C139.24,573.87 139.68,573.86 140.12,573.85 C140.56,573.84 141.00,573.83 141.45,573.82 C141.89,573.81 142.33,573.80 142.78,573.79 C143.22,573.78 143.66,573.77 144.10,573.75 C144.55,573.74 144.99,573.73 145.43,573.72 C145.87,573.71 146.31,573.70 146.76,573.68 C147.20,573.67 147.64,573.66 148.09,573.64 C148.53,573.63 148.97,573.62 149.41,573.61 C149.86,573.59 150.30,573.58 150.74,573.56 C151.18,573.55 151.62,573.54 152.07,573.52 C152.51,573.51 152.95,573.49 153.39,573.48 C153.84,573.46 154.28,573.45 154.72,573.43 C155.16,573.42 155.61,573.40 156.05,573.39 C156.49,573.37 156.94,573.35 157.38,573.34 C157.82,573.32 158.26,573.30 158.71,573.29 C159.15,573.27 159.59,573.25 160.03,573.23 C160.47,573.22 160.92,573.20 161.36,573.18 C161.80,573.16 162.25,573.14 162.69,573.12 C163.13,573.11 163.57,573.09 164.01,573.07 C164.46,573.05 164.90,573.03 165.34,573.01 C165.78,572.99 166.23,572.97 166.67,572.95 C167.11,572.93 167.56,572.91 168.00,572.88 C168.44,572.86 168.88,572.84 169.33,572.82 C169.77,572.80 170.21,572.78 170.65,572.75 C171.09,572.73 171.54,572.71 171.98,572.68 C172.42,572.66 172.87,572.64 173.31,572.61 C173.75,572.59 174.19,572.56 174.63,572.54 C175.08,572.51 175.52,572.49 175.96,572.46 C176.41,572.44 176.85,572.41 177.29,572.38 C177.73,572.36 178.18,572.33 178.62,572.30 C179.06,572.28 179.50,572.25 179.94,572.22 C180.39,572.19 180.83,572.16 181.27,572.13 C181.72,572.10 182.16,572.07 182.60,572.04 C183.04,572.01 183.49,571.98 183.93,571.95 C184.37,571.92 184.81,571.88 185.25,571.85 C185.70,571.81 186.14,571.77 186.58,571.72 C187.02,571.67 187.47,571.62 187.91,571.55 C188.35,571.48 188.80,571.39 189.24,571.30 C189.68,571.21 190.12,571.09 190.57,571.00 C191.01,570.90 191.45,570.80 191.89,570.73 C192.34,570.66 192.78,570.54 193.22,570.59 C193.66,570.64 194.11,570.97 194.55,571.05 C194.99,571.12 195.43,571.05 195.88,571.05 C196.32,571.04 196.76,571.04 197.20,571.03 C197.64,571.03 198.09,571.02 198.53,571.01 C198.97,571.00 199.42,570.99 199.86,570.98 C200.30,570.96 200.74,570.95 201.19,570.93 C201.63,570.91 202.07,570.88 202.51,570.86 C202.96,570.83 203.40,570.80 203.84,570.76 C204.28,570.73 204.72,570.69 205.17,570.64 C205.61,570.60 206.05,570.55 206.50,570.49 C206.94,570.43 207.38,570.37 207.82,570.29 C208.27,570.22 208.71,570.14 209.15,570.05 C209.59,569.96 210.04,569.86 210.48,569.74 C210.92,569.63 211.36,569.50 211.81,569.36 C212.25,569.22 212.69,569.07 213.13,568.89 C213.57,568.72 214.02,568.53 214.46,568.32 C214.90,568.10 215.34,567.87 215.79,567.61 C216.23,567.34 216.67,567.06 217.12,566.74 C217.56,566.42 218.00,566.07 218.44,565.68 C218.88,565.28 219.33,564.86 219.77,564.38 C220.21,563.90 220.66,563.38 221.10,562.79 C221.54,562.21 221.98,561.58 222.43,560.86 C222.87,560.15 223.31,559.39 223.75,558.51 C224.19,557.64 224.64,556.68 225.08,555.61 C225.52,554.54 225.97,553.39 226.41,552.09 C226.85,550.79 227.29,549.39 227.74,547.81 C228.18,546.23 228.62,544.54 229.06,542.62 C229.50,540.70 229.95,538.64 230.39,536.32 C230.83,533.99 231.28,531.49 231.72,528.66 C232.16,525.84 232.60,522.80 233.04,519.37 C233.49,515.94 233.93,512.25 234.37,508.09 C234.82,503.93 235.48,496.68 235.70,494.40" fill="none" stroke="#f4b070" stroke-width="0.75"/>
<path d="M76.40,574.34 C76.62,574.34 77.29,574.34 77.73,574.34 C78.17,574.34 78.61,574.34 79.06,574.34 C79.50,574.34 79.94,574.34 80.38,574.34 C80.83,574.34 81.27,574.34 81.71,574.34 C82.15,574.34 82.60,574.34 83.04,574.34 C83.48,574.34 83.92,574.34 84.37,574.34 C84.81,574.34 85.25,574.34 85.69,574.34 C86.14,574.34 86.58,574.34 87.02,574.34 C87.46,574.34 87.91,574.34 88.35,574.34 C88.79,574.34 89.23,574.34 89.68,574.34 C90.12,574.34 90.56,574.34 91.00,574.34 C91.44,574.34 91.89,574.33 92.33,574.33 C92.77,574.33 93.22,574.33 93.66,574.33 C94.10,574.33 94.54,574.33 94.99,574.33 C95.43,574.33 95.87,574.33 96.31,574.33 C96.76,574.33 97.20,574.32 97.64,574.32 C98.08,574.32 98.53,574.32 98.97,574.32 C99.41,574.32 99.85,574.32 100.30,574.32 C100.74,574.31 101.18,574.31 101.62,574.31 C102.06,574.31 102.51,574.31 102.95,574.31 C103.39,574.30 103.84,574.30 104.28,574.30 C104.72,574.30 105.16,574.30 105.61,574.29 C106.05,574.29 106.49,574.29 106.93,574.29 C107.38,574.29 107.82,574.28 108.26,574.28 C108.70,574.28 109.15,574.28 109.59,574.27 C110.03,574.27 110.47,574.27 110.92,574.26 C111.36,574.26 111.80,574.26 112.24,574.25 C112.69,574.25 113.13,574.25 113.57,574.24 C114.01,574.24 114.46,574.24 114.90,574.23 C115.34,574.23 115.78,574.23 116.23,574.22 C116.67,574.22 117.11,574.21 117.55,574.21 C118.00,574.21 118.44,574.20 118.88,574.20 C119.32,574.19 119.77,574.19 120.21,574.18 C120.65,574.18 121.09,574.17 121.53,574.17 C121.98,574.16 122.42,574.16 122.86,574.15 C123.31,574.15 123.75,574.14 124.19,574.14 C124.63,574.13 125.08,574.12 125.52,574.12 C125.96,574.11 126.40,574.11 126.84,574.10 C127.29,574.09 127.73,574.09 128.17,574.08 C128.62,574.07 129.06,574.07 129.50,574.06 C129.94,574.05 130.39,574.04 130.83,574.04 C131.27,574.03 131.71,574.02 132.16,574.01 C132.60,574.01 133.04,574.00 133.48,573.99 C133.93,573.98 134.37,573.97 134.81,573.96 C135.25,573.96 135.69,573.95 136.14,573.94 C136.58,573.93 137.02,573.92 137.47,573.91 C137.91,573.90 138.35,573.89 138.79,573.88 C139.24,573.87 139.68,573.86 140.12,573.85 C140.56,573.84 141.00,573.83 141.45,573.82 C141.89,573.81 142.33,573.80 142.78,573.79 C143.22,573.78 143.66,573.77 144.10,573.75 C144.55,573.74 144.99,573.73 145.43,573.72 C145.87,573.71 146.31,573.69 146.76,573.68 C147.20,573.67 147.64,573.66 148.09,573.64 C148.53,573.63 148.97,573.62 149.41,573.60 C149.86,573.59 150.30,573.58 150.74,573.56 C151.18,573.55 151.62,573.54 152.07,573.52 C152.51,573.51 152.95,573.49 153.39,573.48 C153.84,573.46 154.28,573.45 154.72,573.43 C155.16,573.42 155.61,573.40 156.05,573.38 C156.49,573.37 156.94,573.35 157.38,573.34 C157.82,573.32 158.26,573.30 158.71,573.29 C159.15,573.27 159.59,573.25 160.03,573.23 C160.47,573.22 160.92,573.20 161.36,573.18 C161.80,573.16 162.25,573.14 162.69,573.12 C163.13,573.10 163.57,573.08 164.01,573.07 C164.46,573.05 164.90,573.03 165.34,573.01 C165.78,572.99 166.23,572.96 166.67,572.94 C167.11,572.92 167.56,572.90 168.00,572.88 C168.44,572.86 168.88,572.84 169.33,572.81 C169.77,572.79 170.21,572.77 170.65,572.75 C171.09,572.72 171.54,572.70 171.98,572.68 C172.42,572.65 172.87,572.63 173.31,572.60 C173.75,572.58 174.19,572.56 174.63,572.53 C175.08,572.50 175.52,572.48 175.96,572.45 C176.41,572.43 176.85,572.40 177.29,572.37 C177.73,572.34 178.18,572.32 178.62,572.29 C179.06,572.26 179.50,572.23 179.94,572.20 C180.39,572.17 180.83,572.14 181.27,572.11 C181.72,572.08 182.16,572.05 182.60,572.02 C183.04,571.99 183.49,571.95 183.93,571.92 C184.37,571.89 184.81,571.85 185.25,571.81 C185.70,571.77 186.14,571.73 186.58,571.68 C187.02,571.63 187.47,571.57 187.91,571.50 C188.35,571.43 188.80,571.34 189.24,571.24 C189.68,571.15 190.12,571.03 190.57,570.93 C191.01,570.83 191.45,570.72 191.89,570.65 C192.34,570.58 192.78,570.45 193.22,570.50 C193.66,570.55 194.11,570.87 194.55,570.94 C194.99,571.01 195.43,570.93 195.88,570.92 C196.32,570.91 196.76,570.90 197.20,570.89 C197.64,570.87 198.09,570.86 198.53,570.84 C198.97,570.82 199.42,570.80 199.86,570.77 C200.30,570.75 200.74,570.72 201.19,570.69 C201.63,570.65 202.07,570.62 202.51,570.58 C202.96,570.53 203.40,570.49 203.84,570.44 C204.28,570.38 204.72,570.32 205.17,570.26 C205.61,570.19 206.05,570.12 206.50,570.04 C206.94,569.96 207.38,569.87 207.82,569.77 C208.27,569.67 208.71,569.56 209.15,569.44 C209.59,569.31 210.04,569.18 210.48,569.03 C210.92,568.88 211.36,568.71 211.81,568.53 C212.25,568.35 212.69,568.15 213.13,567.93 C213.57,567.70 214.02,567.46 214.46,567.19 C214.90,566.92 215.34,566.63 215.79,566.31 C216.23,565.98 216.67,565.63 217.12,565.23 C217.56,564.84 218.00,564.41 218.44,563.94 C218.88,563.46 219.33,562.95 219.77,562.37 C220.21,561.80 220.66,561.18 221.10,560.49 C221.54,559.80 221.98,559.05 222.43,558.22 C222.87,557.38 223.31,556.49 223.75,555.48 C224.19,554.47 224.64,553.38 225.08,552.16 C225.52,550.94 225.97,549.63 226.41,548.16 C226.85,546.69 227.29,545.12 227.74,543.36 C228.18,541.60 228.62,539.71 229.06,537.60 C229.50,535.48 229.95,533.22 230.39,530.68 C230.83,528.14 231.28,525.42 231.72,522.37 C232.16,519.32 232.60,516.05 233.04,512.39 C233.49,508.73 233.93,504.81 234.37,500.41 C234.82,496.02 235.48,488.43 235.70,486.03" fill="none" stroke="#e05a6a" stroke-width="0.75"/>
<path d="M76.40,574.34 C76.62,574.34 77.29,574.34 77.73,574.34 C78.17,574.34 78.61,574.34 79.06,574.34 C79.50,574.34 79.94,574.34 80.38,574.34 C80.83,574.34 81.27,574.34 81.71,574.34 C82.15,574.34 82.60,574.34 83.04,574.34 C83.48,574.34 83.92,574.34 84.37,574.34 C84.81,574.34 85.25,574.34 85.69,574.34 C86.14,574.34 86.58,574.34 87.02,574.34 C87.46,574.34 87.91,574.34 88.35,574.34 C88.79,574.34 89.23,574.34 89.68,574.34 C90.12,574.34 90.56,574.34 91.00,574.34 C91.44,574.34 91.89,574.33 92.33,574.33 C92.77,574.33 93.22,574.33 93.66,574.33 C94.10,574.33 94.54,574.33 94.99,574.33 C95.43,574.33 95.87,574.33 96.31,574.33 C96.76,574.33 97.20,574.32 97.64,574.32 C98.08,574.32 98.53,574.32 98.97,574.32 C99.41,574.32 99.85,574.32 100.30,574.32 C100.74,574.31 101.18,574.31 101.62,574.31 C102.06,574.31 102.51,574.31 102.95,574.31 C103.39,574.30 103.84,574.30 104.28,574.30 C104.72,574.30 105.16,574.30 105.61,574.29 C106.05,574.29 106.49,574.29 106.93,574.29 C107.38,574.29 107.82,574.28 108.26,574.28 C108.70,574.28 109.15,574.28 109.59,574.27 C110.03,574.27 110.47,574.27 110.92,574.26 C111.36,574.26 111.80,574.26 112.24,574.25 C112.69,574.25 113.13,574.25 113.57,574.24 C114.01,574.24 114.46,574.24 114.90,574.23 C115.34,574.23 115.78,574.23 116.23,574.22 C116.67,574.22 117.11,574.21 117.55,574.21 C118.00,574.21 118.44,574.20 118.88,574.20 C119.32,574.19 119.77,574.19 120.21,574.18 C120.65,574.18 121.09,574.17 121.53,574.17 C121.98,574.16 122.42,574.16 122.86,574.15 C123.31,574.15 123.75,574.14 124.19,574.14 C124.63,574.13 125.08,574.12 125.52,574.12 C125.96,574.11 126.40,574.11 126.84,574.10 C127.29,574.09 127.73,574.09 128.17,574.08 C128.62,574.07 129.06,574.07 129.50,574.06 C129.94,574.05 130.39,574.04 130.83,574.04 C131.27,574.03 131.71,574.02 132.16,574.01 C132.60,574.01 133.04,574.00 133.48,573.99 C133.93,573.98 134.37,573.97 134.81,573.96 C135.25,573.96 135.69,573.95 136.14,573.94 C136.58,573.93 137.02,573.92 137.47,573.91 C137.91,573.90 138.35,573.89 138.79,573.88 C139.24,573.87 139.68,573.86 140.12,573.85 C140.56,573.84 141.00,573.83 141.45,573.82 C141.89,573.81 142.33,573.80 142.78,573.79 C143.22,573.78 143.66,573.77 144.10,573.75 C144.55,573.74 144.99,573.73 145.43,573.72 C145.87,573.71 146.31,573.69 146.76,573.68 C147.20,573.67 147.64,573.66 148.09,573.64 C148.53,573.63 148.97,573.62 149.41,573.60 C149.86,573.59 150.30,573.58 150.74,573.56 C151.18,573.55 151.62,573.53 152.07,573.52 C152.51,573.51 152.95,573.49 153.39,573.48 C153.84,573.46 154.28,573.45 154.72,573.43 C155.16,573.41 155.61,573.40 156.05,573.38 C156.49,573.37 156.94,573.35 157.38,573.33 C157.82,573.32 158.26,573.30 158.71,573.28 C159.15,573.27 159.59,573.25 160.03,573.23 C160.47,573.21 160.92,573.19 161.36,573.18 C161.80,573.16 162.25,573.14 162.69,573.12 C163.13,573.10 163.57,573.08 164.01,573.06 C164.46,573.04 164.90,573.02 165.34,573.00 C165.78,572.98 166.23,572.96 166.67,572.94 C167.11,572.92 167.56,572.89 168.00,572.87 C168.44,572.85 168.88,572.83 169.33,572.81 C169.77,572.78 170.21,572.76 170.65,572.74 C171.09,572.71 171.54,572.69 171.98,572.66 C172.42,572.64 172.87,572.62 173.31,572.59 C173.75,572.56 174.19,572.54 174.63,572.51 C175.08,572.49 175.52,572.46 175.96,572.43 C176.41,572.40 176.85,572.38 177.29,572.35 C177.73,572.32 178.18,572.29 178.62,572.26 C179.06,572.23 179.50,572.20 179.94,572.17 C180.39,572.14 180.83,572.11 181.27,572.07 C181.72,572.04 182.16,572.01 182.60,571.97 C183.04,571.94 183.49,571.91 183.93,571.87 C184.37,571.83 184.81,571.79 185.25,571.75 C185.70,571.71 186.14,571.67 186.58,571.61 C187.02,571.55 187.47,571.49 187.91,571.42 C188.35,571.34 188.80,571.25 189.24,571.15 C189.68,571.05 190.12,570.92 190.57,570.82 C191.01,570.71 191.45,570.60 191.89,570.52 C192.34,570.44 192.78,570.30 193.22,570.34 C193.66,570.38 194.11,570.70 194.55,570.76 C194.99,570.82 195.43,570.73 195.88,570.71 C196.32,570.69 196.76,570.67 197.20,570.64 C197.64,570.61 198.09,570.59 198.53,570.55 C198.97,570.52 199.42,570.48 199.86,570.44 C200.30,570.40 200.74,570.35 201.19,570.30 C201.63,570.25 202.07,570.19 202.51,570.13 C202.96,570.06 203.40,569.99 203.84,569.91 C204.28,569.83 204.72,569.75 205.17,569.65 C205.61,569.56 206.05,569.45 206.50,569.34 C206.94,569.22 207.38,569.10 207.82,568.96 C208.27,568.82 208.71,568.66 209.15,568.50 C209.59,568.33 210.04,568.14 210.48,567.94 C210.92,567.74 211.36,567.52 211.81,567.28 C212.25,567.03 212.69,566.77 213.13,566.48 C213.57,566.19 214.02,565.88 214.46,565.53 C214.90,565.18 215.34,564.80 215.79,564.39 C216.23,563.97 216.67,563.53 217.12,563.03 C217.56,562.53 218.00,562.00 218.44,561.41 C218.88,560.82 219.33,560.18 219.77,559.48 C220.21,558.77 220.66,558.02 221.10,557.18 C221.54,556.34 221.98,555.44 222.43,554.44 C222.87,553.44 223.31,552.38 223.75,551.18 C224.19,549.99 224.64,548.70 225.08,547.27 C225.52,545.85 225.97,544.32 226.41,542.62 C226.85,540.93 227.29,539.12 227.74,537.11 C228.18,535.09 228.62,532.94 229.06,530.55 C229.50,528.17 229.95,525.61 230.39,522.78 C230.83,519.94 231.28,516.91 231.72,513.54 C232.16,510.17 232.60,506.57 233.04,502.57 C233.49,498.57 233.93,494.29 234.37,489.55 C234.82,484.80 235.48,476.66 235.70,474.08" fill="none" stroke="#e0306e" stroke-width="0.75"/>
<linearGradient id="g382" x1="0" y1="1" x2="0" y2="0"><stop offset="0" stop-color="#f05a50" stop-opacity="0.2"/><stop offset="0.5" stop-color="#ee4a44"/><stop offset="1" stop-color="#ee4a44"/></linearGradient>
<polygon points="223.20,512.60 226.60,520.80 224.60,520.20 224.00,535.50 222.40,535.50 221.80,520.20 219.80,520.80" fill="url(#g382)" />
<line x1="79.00" y1="459.80" x2="91.70" y2="459.80" stroke="#6a5acd" stroke-width="0.8"/>
<text x="93.80" y="462.00" font-size="6.20" fill="#222" font-weight="normal" text-anchor="start" >1&#176;C</text>
<line x1="110.40" y1="459.80" x2="122.00" y2="459.80" stroke="#4a90d0" stroke-width="0.8"/>
<text x="123.70" y="462.00" font-size="6.20" fill="#222" font-weight="normal" text-anchor="start" >10&#176;C</text>
<line x1="140.30" y1="459.80" x2="151.30" y2="459.80" stroke="#9ad6a0" stroke-width="0.8"/>
<text x="154.00" y="462.00" font-size="6.20" fill="#222" font-weight="normal" text-anchor="start" >20&#176;C</text>
<line x1="79.00" y1="466.80" x2="91.70" y2="466.80" stroke="#f4b070" stroke-width="0.8"/>
<text x="93.80" y="469.00" font-size="6.20" fill="#222" font-weight="normal" text-anchor="start" >30&#176;C</text>
<line x1="110.40" y1="466.80" x2="122.00" y2="466.80" stroke="#e05a6a" stroke-width="0.8"/>
<text x="123.70" y="469.00" font-size="6.20" fill="#222" font-weight="normal" text-anchor="start" >40&#176;C</text>
<line x1="140.30" y1="466.80" x2="151.30" y2="466.80" stroke="#e0306e" stroke-width="0.8"/>
<text x="154.00" y="469.00" font-size="6.20" fill="#222" font-weight="normal" text-anchor="start" >50&#176;C</text>
<rect x="100.60" y="474.10" width="105.60" height="80.30" fill="#eef3fb" stroke="#444" stroke-width="0.7"/>
<line x1="99.30" y1="479.90" x2="100.60" y2="479.90" stroke="#444" stroke-width="0.5"/>
<text x="98.40" y="481.60" font-size="5.00" fill="#222" font-weight="bold" text-anchor="end" >-2.5</text>
<line x1="99.30" y1="492.32" x2="100.60" y2="492.32" stroke="#444" stroke-width="0.5"/>
<text x="98.40" y="494.02" font-size="5.00" fill="#222" font-weight="bold" text-anchor="end" >-3.0</text>
<line x1="99.30" y1="504.74" x2="100.60" y2="504.74" stroke="#444" stroke-width="0.5"/>
<text x="98.40" y="506.44" font-size="5.00" fill="#222" font-weight="bold" text-anchor="end" >-3.5</text>
<line x1="99.30" y1="517.16" x2="100.60" y2="517.16" stroke="#444" stroke-width="0.5"/>
<text x="98.40" y="518.86" font-size="5.00" fill="#222" font-weight="bold" text-anchor="end" >-4.0</text>
<line x1="99.30" y1="529.58" x2="100.60" y2="529.58" stroke="#444" stroke-width="0.5"/>
<text x="98.40" y="531.28" font-size="5.00" fill="#222" font-weight="bold" text-anchor="end" >-4.5</text>
<line x1="99.30" y1="542.00" x2="100.60" y2="542.00" stroke="#444" stroke-width="0.5"/>
<text x="98.40" y="543.70" font-size="5.00" fill="#222" font-weight="bold" text-anchor="end" >-5.0</text>
<line x1="99.30" y1="554.42" x2="100.60" y2="554.42" stroke="#444" stroke-width="0.5"/>
<text x="98.40" y="556.12" font-size="5.00" fill="#222" font-weight="bold" text-anchor="end" >-5.5</text>
<line x1="127.90" y1="554.40" x2="127.90" y2="555.70" stroke="#444" stroke-width="0.5"/>
<text x="127.90" y="560.30" font-size="4.70" fill="#222" font-weight="bold" text-anchor="middle" >0.0032</text>
<line x1="158.90" y1="554.40" x2="158.90" y2="555.70" stroke="#444" stroke-width="0.5"/>
<text x="158.90" y="560.30" font-size="4.70" fill="#222" font-weight="bold" text-anchor="middle" >0.0034</text>
<line x1="189.90" y1="554.40" x2="189.90" y2="555.70" stroke="#444" stroke-width="0.5"/>
<text x="189.90" y="560.30" font-size="4.70" fill="#222" font-weight="bold" text-anchor="middle" >0.0036</text>
<text x="153.60" y="569.80" font-size="4.90" fill="#222" font-weight="bold" text-anchor="middle" >1/K (K<tspan font-size="3.4" dy="-1.8">-1</tspan><tspan dy="1.8">)</tspan></text>
<text x="0.00" y="0.00" font-size="4.90" fill="#222" font-weight="bold" text-anchor="middle" transform="translate(85.2,516.6) rotate(-90)">ln <tspan font-style="italic">j</tspan> (A)</text>
<line x1="109.4" y1="479.40" x2="195.0" y2="499.60" stroke="#3cc0c8" stroke-width="0.7"/>
<circle cx="109.40" cy="479.90" r="1.45" fill="#3cc0c8"/>
<circle cx="123.90" cy="483.90" r="1.45" fill="#3cc0c8"/>
<circle cx="140.70" cy="486.20" r="1.45" fill="#3cc0c8"/>
<circle cx="159.00" cy="490.20" r="1.45" fill="#3cc0c8"/>
<circle cx="178.10" cy="494.40" r="1.45" fill="#3cc0c8"/>
<circle cx="195.00" cy="500.70" r="1.45" fill="#3cc0c8"/>
<line x1="109.4" y1="496.20" x2="195.0" y2="520.80" stroke="#98c83a" stroke-width="0.7"/>
<circle cx="109.40" cy="496.70" r="1.45" fill="#98c83a"/>
<circle cx="123.90" cy="502.60" r="1.45" fill="#98c83a"/>
<circle cx="140.70" cy="506.50" r="1.45" fill="#98c83a"/>
<circle cx="159.00" cy="510.30" r="1.45" fill="#98c83a"/>
<circle cx="178.10" cy="515.40" r="1.45" fill="#98c83a"/>
<circle cx="195.00" cy="522.70" r="1.45" fill="#98c83a"/>
<line x1="109.4" y1="517.00" x2="195.0" y2="542.80" stroke="#e8453c" stroke-width="0.7"/>
<circle cx="109.40" cy="516.10" r="1.45" fill="#e8453c"/>
<circle cx="123.90" cy="523.10" r="1.45" fill="#e8453c"/>
<circle cx="140.70" cy="527.80" r="1.45" fill="#e8453c"/>
<circle cx="159.00" cy="531.50" r="1.45" fill="#e8453c"/>
<circle cx="178.10" cy="536.40" r="1.45" fill="#e8453c"/>
<circle cx="195.00" cy="543.90" r="1.45" fill="#e8453c"/>
<circle cx="109.2" cy="536.00" r="1.3" fill="#e8453c"/>
<text x="112.60" y="537.50" font-size="3.80" fill="#333" font-weight="normal" text-anchor="start" >0.25 V</text>
<circle cx="109.2" cy="540.80" r="1.3" fill="#98c83a"/>
<text x="112.60" y="542.30" font-size="3.80" fill="#333" font-weight="normal" text-anchor="start" >0.26 V</text>
<circle cx="109.2" cy="545.60" r="1.3" fill="#3cc0c8"/>
<text x="112.60" y="547.10" font-size="3.80" fill="#333" font-weight="normal" text-anchor="start" >0.27 V</text>
<text x="251.00" y="456.60" font-size="9.50" fill="#111" font-weight="bold" text-anchor="start" >p</text>
<rect x="272.20" y="455.50" width="158.20" height="120.80" fill="none" stroke="#333" stroke-width="0.9"/>
<line x1="270.20" y1="455.60" x2="272.20" y2="455.60" stroke="#333" stroke-width="0.7"/>
<text x="269.00" y="458.45" font-size="7.90" fill="#111" font-weight="bold" text-anchor="end" textLength="10.73" lengthAdjust="spacingAndGlyphs">-10</text>
<line x1="270.20" y1="479.76" x2="272.20" y2="479.76" stroke="#333" stroke-width="0.7"/>
<text x="269.00" y="482.61" font-size="7.90" fill="#111" font-weight="bold" text-anchor="end" textLength="6.60" lengthAdjust="spacingAndGlyphs">-8</text>
<line x1="270.20" y1="503.92" x2="272.20" y2="503.92" stroke="#333" stroke-width="0.7"/>
<text x="269.00" y="506.77" font-size="7.90" fill="#111" font-weight="bold" text-anchor="end" textLength="6.60" lengthAdjust="spacingAndGlyphs">-6</text>
<line x1="270.20" y1="528.08" x2="272.20" y2="528.08" stroke="#333" stroke-width="0.7"/>
<text x="269.00" y="530.93" font-size="7.90" fill="#111" font-weight="bold" text-anchor="end" textLength="6.60" lengthAdjust="spacingAndGlyphs">-4</text>
<line x1="270.20" y1="552.24" x2="272.20" y2="552.24" stroke="#333" stroke-width="0.7"/>
<text x="269.00" y="555.09" font-size="7.90" fill="#111" font-weight="bold" text-anchor="end" textLength="6.60" lengthAdjust="spacingAndGlyphs">-2</text>
<line x1="270.20" y1="576.30" x2="272.20" y2="576.30" stroke="#333" stroke-width="0.7"/>
<text x="269.00" y="579.15" font-size="7.90" fill="#111" font-weight="bold" text-anchor="end" textLength="4.13" lengthAdjust="spacingAndGlyphs">0</text>
<line x1="271.00" y1="467.68" x2="272.20" y2="467.68" stroke="#333" stroke-width="0.6"/>
<line x1="271.00" y1="491.84" x2="272.20" y2="491.84" stroke="#333" stroke-width="0.6"/>
<line x1="271.00" y1="516.00" x2="272.20" y2="516.00" stroke="#333" stroke-width="0.6"/>
<line x1="271.00" y1="540.16" x2="272.20" y2="540.16" stroke="#333" stroke-width="0.6"/>
<line x1="271.00" y1="564.32" x2="272.20" y2="564.32" stroke="#333" stroke-width="0.6"/>
<line x1="275.70" y1="576.30" x2="275.70" y2="578.30" stroke="#333" stroke-width="0.7"/>
<text x="272.40" y="586.20" font-size="7.90" fill="#111" font-weight="bold" text-anchor="middle" textLength="10.32" lengthAdjust="spacingAndGlyphs">0.0</text>
<line x1="286.00" y1="576.30" x2="286.00" y2="577.50" stroke="#333" stroke-width="0.6"/>
<line x1="296.30" y1="576.30" x2="296.30" y2="578.30" stroke="#333" stroke-width="0.7"/>
<text x="296.30" y="586.20" font-size="7.90" fill="#111" font-weight="bold" text-anchor="middle" textLength="10.32" lengthAdjust="spacingAndGlyphs">0.2</text>
<line x1="306.60" y1="576.30" x2="306.60" y2="577.50" stroke="#333" stroke-width="0.6"/>
<line x1="316.90" y1="576.30" x2="316.90" y2="578.30" stroke="#333" stroke-width="0.7"/>
<text x="316.90" y="586.20" font-size="7.90" fill="#111" font-weight="bold" text-anchor="middle" textLength="10.32" lengthAdjust="spacingAndGlyphs">0.4</text>
<line x1="327.20" y1="576.30" x2="327.20" y2="577.50" stroke="#333" stroke-width="0.6"/>
<line x1="337.50" y1="576.30" x2="337.50" y2="578.30" stroke="#333" stroke-width="0.7"/>
<text x="337.50" y="586.20" font-size="7.90" fill="#111" font-weight="bold" text-anchor="middle" textLength="10.32" lengthAdjust="spacingAndGlyphs">0.6</text>
<line x1="347.80" y1="576.30" x2="347.80" y2="577.50" stroke="#333" stroke-width="0.6"/>
<line x1="358.10" y1="576.30" x2="358.10" y2="578.30" stroke="#333" stroke-width="0.7"/>
<text x="358.10" y="586.20" font-size="7.90" fill="#111" font-weight="bold" text-anchor="middle" textLength="10.32" lengthAdjust="spacingAndGlyphs">0.8</text>
<line x1="368.40" y1="576.30" x2="368.40" y2="577.50" stroke="#333" stroke-width="0.6"/>
<line x1="378.70" y1="576.30" x2="378.70" y2="578.30" stroke="#333" stroke-width="0.7"/>
<text x="378.70" y="586.20" font-size="7.90" fill="#111" font-weight="bold" text-anchor="middle" textLength="10.32" lengthAdjust="spacingAndGlyphs">1.0</text>
<line x1="389.00" y1="576.30" x2="389.00" y2="577.50" stroke="#333" stroke-width="0.6"/>
<line x1="399.30" y1="576.30" x2="399.30" y2="578.30" stroke="#333" stroke-width="0.7"/>
<text x="399.30" y="586.20" font-size="7.90" fill="#111" font-weight="bold" text-anchor="middle" textLength="10.32" lengthAdjust="spacingAndGlyphs">1.2</text>
<line x1="409.60" y1="576.30" x2="409.60" y2="577.50" stroke="#333" stroke-width="0.6"/>
<line x1="419.90" y1="576.30" x2="419.90" y2="578.30" stroke="#333" stroke-width="0.7"/>
<text x="419.90" y="586.20" font-size="7.90" fill="#111" font-weight="bold" text-anchor="middle" textLength="10.32" lengthAdjust="spacingAndGlyphs">1.4</text>
<text x="351.00" y="597.00" font-size="7.60" fill="#111" font-weight="bold" text-anchor="middle" >Voltage (V)</text>
<text x="0.00" y="0.00" font-size="7.60" fill="#111" font-weight="bold" text-anchor="middle" transform="translate(256.8,515.6) rotate(-90)">Current density (mA cm<tspan font-size="5" dy="-2.6">-2</tspan><tspan dy="2.6">)</tspan></text>
<path d="M272.20,476.15 C272.37,476.15 272.88,476.14 273.23,476.14 C273.57,476.14 273.91,476.14 274.26,476.14 C274.60,476.14 274.94,476.14 275.29,476.14 C275.63,476.14 275.97,476.14 276.32,476.14 C276.66,476.14 277.00,476.14 277.35,476.14 C277.69,476.14 278.03,476.14 278.38,476.14 C278.72,476.15 279.06,476.15 279.41,476.15 C279.75,476.15 280.09,476.16 280.44,476.16 C280.78,476.17 281.12,476.17 281.47,476.17 C281.81,476.18 282.15,476.18 282.50,476.19 C282.84,476.19 283.18,476.20 283.53,476.21 C283.87,476.21 284.21,476.22 284.56,476.23 C284.90,476.23 285.24,476.24 285.59,476.25 C285.93,476.26 286.27,476.26 286.62,476.27 C286.96,476.28 287.30,476.29 287.65,476.30 C287.99,476.31 288.33,476.32 288.68,476.33 C289.02,476.34 289.36,476.35 289.71,476.36 C290.05,476.37 290.39,476.38 290.74,476.39 C291.08,476.41 291.42,476.42 291.77,476.43 C292.11,476.44 292.45,476.46 292.80,476.47 C293.14,476.48 293.48,476.50 293.83,476.51 C294.17,476.52 294.51,476.54 294.86,476.55 C295.20,476.57 295.54,476.58 295.89,476.60 C296.23,476.62 296.57,476.63 296.92,476.65 C297.26,476.67 297.60,476.68 297.95,476.70 C298.29,476.72 298.63,476.73 298.98,476.75 C299.32,476.77 299.66,476.79 300.01,476.81 C300.35,476.83 300.69,476.85 301.04,476.87 C301.38,476.89 301.72,476.91 302.07,476.93 C302.41,476.95 302.75,476.97 303.10,476.99 C303.44,477.01 303.78,477.03 304.13,477.06 C304.47,477.08 304.81,477.10 305.16,477.12 C305.50,477.15 305.84,477.17 306.19,477.19 C306.53,477.22 306.87,477.24 307.22,477.27 C307.56,477.29 307.90,477.32 308.25,477.34 C308.59,477.37 308.93,477.39 309.28,477.42 C309.62,477.45 309.96,477.47 310.31,477.50 C310.65,477.53 310.99,477.55 311.34,477.58 C311.68,477.61 312.02,477.64 312.37,477.67 C312.71,477.70 313.05,477.72 313.40,477.75 C313.74,477.78 314.08,477.81 314.43,477.84 C314.77,477.87 315.11,477.91 315.46,477.94 C315.80,477.97 316.14,478.00 316.49,478.03 C316.83,478.06 317.17,478.09 317.52,478.13 C317.86,478.16 318.20,478.19 318.55,478.23 C318.89,478.26 319.23,478.29 319.58,478.33 C319.92,478.36 320.26,478.40 320.61,478.43 C320.95,478.47 321.29,478.50 321.64,478.54 C321.98,478.58 322.32,478.61 322.67,478.65 C323.01,478.69 323.35,478.72 323.70,478.76 C324.04,478.80 324.38,478.84 324.73,478.87 C325.07,478.91 325.41,478.95 325.76,478.99 C326.10,479.03 326.44,479.07 326.79,479.11 C327.13,479.15 327.47,479.19 327.82,479.23 C328.16,479.27 328.50,479.31 328.85,479.35 C329.19,479.40 329.53,479.44 329.88,479.48 C330.22,479.52 330.56,479.56 330.91,479.61 C331.25,479.65 331.59,479.69 331.94,479.74 C332.28,479.78 332.62,479.83 332.97,479.87 C333.31,479.92 333.65,479.96 334.00,480.01 C334.34,480.05 334.68,480.10 335.03,480.15 C335.37,480.19 335.71,480.24 336.06,480.29 C336.40,480.33 336.74,480.38 337.09,480.43 C337.43,480.48 337.77,480.53 338.12,480.58 C338.46,480.62 338.80,480.67 339.15,480.72 C339.49,480.77 339.83,480.82 340.18,480.87 C340.52,480.93 340.86,480.98 341.21,481.03 C341.55,481.08 341.89,481.13 342.24,481.18 C342.58,481.24 342.92,481.29 343.27,481.34 C343.61,481.39 343.95,481.45 344.30,481.50 C344.64,481.56 344.98,481.61 345.33,481.66 C345.67,481.72 346.01,481.77 346.36,481.83 C346.70,481.89 347.04,481.94 347.39,482.00 C347.73,482.06 348.07,482.11 348.42,482.17 C348.76,482.23 349.10,482.28 349.45,482.34 C349.79,482.40 350.13,482.46 350.48,482.52 C350.82,482.58 351.16,482.64 351.51,482.70 C351.85,482.76 352.19,482.82 352.54,482.88 C352.88,482.94 353.22,483.00 353.57,483.06 C353.91,483.12 354.25,483.19 354.60,483.25 C354.94,483.31 355.28,483.38 355.63,483.44 C355.97,483.50 356.31,483.57 356.66,483.63 C357.00,483.70 357.34,483.76 357.69,483.83 C358.03,483.89 358.37,483.96 358.72,484.02 C359.06,484.09 359.40,484.16 359.75,484.23 C360.09,484.29 360.43,484.36 360.78,484.43 C361.12,484.50 361.46,484.57 361.81,484.64 C362.15,484.71 362.49,484.78 362.84,484.85 C363.18,484.92 363.52,484.99 363.87,485.06 C364.21,485.13 364.55,485.21 364.90,485.28 C365.24,485.35 365.58,485.43 365.93,485.50 C366.27,485.58 366.61,485.65 366.96,485.73 C367.30,485.80 367.64,485.88 367.99,485.96 C368.33,486.03 368.67,486.11 369.02,486.19 C369.36,486.27 369.70,486.35 370.05,486.43 C370.39,486.51 370.73,486.59 371.08,486.67 C371.42,486.75 371.76,486.83 372.11,486.92 C372.45,487.00 372.79,487.08 373.14,487.17 C373.48,487.25 373.82,487.34 374.17,487.43 C374.51,487.51 374.85,487.60 375.20,487.69 C375.54,487.78 375.88,487.87 376.23,487.96 C376.57,488.05 376.91,488.15 377.26,488.24 C377.60,488.33 377.94,488.43 378.29,488.52 C378.63,488.62 378.97,488.72 379.32,488.82 C379.66,488.92 380.00,489.02 380.35,489.12 C380.69,489.22 381.03,489.33 381.38,489.43 C381.72,489.54 382.06,489.65 382.41,489.76 C382.75,489.87 383.09,489.98 383.44,490.09 C383.78,490.21 384.12,490.32 384.47,490.44 C384.81,490.56 385.15,490.68 385.50,490.80 C385.84,490.93 386.18,491.05 386.53,491.18 C386.87,491.31 387.21,491.45 387.56,491.58 C387.90,491.72 388.24,491.86 388.59,492.00 C388.93,492.14 389.27,492.29 389.62,492.44 C389.96,492.59 390.30,492.74 390.65,492.90 C390.99,493.06 391.33,493.22 391.68,493.39 C392.02,493.56 392.36,493.73 392.71,493.91 C393.05,494.09 393.39,494.28 393.74,494.47 C394.08,494.66 394.42,494.86 394.77,495.06 C395.11,495.27 395.45,495.48 395.80,495.70 C396.14,495.92 396.48,496.15 396.83,496.38 C397.17,496.62 397.51,496.87 397.86,497.12 C398.20,497.38 398.54,497.64 398.89,497.92 C399.23,498.20 399.57,498.49 399.92,498.79 C400.26,499.09 400.60,499.40 400.95,499.73 C401.29,500.06 401.63,500.40 401.98,500.76 C402.32,501.12 402.66,501.50 403.01,501.89 C403.35,502.28 403.69,502.69 404.04,503.12 C404.38,503.55 404.72,504.00 405.07,504.48 C405.41,504.95 405.75,505.45 406.10,505.97 C406.44,506.50 406.78,507.04 407.13,507.62 C407.47,508.20 407.81,508.80 408.16,509.44 C408.50,510.08 408.84,510.75 409.19,511.46 C409.53,512.17 409.87,512.91 410.22,513.70 C410.56,514.49 410.90,515.31 411.25,516.19 C411.59,517.07 411.93,517.98 412.28,518.96 C412.62,519.93 412.96,520.96 413.31,522.04 C413.65,523.13 413.99,524.27 414.34,525.49 C414.68,526.70 415.02,527.97 415.37,529.33 C415.71,530.69 416.05,532.11 416.40,533.62 C416.74,535.14 417.08,536.73 417.43,538.43 C417.77,540.13 418.11,541.91 418.46,543.81 C418.80,545.71 419.14,547.71 419.49,549.84 C419.83,551.97 420.17,554.21 420.52,556.60 C420.86,558.99 421.20,561.51 421.55,564.19 C421.89,566.87 422.34,570.69 422.58,572.71 C422.82,574.72 422.92,575.70 422.99,576.30" fill="none" stroke="#4a78c0" stroke-width="0.9"/>
<path d="M272.20,471.32 C272.37,471.32 272.88,471.32 273.23,471.31 C273.57,471.31 273.91,471.31 274.26,471.31 C274.60,471.31 274.94,471.30 275.29,471.30 C275.63,471.30 275.97,471.30 276.32,471.30 C276.66,471.31 277.00,471.31 277.35,471.31 C277.69,471.31 278.03,471.31 278.38,471.32 C278.72,471.32 279.06,471.32 279.41,471.33 C279.75,471.33 280.09,471.33 280.44,471.34 C280.78,471.35 281.12,471.35 281.47,471.36 C281.81,471.36 282.15,471.37 282.50,471.38 C282.84,471.39 283.18,471.39 283.53,471.40 C283.87,471.41 284.21,471.42 284.56,471.43 C284.90,471.44 285.24,471.45 285.59,471.46 C285.93,471.47 286.27,471.48 286.62,471.49 C286.96,471.51 287.30,471.52 287.65,471.53 C287.99,471.54 288.33,471.56 288.68,471.57 C289.02,471.59 289.36,471.60 289.71,471.62 C290.05,471.63 290.39,471.65 290.74,471.66 C291.08,471.68 291.42,471.70 291.77,471.72 C292.11,471.73 292.45,471.75 292.80,471.77 C293.14,471.79 293.48,471.81 293.83,471.83 C294.17,471.85 294.51,471.87 294.86,471.89 C295.20,471.91 295.54,471.93 295.89,471.95 C296.23,471.98 296.57,472.00 296.92,472.02 C297.26,472.05 297.60,472.07 297.95,472.09 C298.29,472.12 298.63,472.14 298.98,472.17 C299.32,472.19 299.66,472.22 300.01,472.25 C300.35,472.27 300.69,472.30 301.04,472.33 C301.38,472.36 301.72,472.38 302.07,472.41 C302.41,472.44 302.75,472.47 303.10,472.50 C303.44,472.53 303.78,472.56 304.13,472.59 C304.47,472.63 304.81,472.66 305.16,472.69 C305.50,472.72 305.84,472.75 306.19,472.79 C306.53,472.82 306.87,472.86 307.22,472.89 C307.56,472.92 307.90,472.96 308.25,473.00 C308.59,473.03 308.93,473.07 309.28,473.10 C309.62,473.14 309.96,473.18 310.31,473.22 C310.65,473.25 310.99,473.29 311.34,473.33 C311.68,473.37 312.02,473.41 312.37,473.45 C312.71,473.49 313.05,473.53 313.40,473.57 C313.74,473.61 314.08,473.66 314.43,473.70 C314.77,473.74 315.11,473.78 315.46,473.83 C315.80,473.87 316.14,473.92 316.49,473.96 C316.83,474.01 317.17,474.05 317.52,474.10 C317.86,474.14 318.20,474.19 318.55,474.24 C318.89,474.28 319.23,474.33 319.58,474.38 C319.92,474.43 320.26,474.48 320.61,474.53 C320.95,474.58 321.29,474.63 321.64,474.68 C321.98,474.73 322.32,474.78 322.67,474.83 C323.01,474.88 323.35,474.93 323.70,474.99 C324.04,475.04 324.38,475.09 324.73,475.15 C325.07,475.20 325.41,475.26 325.76,475.31 C326.10,475.37 326.44,475.42 326.79,475.48 C327.13,475.54 327.47,475.59 327.82,475.65 C328.16,475.71 328.50,475.77 328.85,475.82 C329.19,475.88 329.53,475.94 329.88,476.00 C330.22,476.06 330.56,476.12 330.91,476.18 C331.25,476.25 331.59,476.31 331.94,476.37 C332.28,476.43 332.62,476.50 332.97,476.56 C333.31,476.62 333.65,476.69 334.00,476.75 C334.34,476.82 334.68,476.88 335.03,476.95 C335.37,477.01 335.71,477.08 336.06,477.15 C336.40,477.21 336.74,477.28 337.09,477.35 C337.43,477.42 337.77,477.49 338.12,477.56 C338.46,477.63 338.80,477.70 339.15,477.77 C339.49,477.84 339.83,477.91 340.18,477.98 C340.52,478.06 340.86,478.13 341.21,478.20 C341.55,478.28 341.89,478.35 342.24,478.43 C342.58,478.50 342.92,478.58 343.27,478.65 C343.61,478.73 343.95,478.81 344.30,478.88 C344.64,478.96 344.98,479.04 345.33,479.12 C345.67,479.20 346.01,479.28 346.36,479.36 C346.70,479.44 347.04,479.52 347.39,479.60 C347.73,479.69 348.07,479.77 348.42,479.85 C348.76,479.94 349.10,480.02 349.45,480.11 C349.79,480.19 350.13,480.28 350.48,480.36 C350.82,480.45 351.16,480.54 351.51,480.63 C351.85,480.71 352.19,480.80 352.54,480.89 C352.88,480.98 353.22,481.07 353.57,481.17 C353.91,481.26 354.25,481.35 354.60,481.44 C354.94,481.54 355.28,481.63 355.63,481.73 C355.97,481.82 356.31,481.92 356.66,482.02 C357.00,482.11 357.34,482.21 357.69,482.31 C358.03,482.41 358.37,482.51 358.72,482.61 C359.06,482.71 359.40,482.82 359.75,482.92 C360.09,483.03 360.43,483.13 360.78,483.24 C361.12,483.34 361.46,483.45 361.81,483.56 C362.15,483.67 362.49,483.78 362.84,483.89 C363.18,484.00 363.52,484.11 363.87,484.23 C364.21,484.34 364.55,484.46 364.90,484.57 C365.24,484.69 365.58,484.81 365.93,484.93 C366.27,485.05 366.61,485.17 366.96,485.30 C367.30,485.42 367.64,485.55 367.99,485.67 C368.33,485.80 368.67,485.93 369.02,486.06 C369.36,486.19 369.70,486.33 370.05,486.46 C370.39,486.60 370.73,486.74 371.08,486.88 C371.42,487.02 371.76,487.16 372.11,487.30 C372.45,487.45 372.79,487.60 373.14,487.75 C373.48,487.90 373.82,488.05 374.17,488.21 C374.51,488.36 374.85,488.52 375.20,488.68 C375.54,488.84 375.88,489.01 376.23,489.18 C376.57,489.35 376.91,489.52 377.26,489.70 C377.60,489.87 377.94,490.05 378.29,490.24 C378.63,490.42 378.97,490.61 379.32,490.80 C379.66,490.99 380.00,491.19 380.35,491.39 C380.69,491.60 381.03,491.80 381.38,492.02 C381.72,492.23 382.06,492.45 382.41,492.67 C382.75,492.90 383.09,493.12 383.44,493.36 C383.78,493.60 384.12,493.84 384.47,494.09 C384.81,494.34 385.15,494.60 385.50,494.86 C385.84,495.13 386.18,495.40 386.53,495.68 C386.87,495.96 387.21,496.25 387.56,496.55 C387.90,496.85 388.24,497.16 388.59,497.48 C388.93,497.80 389.27,498.13 389.62,498.47 C389.96,498.81 390.30,499.16 390.65,499.52 C390.99,499.89 391.33,500.26 391.68,500.66 C392.02,501.05 392.36,501.45 392.71,501.87 C393.05,502.29 393.39,502.72 393.74,503.17 C394.08,503.63 394.42,504.09 394.77,504.58 C395.11,505.07 395.45,505.57 395.80,506.10 C396.14,506.62 396.48,507.16 396.83,507.73 C397.17,508.30 397.51,508.89 397.86,509.50 C398.20,510.12 398.54,510.76 398.89,511.42 C399.23,512.09 399.57,512.78 399.92,513.50 C400.26,514.23 400.60,514.98 400.95,515.76 C401.29,516.55 401.63,517.37 401.98,518.22 C402.32,519.08 402.66,519.97 403.01,520.90 C403.35,521.83 403.69,522.80 404.04,523.82 C404.38,524.84 404.72,525.89 405.07,527.00 C405.41,528.11 405.75,529.27 406.10,530.48 C406.44,531.70 406.78,532.96 407.13,534.29 C407.47,535.61 407.81,536.99 408.16,538.45 C408.50,539.90 408.84,541.41 409.19,543.00 C409.53,544.59 409.87,546.25 410.22,548.00 C410.56,549.74 410.90,551.56 411.25,553.47 C411.59,555.39 411.93,557.38 412.28,559.48 C412.62,561.58 412.96,563.77 413.31,566.08 C413.65,568.38 414.10,571.62 414.34,573.32 C414.58,575.03 414.68,575.80 414.75,576.30" fill="none" stroke="#d8405a" stroke-width="0.9"/>
<text x="377.60" y="503.00" font-size="6.60" fill="#e84040" font-weight="normal" text-anchor="middle" >7.2 %</text>
<text x="415.10" y="503.00" font-size="6.60" fill="#4a78c0" font-weight="normal" text-anchor="middle" >7.8 %</text>
<linearGradient id="g383" x1="0" y1="1" x2="0" y2="0"><stop offset="0" stop-color="#f05a50" stop-opacity="0.2"/><stop offset="0.5" stop-color="#ee4a44"/><stop offset="1" stop-color="#ee4a44"/></linearGradient>
<polygon points="280.60,460.40 284.00,468.80 282.00,468.20 281.40,484.50 279.80,484.50 279.20,468.20 277.20,468.80" fill="url(#g383)" />
<linearGradient id="g384" x1="0" y1="0" x2="1" y2="0"><stop offset="0" stop-color="#1a64c0"/><stop offset="0.6" stop-color="#1a64c0"/><stop offset="1" stop-color="#4a90e0" stop-opacity="0.3"/></linearGradient>
<polygon points="403.30,566.90 410.50,563.60 410.50,565.80 426.00,566.20 426.00,567.60 410.50,568.00 410.50,570.20" fill="url(#g384)" />
<line x1="280.4" y1="555.2" x2="293.8" y2="555.2" stroke="#4a78c0" stroke-width="0.9"/>
<line x1="280.4" y1="564.9" x2="293.8" y2="564.9" stroke="#d8405a" stroke-width="0.9"/>
<text x="296.50" y="557.60" font-size="6.30" fill="#222" font-weight="normal" text-anchor="start" >FAPbBr<tspan font-size="4.4" dy="1.3">3</tspan><tspan dy="-1.3">/Carbon 10 &#176;C</tspan></text>
<text x="296.50" y="567.30" font-size="6.30" fill="#222" font-weight="normal" text-anchor="start" >FAPbBr<tspan font-size="4.4" dy="1.3">3</tspan><tspan dy="-1.3">/Carbon 50 &#176;C</tspan></text>
<text x="447.60" y="456.60" font-size="9.50" fill="#111" font-weight="bold" text-anchor="start" >q</text>
<rect x="470.20" y="455.30" width="158.40" height="121.00" fill="none" stroke="#333" stroke-width="0.9"/>
<line x1="468.20" y1="575.80" x2="470.20" y2="575.80" stroke="#333" stroke-width="0.7"/>
<text x="467.00" y="578.65" font-size="7.90" fill="#111" font-weight="bold" text-anchor="end" textLength="4.13" lengthAdjust="spacingAndGlyphs">0</text>
<line x1="468.20" y1="551.70" x2="470.20" y2="551.70" stroke="#333" stroke-width="0.7"/>
<text x="467.00" y="554.55" font-size="7.90" fill="#111" font-weight="bold" text-anchor="end" textLength="4.13" lengthAdjust="spacingAndGlyphs">2</text>
<line x1="468.20" y1="527.60" x2="470.20" y2="527.60" stroke="#333" stroke-width="0.7"/>
<text x="467.00" y="530.45" font-size="7.90" fill="#111" font-weight="bold" text-anchor="end" textLength="4.13" lengthAdjust="spacingAndGlyphs">4</text>
<line x1="468.20" y1="503.50" x2="470.20" y2="503.50" stroke="#333" stroke-width="0.7"/>
<text x="467.00" y="506.35" font-size="7.90" fill="#111" font-weight="bold" text-anchor="end" textLength="4.13" lengthAdjust="spacingAndGlyphs">6</text>
<line x1="468.20" y1="479.40" x2="470.20" y2="479.40" stroke="#333" stroke-width="0.7"/>
<text x="467.00" y="482.25" font-size="7.90" fill="#111" font-weight="bold" text-anchor="end" textLength="4.13" lengthAdjust="spacingAndGlyphs">8</text>
<line x1="468.20" y1="455.30" x2="470.20" y2="455.30" stroke="#333" stroke-width="0.7"/>
<text x="467.00" y="458.15" font-size="7.90" fill="#111" font-weight="bold" text-anchor="end" textLength="8.26" lengthAdjust="spacingAndGlyphs">10</text>
<line x1="469.00" y1="563.75" x2="470.20" y2="563.75" stroke="#333" stroke-width="0.6"/>
<line x1="469.00" y1="539.65" x2="470.20" y2="539.65" stroke="#333" stroke-width="0.6"/>
<line x1="469.00" y1="515.55" x2="470.20" y2="515.55" stroke="#333" stroke-width="0.6"/>
<line x1="469.00" y1="491.45" x2="470.20" y2="491.45" stroke="#333" stroke-width="0.6"/>
<line x1="469.00" y1="467.35" x2="470.20" y2="467.35" stroke="#333" stroke-width="0.6"/>
<line x1="489.60" y1="576.30" x2="489.60" y2="578.30" stroke="#333" stroke-width="0.7"/>
<text x="489.60" y="586.20" font-size="7.90" fill="#111" font-weight="bold" text-anchor="middle" textLength="12.79" lengthAdjust="spacingAndGlyphs">-1.2</text>
<line x1="524.20" y1="576.30" x2="524.20" y2="578.30" stroke="#333" stroke-width="0.7"/>
<text x="524.20" y="586.20" font-size="7.90" fill="#111" font-weight="bold" text-anchor="middle" textLength="12.79" lengthAdjust="spacingAndGlyphs">-1.0</text>
<line x1="558.80" y1="576.30" x2="558.80" y2="578.30" stroke="#333" stroke-width="0.7"/>
<text x="558.80" y="586.20" font-size="7.90" fill="#111" font-weight="bold" text-anchor="middle" textLength="12.79" lengthAdjust="spacingAndGlyphs">-0.8</text>
<line x1="593.40" y1="576.30" x2="593.40" y2="578.30" stroke="#333" stroke-width="0.7"/>
<text x="593.40" y="586.20" font-size="7.90" fill="#111" font-weight="bold" text-anchor="middle" textLength="12.79" lengthAdjust="spacingAndGlyphs">-0.6</text>
<line x1="628.00" y1="576.30" x2="628.00" y2="578.30" stroke="#333" stroke-width="0.7"/>
<text x="628.00" y="586.20" font-size="7.90" fill="#111" font-weight="bold" text-anchor="middle" textLength="12.79" lengthAdjust="spacingAndGlyphs">-0.4</text>
<line x1="472.30" y1="576.30" x2="472.30" y2="577.50" stroke="#333" stroke-width="0.6"/>
<line x1="506.90" y1="576.30" x2="506.90" y2="577.50" stroke="#333" stroke-width="0.6"/>
<line x1="541.50" y1="576.30" x2="541.50" y2="577.50" stroke="#333" stroke-width="0.6"/>
<line x1="576.10" y1="576.30" x2="576.10" y2="577.50" stroke="#333" stroke-width="0.6"/>
<line x1="610.70" y1="576.30" x2="610.70" y2="577.50" stroke="#333" stroke-width="0.6"/>
<text x="552.40" y="597.00" font-size="7.60" fill="#111" font-weight="bold" text-anchor="middle" >(<tspan font-style="italic">E</tspan>-<tspan font-style="italic">E</tspan><tspan font-size="4.6" dy="1.4" font-style="italic">OER</tspan><tspan dy="-1.4">)</tspan><tspan font-size="4.6" dy="1.4" font-style="italic">T</tspan><tspan dy="-1.4"> (V)</tspan></text>
<text x="0.00" y="0.00" font-size="7.60" fill="#111" font-weight="bold" text-anchor="middle" transform="translate(452.8,515.6) rotate(-90)">Current density (mA cm<tspan font-size="5" dy="-2.6">-2</tspan><tspan dy="2.6">)</tspan></text>
<path d="M470.74,574.01 C471.03,573.94 471.90,573.76 472.47,573.60 C473.05,573.44 473.63,573.26 474.20,573.04 C474.78,572.82 475.36,572.57 475.93,572.27 C476.51,571.97 477.09,571.63 477.66,571.23 C478.24,570.83 478.82,570.38 479.39,569.84 C479.97,569.31 480.55,568.72 481.12,568.02 C481.70,567.33 482.28,566.56 482.85,565.68 C483.43,564.80 484.01,563.82 484.58,562.74 C485.16,561.66 485.74,560.47 486.31,559.18 C486.89,557.90 487.47,556.50 488.04,555.04 C488.62,553.58 489.20,552.01 489.77,550.43 C490.35,548.85 490.93,547.19 491.50,545.56 C492.08,543.93 492.66,542.26 493.23,540.67 C493.81,539.07 494.39,537.49 494.96,536.00 C495.54,534.51 496.12,533.07 496.69,531.74 C497.27,530.41 497.85,529.15 498.42,528.00 C499.00,526.84 499.58,525.78 500.15,524.80 C500.73,523.82 501.31,522.94 501.88,522.11 C502.46,521.29 503.04,520.55 503.61,519.86 C504.19,519.16 504.77,518.54 505.34,517.95 C505.92,517.36 506.50,516.82 507.07,516.31 C507.65,515.79 508.23,515.32 508.80,514.86 C509.38,514.39 509.96,513.96 510.53,513.54 C511.11,513.12 511.69,512.72 512.26,512.32 C512.84,511.92 513.42,511.54 513.99,511.16 C514.57,510.78 515.15,510.41 515.72,510.04 C516.30,509.68 516.88,509.31 517.45,508.95 C518.03,508.60 518.61,508.24 519.18,507.89 C519.76,507.53 520.34,507.18 520.91,506.84 C521.49,506.49 522.07,506.14 522.64,505.80 C523.22,505.46 523.80,505.12 524.37,504.78 C524.95,504.44 525.53,504.10 526.10,503.77 C526.68,503.44 527.26,503.11 527.83,502.78 C528.41,502.45 528.99,502.13 529.56,501.81 C530.14,501.49 530.72,501.17 531.29,500.85 C531.87,500.54 532.45,500.23 533.02,499.92 C533.60,499.61 534.18,499.30 534.75,499.00 C535.33,498.70 535.91,498.40 536.48,498.10 C537.06,497.81 537.64,497.51 538.21,497.23 C538.79,496.94 539.37,496.65 539.94,496.37 C540.52,496.09 541.10,495.81 541.67,495.53 C542.25,495.26 542.83,494.98 543.40,494.72 C543.98,494.45 544.56,494.18 545.13,493.92 C545.71,493.66 546.29,493.40 546.86,493.14 C547.44,492.89 548.02,492.63 548.59,492.38 C549.17,492.13 549.75,491.89 550.32,491.64 C550.90,491.40 551.48,491.16 552.05,490.92 C552.63,490.69 553.21,490.45 553.78,490.22 C554.36,489.99 554.94,489.76 555.51,489.54 C556.09,489.31 556.67,489.09 557.24,488.87 C557.82,488.65 558.40,488.43 558.97,488.22 C559.55,488.00 560.13,487.79 560.70,487.58 C561.28,487.38 561.86,487.17 562.43,486.97 C563.01,486.76 563.59,486.56 564.16,486.36 C564.74,486.17 565.32,485.97 565.89,485.78 C566.47,485.58 567.05,485.39 567.62,485.20 C568.20,485.02 568.78,484.83 569.35,484.65 C569.93,484.46 570.51,484.28 571.08,484.10 C571.66,483.92 572.24,483.75 572.81,483.57 C573.39,483.40 573.97,483.23 574.54,483.06 C575.12,482.88 575.70,482.72 576.27,482.55 C576.85,482.38 577.43,482.22 578.00,482.06 C578.58,481.90 579.16,481.74 579.73,481.58 C580.31,481.42 580.89,481.27 581.46,481.11 C582.04,480.96 582.62,480.80 583.19,480.65 C583.77,480.50 584.35,480.36 584.92,480.21 C585.50,480.06 586.08,479.92 586.65,479.77 C587.23,479.63 587.81,479.49 588.38,479.35 C588.96,479.21 589.54,479.07 590.11,478.94 C590.69,478.80 591.27,478.67 591.84,478.53 C592.42,478.40 593.00,478.27 593.57,478.14 C594.15,478.01 594.73,477.88 595.30,477.75 C595.88,477.63 596.46,477.50 597.03,477.38 C597.61,477.26 598.19,477.13 598.76,477.01 C599.34,476.89 599.92,476.77 600.49,476.65 C601.07,476.54 601.65,476.42 602.22,476.30 C602.80,476.19 603.38,476.08 603.95,475.96 C604.53,475.85 605.11,475.74 605.68,475.63 C606.26,475.52 606.84,475.41 607.41,475.30 C607.99,475.20 608.57,475.09 609.14,474.99 C609.72,474.88 610.30,474.78 610.87,474.67 C611.45,474.57 612.03,474.47 612.60,474.37 C613.18,474.27 613.76,474.17 614.33,474.07 C614.91,473.97 615.49,473.88 616.06,473.78 C616.64,473.69 617.22,473.59 617.79,473.50 C618.37,473.40 618.95,473.31 619.52,473.22 C620.10,473.13 620.68,473.04 621.25,472.95 C621.83,472.86 622.41,472.77 622.98,472.68 C623.56,472.60 624.14,472.51 624.71,472.42 C625.29,472.34 625.90,472.25 626.44,472.17 C626.99,472.09 627.74,471.98 628.00,471.95" fill="none" stroke="#e0407a" stroke-width="0.8"/>
<path d="M470.74,573.94 C471.03,573.87 471.90,573.68 472.47,573.50 C473.05,573.33 473.63,573.14 474.20,572.90 C474.78,572.67 475.36,572.41 475.93,572.09 C476.51,571.77 477.09,571.41 477.66,570.98 C478.24,570.56 478.82,570.08 479.39,569.52 C479.97,568.96 480.55,568.33 481.12,567.60 C481.70,566.87 482.28,566.06 482.85,565.14 C483.43,564.23 484.01,563.21 484.58,562.09 C485.16,560.96 485.74,559.73 486.31,558.41 C486.89,557.09 487.47,555.65 488.04,554.17 C488.62,552.68 489.20,551.09 489.77,549.49 C490.35,547.90 490.93,546.23 491.50,544.61 C492.08,542.99 492.66,541.33 493.23,539.76 C493.81,538.18 494.39,536.63 494.96,535.17 C495.54,533.72 496.12,532.33 496.69,531.04 C497.27,529.74 497.85,528.54 498.42,527.43 C499.00,526.32 499.58,525.31 500.15,524.37 C500.73,523.43 501.31,522.59 501.88,521.80 C502.46,521.02 503.04,520.32 503.61,519.66 C504.19,519.00 504.77,518.41 505.34,517.85 C505.92,517.29 506.50,516.78 507.07,516.29 C507.65,515.80 508.23,515.35 508.80,514.91 C509.38,514.48 509.96,514.07 510.53,513.66 C511.11,513.26 511.69,512.88 512.26,512.50 C512.84,512.12 513.42,511.76 513.99,511.40 C514.57,511.03 515.15,510.68 515.72,510.33 C516.30,509.98 516.88,509.63 517.45,509.29 C518.03,508.95 518.61,508.61 519.18,508.27 C519.76,507.93 520.34,507.60 520.91,507.26 C521.49,506.93 522.07,506.60 522.64,506.27 C523.22,505.94 523.80,505.62 524.37,505.30 C524.95,504.97 525.53,504.65 526.10,504.33 C526.68,504.02 527.26,503.70 527.83,503.39 C528.41,503.08 528.99,502.77 529.56,502.46 C530.14,502.15 530.72,501.85 531.29,501.55 C531.87,501.25 532.45,500.95 533.02,500.65 C533.60,500.36 534.18,500.07 534.75,499.78 C535.33,499.49 535.91,499.21 536.48,498.92 C537.06,498.64 537.64,498.36 538.21,498.09 C538.79,497.81 539.37,497.54 539.94,497.27 C540.52,497.00 541.10,496.74 541.67,496.48 C542.25,496.21 542.83,495.95 543.40,495.70 C543.98,495.44 544.56,495.19 545.13,494.94 C545.71,494.69 546.29,494.45 546.86,494.20 C547.44,493.96 548.02,493.72 548.59,493.48 C549.17,493.25 549.75,493.01 550.32,492.78 C550.90,492.55 551.48,492.32 552.05,492.10 C552.63,491.87 553.21,491.65 553.78,491.43 C554.36,491.22 554.94,491.00 555.51,490.79 C556.09,490.57 556.67,490.36 557.24,490.15 C557.82,489.95 558.40,489.74 558.97,489.54 C559.55,489.34 560.13,489.14 560.70,488.94 C561.28,488.74 561.86,488.55 562.43,488.36 C563.01,488.16 563.59,487.98 564.16,487.79 C564.74,487.60 565.32,487.42 565.89,487.23 C566.47,487.05 567.05,486.87 567.62,486.70 C568.20,486.52 568.78,486.34 569.35,486.17 C569.93,486.00 570.51,485.83 571.08,485.66 C571.66,485.49 572.24,485.32 572.81,485.16 C573.39,484.99 573.97,484.83 574.54,484.67 C575.12,484.51 575.70,484.36 576.27,484.20 C576.85,484.04 577.43,483.89 578.00,483.74 C578.58,483.59 579.16,483.44 579.73,483.29 C580.31,483.14 580.89,482.99 581.46,482.85 C582.04,482.71 582.62,482.56 583.19,482.42 C583.77,482.28 584.35,482.14 584.92,482.01 C585.50,481.87 586.08,481.73 586.65,481.60 C587.23,481.47 587.81,481.33 588.38,481.20 C588.96,481.07 589.54,480.95 590.11,480.82 C590.69,480.69 591.27,480.57 591.84,480.44 C592.42,480.32 593.00,480.20 593.57,480.07 C594.15,479.95 594.73,479.83 595.30,479.72 C595.88,479.60 596.46,479.48 597.03,479.37 C597.61,479.25 598.19,479.14 598.76,479.03 C599.34,478.91 599.92,478.80 600.49,478.69 C601.07,478.58 601.65,478.48 602.22,478.37 C602.80,478.26 603.38,478.16 603.95,478.05 C604.53,477.95 605.11,477.85 605.68,477.74 C606.26,477.64 606.84,477.54 607.41,477.44 C607.99,477.34 608.57,477.25 609.14,477.15 C609.72,477.05 610.30,476.96 610.87,476.86 C611.45,476.77 612.03,476.67 612.60,476.58 C613.18,476.49 613.76,476.40 614.33,476.31 C614.91,476.22 615.49,476.13 616.06,476.04 C616.64,475.95 617.22,475.86 617.79,475.78 C618.37,475.69 618.95,475.61 619.52,475.52 C620.10,475.44 620.68,475.36 621.25,475.27 C621.83,475.19 622.41,475.11 622.98,475.03 C623.56,474.95 624.14,474.87 624.71,474.79 C625.29,474.71 625.90,474.63 626.44,474.56 C626.99,474.49 627.74,474.39 628.00,474.35" fill="none" stroke="#f0a090" stroke-width="0.8"/>
<path d="M470.74,573.86 C471.03,573.79 471.90,573.58 472.47,573.40 C473.05,573.21 473.63,573.01 474.20,572.76 C474.78,572.51 475.36,572.23 475.93,571.89 C476.51,571.55 477.09,571.18 477.66,570.72 C478.24,570.27 478.82,569.77 479.39,569.18 C479.97,568.58 480.55,567.92 481.12,567.16 C481.70,566.39 482.28,565.55 482.85,564.59 C483.43,563.63 484.01,562.57 484.58,561.41 C485.16,560.24 485.74,558.97 486.31,557.61 C486.89,556.26 487.47,554.79 488.04,553.28 C488.62,551.77 489.20,550.15 489.77,548.55 C490.35,546.95 490.93,545.28 491.50,543.66 C492.08,542.05 492.66,540.41 493.23,538.86 C493.81,537.31 494.39,535.79 494.96,534.37 C495.54,532.96 496.12,531.61 496.69,530.36 C497.27,529.11 497.85,527.95 498.42,526.89 C499.00,525.82 499.58,524.85 500.15,523.96 C500.73,523.06 501.31,522.26 501.88,521.52 C502.46,520.77 503.04,520.11 503.61,519.48 C504.19,518.86 504.77,518.30 505.34,517.76 C505.92,517.23 506.50,516.75 507.07,516.29 C507.65,515.82 508.23,515.40 508.80,514.98 C509.38,514.56 509.96,514.18 510.53,513.79 C511.11,513.41 511.69,513.05 512.26,512.69 C512.84,512.33 513.42,511.98 513.99,511.63 C514.57,511.29 515.15,510.95 515.72,510.62 C516.30,510.28 516.88,509.95 517.45,509.63 C518.03,509.30 518.61,508.97 519.18,508.65 C519.76,508.33 520.34,508.01 520.91,507.69 C521.49,507.38 522.07,507.06 522.64,506.75 C523.22,506.43 523.80,506.12 524.37,505.81 C524.95,505.51 525.53,505.20 526.10,504.90 C526.68,504.59 527.26,504.29 527.83,504.00 C528.41,503.70 528.99,503.40 529.56,503.11 C530.14,502.82 530.72,502.53 531.29,502.24 C531.87,501.95 532.45,501.67 533.02,501.39 C533.60,501.11 534.18,500.83 534.75,500.56 C535.33,500.28 535.91,500.01 536.48,499.74 C537.06,499.48 537.64,499.21 538.21,498.95 C538.79,498.69 539.37,498.43 539.94,498.17 C540.52,497.92 541.10,497.67 541.67,497.42 C542.25,497.17 542.83,496.92 543.40,496.68 C543.98,496.44 544.56,496.20 545.13,495.96 C545.71,495.73 546.29,495.50 546.86,495.27 C547.44,495.03 548.02,494.81 548.59,494.58 C549.17,494.36 549.75,494.14 550.32,493.92 C550.90,493.70 551.48,493.49 552.05,493.28 C552.63,493.06 553.21,492.85 553.78,492.65 C554.36,492.44 554.94,492.24 555.51,492.03 C556.09,491.83 556.67,491.64 557.24,491.44 C557.82,491.24 558.40,491.05 558.97,490.86 C559.55,490.67 560.13,490.48 560.70,490.30 C561.28,490.11 561.86,489.93 562.43,489.75 C563.01,489.57 563.59,489.39 564.16,489.21 C564.74,489.04 565.32,488.86 565.89,488.69 C566.47,488.52 567.05,488.35 567.62,488.19 C568.20,488.02 568.78,487.85 569.35,487.69 C569.93,487.53 570.51,487.37 571.08,487.21 C571.66,487.06 572.24,486.90 572.81,486.75 C573.39,486.59 573.97,486.44 574.54,486.29 C575.12,486.14 575.70,485.99 576.27,485.85 C576.85,485.70 577.43,485.56 578.00,485.42 C578.58,485.28 579.16,485.14 579.73,485.00 C580.31,484.86 580.89,484.72 581.46,484.59 C582.04,484.45 582.62,484.32 583.19,484.19 C583.77,484.06 584.35,483.93 584.92,483.80 C585.50,483.68 586.08,483.55 586.65,483.43 C587.23,483.30 587.81,483.18 588.38,483.06 C588.96,482.94 589.54,482.82 590.11,482.70 C590.69,482.58 591.27,482.47 591.84,482.35 C592.42,482.24 593.00,482.12 593.57,482.01 C594.15,481.90 594.73,481.79 595.30,481.68 C595.88,481.57 596.46,481.46 597.03,481.36 C597.61,481.25 598.19,481.14 598.76,481.04 C599.34,480.94 599.92,480.84 600.49,480.73 C601.07,480.63 601.65,480.53 602.22,480.44 C602.80,480.34 603.38,480.24 603.95,480.14 C604.53,480.05 605.11,479.95 605.68,479.86 C606.26,479.77 606.84,479.67 607.41,479.58 C607.99,479.49 608.57,479.40 609.14,479.31 C609.72,479.22 610.30,479.14 610.87,479.05 C611.45,478.96 612.03,478.88 612.60,478.79 C613.18,478.71 613.76,478.62 614.33,478.54 C614.91,478.46 615.49,478.38 616.06,478.30 C616.64,478.22 617.22,478.14 617.79,478.06 C618.37,477.98 618.95,477.90 619.52,477.82 C620.10,477.75 620.68,477.67 621.25,477.60 C621.83,477.52 622.41,477.45 622.98,477.38 C623.56,477.30 624.14,477.23 624.71,477.16 C625.29,477.09 625.90,477.01 626.44,476.95 C626.99,476.88 627.74,476.79 628.00,476.76" fill="none" stroke="#b8e090" stroke-width="0.8"/>
<path d="M470.74,573.78 C471.03,573.70 471.90,573.48 472.47,573.29 C473.05,573.09 473.63,572.87 474.20,572.61 C474.78,572.34 475.36,572.04 475.93,571.68 C476.51,571.33 477.09,570.93 477.66,570.45 C478.24,569.97 478.82,569.44 479.39,568.81 C479.97,568.19 480.55,567.49 481.12,566.69 C481.70,565.89 482.28,565.00 482.85,564.01 C483.43,563.01 484.01,561.90 484.58,560.70 C485.16,559.50 485.74,558.19 486.31,556.80 C486.89,555.41 487.47,553.90 488.04,552.37 C488.62,550.84 489.20,549.21 489.77,547.60 C490.35,545.99 490.93,544.33 491.50,542.72 C492.08,541.12 492.66,539.50 493.23,537.98 C493.81,536.46 494.39,534.98 494.96,533.60 C495.54,532.22 496.12,530.91 496.69,529.71 C497.27,528.50 497.85,527.39 498.42,526.37 C499.00,525.35 499.58,524.43 500.15,523.57 C500.73,522.72 501.31,521.96 501.88,521.25 C502.46,520.54 503.04,519.91 503.61,519.32 C504.19,518.73 504.77,518.20 505.34,517.69 C505.92,517.19 506.50,516.73 507.07,516.29 C507.65,515.85 508.23,515.45 508.80,515.05 C509.38,514.66 509.96,514.29 510.53,513.93 C511.11,513.57 511.69,513.22 512.26,512.88 C512.84,512.54 513.42,512.20 513.99,511.88 C514.57,511.55 515.15,511.23 515.72,510.91 C516.30,510.59 516.88,510.28 517.45,509.96 C518.03,509.65 518.61,509.34 519.18,509.04 C519.76,508.73 520.34,508.43 520.91,508.12 C521.49,507.82 522.07,507.52 522.64,507.22 C523.22,506.92 523.80,506.63 524.37,506.33 C524.95,506.04 525.53,505.75 526.10,505.46 C526.68,505.17 527.26,504.89 527.83,504.60 C528.41,504.32 528.99,504.04 529.56,503.76 C530.14,503.48 530.72,503.21 531.29,502.93 C531.87,502.66 532.45,502.39 533.02,502.13 C533.60,501.86 534.18,501.60 534.75,501.34 C535.33,501.08 535.91,500.82 536.48,500.56 C537.06,500.31 537.64,500.06 538.21,499.81 C538.79,499.56 539.37,499.32 539.94,499.08 C540.52,498.84 541.10,498.60 541.67,498.36 C542.25,498.13 542.83,497.90 543.40,497.67 C543.98,497.44 544.56,497.21 545.13,496.99 C545.71,496.76 546.29,496.54 546.86,496.33 C547.44,496.11 548.02,495.90 548.59,495.68 C549.17,495.47 549.75,495.26 550.32,495.06 C550.90,494.85 551.48,494.65 552.05,494.45 C552.63,494.25 553.21,494.05 553.78,493.86 C554.36,493.66 554.94,493.47 555.51,493.28 C556.09,493.09 556.67,492.91 557.24,492.72 C557.82,492.54 558.40,492.36 558.97,492.18 C559.55,492.00 560.13,491.82 560.70,491.65 C561.28,491.48 561.86,491.31 562.43,491.14 C563.01,490.97 563.59,490.80 564.16,490.64 C564.74,490.47 565.32,490.31 565.89,490.15 C566.47,489.99 567.05,489.83 567.62,489.68 C568.20,489.52 568.78,489.37 569.35,489.22 C569.93,489.06 570.51,488.92 571.08,488.77 C571.66,488.62 572.24,488.48 572.81,488.33 C573.39,488.19 573.97,488.05 574.54,487.91 C575.12,487.77 575.70,487.63 576.27,487.50 C576.85,487.36 577.43,487.23 578.00,487.10 C578.58,486.97 579.16,486.84 579.73,486.71 C580.31,486.58 580.89,486.45 581.46,486.33 C582.04,486.20 582.62,486.08 583.19,485.96 C583.77,485.84 584.35,485.72 584.92,485.60 C585.50,485.48 586.08,485.37 586.65,485.25 C587.23,485.14 587.81,485.02 588.38,484.91 C588.96,484.80 589.54,484.69 590.11,484.58 C590.69,484.47 591.27,484.37 591.84,484.26 C592.42,484.15 593.00,484.05 593.57,483.95 C594.15,483.84 594.73,483.74 595.30,483.64 C595.88,483.54 596.46,483.44 597.03,483.34 C597.61,483.25 598.19,483.15 598.76,483.06 C599.34,482.96 599.92,482.87 600.49,482.77 C601.07,482.68 601.65,482.59 602.22,482.50 C602.80,482.41 603.38,482.32 603.95,482.23 C604.53,482.15 605.11,482.06 605.68,481.97 C606.26,481.89 606.84,481.81 607.41,481.72 C607.99,481.64 608.57,481.56 609.14,481.48 C609.72,481.39 610.30,481.31 610.87,481.24 C611.45,481.16 612.03,481.08 612.60,481.00 C613.18,480.93 613.76,480.85 614.33,480.77 C614.91,480.70 615.49,480.63 616.06,480.55 C616.64,480.48 617.22,480.41 617.79,480.34 C618.37,480.27 618.95,480.20 619.52,480.13 C620.10,480.06 620.68,479.99 621.25,479.92 C621.83,479.85 622.41,479.79 622.98,479.72 C623.56,479.66 624.14,479.59 624.71,479.53 C625.29,479.46 625.90,479.40 626.44,479.34 C626.99,479.28 627.74,479.20 628.00,479.17" fill="none" stroke="#88d0c8" stroke-width="0.8"/>
<path d="M470.74,573.69 C471.03,573.61 471.90,573.37 472.47,573.17 C473.05,572.96 473.63,572.73 474.20,572.44 C474.78,572.16 475.36,571.85 475.93,571.47 C476.51,571.09 477.09,570.66 477.66,570.16 C478.24,569.65 478.82,569.09 479.39,568.43 C479.97,567.77 480.55,567.04 481.12,566.21 C481.70,565.37 482.28,564.44 482.85,563.40 C483.43,562.36 484.01,561.22 484.58,559.98 C485.16,558.74 485.74,557.38 486.31,555.96 C486.89,554.54 487.47,553.01 488.04,551.46 C488.62,549.91 489.20,548.26 489.77,546.65 C490.35,545.04 490.93,543.38 491.50,541.79 C492.08,540.20 492.66,538.61 493.23,537.12 C493.81,535.63 494.39,534.18 494.96,532.84 C495.54,531.50 496.12,530.24 496.69,529.08 C497.27,527.92 497.85,526.86 498.42,525.88 C499.00,524.90 499.58,524.02 500.15,523.21 C500.73,522.40 501.31,521.68 501.88,521.00 C502.46,520.33 503.04,519.73 503.61,519.17 C504.19,518.61 504.77,518.11 505.34,517.63 C505.92,517.16 506.50,516.72 507.07,516.31 C507.65,515.89 508.23,515.51 508.80,515.14 C509.38,514.76 509.96,514.41 510.53,514.07 C511.11,513.73 511.69,513.40 512.26,513.07 C512.84,512.75 513.42,512.43 513.99,512.12 C514.57,511.81 515.15,511.51 515.72,511.20 C516.30,510.90 516.88,510.60 517.45,510.30 C518.03,510.01 518.61,509.71 519.18,509.42 C519.76,509.13 520.34,508.84 520.91,508.55 C521.49,508.27 522.07,507.98 522.64,507.70 C523.22,507.41 523.80,507.13 524.37,506.85 C524.95,506.58 525.53,506.30 526.10,506.03 C526.68,505.75 527.26,505.48 527.83,505.21 C528.41,504.94 528.99,504.67 529.56,504.41 C530.14,504.15 530.72,503.89 531.29,503.63 C531.87,503.37 532.45,503.12 533.02,502.86 C533.60,502.61 534.18,502.36 534.75,502.12 C535.33,501.87 535.91,501.63 536.48,501.39 C537.06,501.15 537.64,500.91 538.21,500.67 C538.79,500.44 539.37,500.21 539.94,499.98 C540.52,499.75 541.10,499.53 541.67,499.31 C542.25,499.08 542.83,498.87 543.40,498.65 C543.98,498.43 544.56,498.22 545.13,498.01 C545.71,497.80 546.29,497.59 546.86,497.39 C547.44,497.18 548.02,496.98 548.59,496.78 C549.17,496.59 549.75,496.39 550.32,496.20 C550.90,496.00 551.48,495.81 552.05,495.63 C552.63,495.44 553.21,495.25 553.78,495.07 C554.36,494.89 554.94,494.71 555.51,494.53 C556.09,494.36 556.67,494.18 557.24,494.01 C557.82,493.84 558.40,493.67 558.97,493.50 C559.55,493.33 560.13,493.17 560.70,493.01 C561.28,492.84 561.86,492.68 562.43,492.53 C563.01,492.37 563.59,492.21 564.16,492.06 C564.74,491.91 565.32,491.76 565.89,491.61 C566.47,491.46 567.05,491.31 567.62,491.17 C568.20,491.02 568.78,490.88 569.35,490.74 C569.93,490.60 570.51,490.46 571.08,490.32 C571.66,490.19 572.24,490.05 572.81,489.92 C573.39,489.79 573.97,489.66 574.54,489.53 C575.12,489.40 575.70,489.27 576.27,489.15 C576.85,489.02 577.43,488.90 578.00,488.78 C578.58,488.65 579.16,488.53 579.73,488.42 C580.31,488.30 580.89,488.18 581.46,488.07 C582.04,487.95 582.62,487.84 583.19,487.73 C583.77,487.62 584.35,487.51 584.92,487.40 C585.50,487.29 586.08,487.18 586.65,487.08 C587.23,486.97 587.81,486.87 588.38,486.77 C588.96,486.66 589.54,486.56 590.11,486.46 C590.69,486.36 591.27,486.26 591.84,486.17 C592.42,486.07 593.00,485.98 593.57,485.88 C594.15,485.79 594.73,485.70 595.30,485.60 C595.88,485.51 596.46,485.42 597.03,485.33 C597.61,485.24 598.19,485.16 598.76,485.07 C599.34,484.98 599.92,484.90 600.49,484.81 C601.07,484.73 601.65,484.65 602.22,484.57 C602.80,484.48 603.38,484.40 603.95,484.32 C604.53,484.25 605.11,484.17 605.68,484.09 C606.26,484.01 606.84,483.94 607.41,483.86 C607.99,483.79 608.57,483.71 609.14,483.64 C609.72,483.57 610.30,483.49 610.87,483.42 C611.45,483.35 612.03,483.28 612.60,483.21 C613.18,483.14 613.76,483.08 614.33,483.01 C614.91,482.94 615.49,482.88 616.06,482.81 C616.64,482.74 617.22,482.68 617.79,482.62 C618.37,482.55 618.95,482.49 619.52,482.43 C620.10,482.37 620.68,482.31 621.25,482.25 C621.83,482.18 622.41,482.13 622.98,482.07 C623.56,482.01 624.14,481.95 624.71,481.89 C625.29,481.84 625.90,481.78 626.44,481.72 C626.99,481.67 627.74,481.60 628.00,481.58" fill="none" stroke="#8a80d8" stroke-width="0.8"/>
<line x1="471.4" y1="461.20" x2="487.7" y2="461.20" stroke="#e0407a" stroke-width="0.9"/>
<text x="491.50" y="463.80" font-size="7.40" fill="#222" font-weight="normal" text-anchor="start" >50&#176;C</text>
<line x1="471.4" y1="469.75" x2="487.7" y2="469.75" stroke="#f0a090" stroke-width="0.9"/>
<text x="491.50" y="472.35" font-size="7.40" fill="#222" font-weight="normal" text-anchor="start" >40&#176;C</text>
<line x1="471.4" y1="478.30" x2="487.7" y2="478.30" stroke="#b8e090" stroke-width="0.9"/>
<text x="491.50" y="480.90" font-size="7.40" fill="#222" font-weight="normal" text-anchor="start" >30&#176;C</text>
<line x1="471.4" y1="486.85" x2="487.7" y2="486.85" stroke="#88d0c8" stroke-width="0.9"/>
<text x="491.50" y="489.45" font-size="7.40" fill="#222" font-weight="normal" text-anchor="start" >20&#176;C</text>
<line x1="471.4" y1="495.40" x2="487.7" y2="495.40" stroke="#8a80d8" stroke-width="0.9"/>
<text x="491.50" y="498.00" font-size="7.40" fill="#222" font-weight="normal" text-anchor="start" >10&#176;C</text>
<linearGradient id="g385" x1="0" y1="1" x2="0" y2="0"><stop offset="0" stop-color="#f05a50" stop-opacity="0.15"/><stop offset="0.5" stop-color="#ee4a44"/><stop offset="1" stop-color="#ee4a44"/></linearGradient>
<polygon points="618.90,468.20 622.10,475.60 620.30,475.00 619.70,491.00 618.10,491.00 617.50,475.00 615.70,475.60" fill="url(#g385)" />
</svg></body></html>
